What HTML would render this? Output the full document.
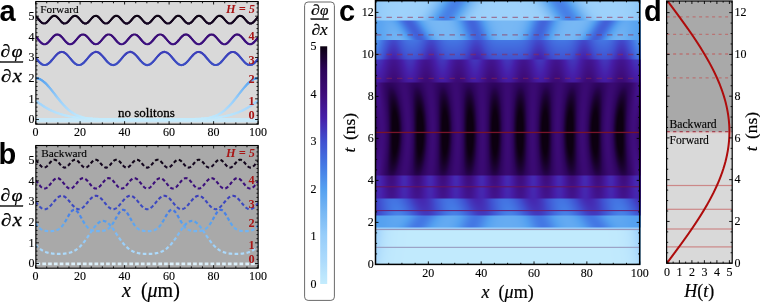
<!DOCTYPE html>
<html><head><meta charset="utf-8"><title>figure</title><style>
html,body{margin:0;padding:0;background:#fff;}
#root{position:relative;width:760px;height:302px;overflow:hidden;background:#fff;}
#root svg,#root canvas{position:absolute;left:0;top:0;}
#root svg{will-change:transform;}
#cv{left:375px !important;top:0px !important;width:266px;height:265px;}
</style></head><body><div id="root">
<svg id="base" width="760" height="302"><rect x="35.5" y="1" width="223" height="123.5" fill="#d9d9d9"/><rect x="35.5" y="145" width="223" height="123" fill="#a9a9a9"/><defs><clipPath id="clipA"><rect x="36" y="1.5" width="222" height="122.5"/></clipPath><clipPath id="clipB"><rect x="36" y="145.5" width="222" height="122"/></clipPath></defs><g clip-path="url(#clipA)"><path d="M35.6,120.2 L258.1,120.2" stroke="#c8e8f8" stroke-width="4.2" fill="none"/><g fill="none" stroke-width="2.2" stroke-linecap="round" stroke-linejoin="round"><path d="M35.60,100.91 L36.99,101.72" stroke="#9dd1fa"/><path d="M36.99,101.72 L38.32,102.62" stroke="#9ed2fb"/><path d="M38.32,102.62 L39.64,103.54" stroke="#a0d3fb"/><path d="M39.64,103.54 L40.97,104.46" stroke="#a2d4fb"/><path d="M40.97,104.46 L42.30,105.35" stroke="#a4d5fb"/><path d="M42.30,105.35 L43.65,106.23" stroke="#a5d6fb"/><path d="M43.65,106.23 L45.01,107.09" stroke="#a7d7fc"/><path d="M45.01,107.09 L46.39,107.92" stroke="#a9d8fc"/><path d="M46.39,107.92 L47.79,108.71" stroke="#aad9fc"/><path d="M47.79,108.71 L49.21,109.47" stroke="#acdafc"/><path d="M49.21,109.47 L50.65,110.20" stroke="#aedbfc"/><path d="M50.65,110.20 L52.10,110.90" stroke="#afdcfc"/><path d="M52.10,110.90 L53.57,111.55" stroke="#b1defc"/><path d="M53.57,111.55 L55.05,112.17" stroke="#b2dffc"/><path d="M55.05,112.17 L56.55,112.76" stroke="#b4e0fc"/><path d="M56.55,112.76 L58.07,113.31" stroke="#b5e1fc"/><path d="M58.07,113.31 L59.59,113.82" stroke="#b6e2fc"/><path d="M59.59,113.82 L61.13,114.30" stroke="#b7e3fc"/><path d="M61.13,114.30 L62.68,114.74" stroke="#b8e3fd"/><path d="M62.68,114.74 L64.23,115.15" stroke="#b9e4fd"/><path d="M64.23,115.15 L65.80,115.53" stroke="#bae5fd"/><path d="M65.80,115.53 L67.37,115.88" stroke="#bbe5fd"/><path d="M67.37,115.88 L68.95,116.21" stroke="#bce6fd"/><path d="M68.95,116.21 L70.53,116.50 L72.11,116.78" stroke="#bde7fd"/><path d="M72.11,116.78 L73.70,117.03" stroke="#bee7fd"/><path d="M73.70,117.03 L75.30,117.26 L76.89,117.47" stroke="#bfe8fd"/><path d="M76.89,117.47 L78.49,117.66" stroke="#bfe9fd"/><path d="M78.49,117.66 L80.09,117.83 L81.69,117.99" stroke="#c0e9fd"/><path d="M81.69,117.99 L83.30,118.14" stroke="#c1e9fd"/><path d="M83.30,118.14 L84.90,118.27 L86.51,118.39" stroke="#c1eafd"/><path d="M86.51,118.39 L88.11,118.50 L89.72,118.59 L91.33,118.68" stroke="#c2eafd"/><path d="M91.33,118.68 L92.93,118.76 L94.54,118.84" stroke="#c2ebfd"/><path d="M94.54,118.84 L96.15,118.90 L97.76,118.96 L99.37,119.02 L100.98,119.06 L102.59,119.11 L104.19,119.15 L105.80,119.18 L107.41,119.22" stroke="#c3ebfd"/><path d="M107.41,119.22 L109.02,119.25 L110.63,119.27 L112.24,119.30" stroke="#c3ecfd"/><path d="M112.24,119.30 L113.85,119.32 L115.46,119.34 L117.07,119.35 L118.68,119.37 L120.29,119.38 L121.90,119.39 L123.51,119.41 L125.12,119.42 L126.73,119.42 L128.34,119.43 L129.95,119.44 L131.56,119.45 L133.17,119.45 L134.78,119.46 L136.39,119.46 L138.00,119.47 L139.61,119.47 L141.22,119.47 L142.83,119.48 L144.44,119.48 L146.05,119.48 L147.65,119.48 L149.26,119.48 L150.87,119.48 L152.48,119.47 L154.09,119.47 L155.70,119.47 L157.31,119.46 L158.92,119.46 L160.53,119.45 L162.14,119.45 L163.75,119.44 L165.36,119.43 L166.97,119.42 L168.58,119.42 L170.19,119.41 L171.80,119.39 L173.41,119.38 L175.02,119.37 L176.63,119.35 L178.24,119.34 L179.85,119.32 L181.46,119.30" stroke="#c4ecfd"/><path d="M181.46,119.30 L183.07,119.27 L184.68,119.25 L186.29,119.22" stroke="#c3ecfd"/><path d="M186.29,119.22 L187.90,119.18 L189.51,119.15 L191.11,119.11 L192.72,119.06 L194.33,119.02 L195.94,118.96 L197.55,118.90 L199.16,118.84" stroke="#c3ebfd"/><path d="M199.16,118.84 L200.77,118.76 L202.37,118.68" stroke="#c2ebfd"/><path d="M202.37,118.68 L203.98,118.59 L205.59,118.50 L207.19,118.39" stroke="#c2eafd"/><path d="M207.19,118.39 L208.80,118.27 L210.40,118.14" stroke="#c1eafd"/><path d="M210.40,118.14 L212.01,117.99" stroke="#c1e9fd"/><path d="M212.01,117.99 L213.61,117.83 L215.21,117.66" stroke="#c0e9fd"/><path d="M215.21,117.66 L216.81,117.47" stroke="#bfe9fd"/><path d="M216.81,117.47 L218.40,117.26 L220.00,117.03" stroke="#bfe8fd"/><path d="M220.00,117.03 L221.59,116.78" stroke="#bee7fd"/><path d="M221.59,116.78 L223.17,116.50 L224.75,116.21" stroke="#bde7fd"/><path d="M224.75,116.21 L226.33,115.88" stroke="#bce6fd"/><path d="M226.33,115.88 L227.90,115.53" stroke="#bbe5fd"/><path d="M227.90,115.53 L229.47,115.15" stroke="#bae5fd"/><path d="M229.47,115.15 L231.02,114.74" stroke="#b9e4fd"/><path d="M231.02,114.74 L232.57,114.30" stroke="#b8e3fd"/><path d="M232.57,114.30 L234.11,113.82" stroke="#b7e3fc"/><path d="M234.11,113.82 L235.63,113.31" stroke="#b6e2fc"/><path d="M235.63,113.31 L237.15,112.76" stroke="#b5e1fc"/><path d="M237.15,112.76 L238.65,112.17" stroke="#b4e0fc"/><path d="M238.65,112.17 L240.13,111.55" stroke="#b2dffc"/><path d="M240.13,111.55 L241.60,110.90" stroke="#b1defc"/><path d="M241.60,110.90 L243.05,110.20" stroke="#afdcfc"/><path d="M243.05,110.20 L244.49,109.47" stroke="#aedbfc"/><path d="M244.49,109.47 L245.91,108.71" stroke="#acdafc"/><path d="M245.91,108.71 L247.31,107.92" stroke="#aad9fc"/><path d="M247.31,107.92 L248.69,107.09" stroke="#a9d8fc"/><path d="M248.69,107.09 L250.05,106.23" stroke="#a7d7fc"/><path d="M250.05,106.23 L251.40,105.35" stroke="#a5d6fb"/><path d="M251.40,105.35 L252.73,104.46" stroke="#a4d5fb"/><path d="M252.73,104.46 L254.06,103.54" stroke="#a2d4fb"/><path d="M254.06,103.54 L255.38,102.62" stroke="#a0d3fb"/><path d="M255.38,102.62 L256.71,101.72" stroke="#9ed2fb"/><path d="M256.71,101.72 L258.10,100.91" stroke="#9dd1fa"/></g><g fill="none" stroke-width="2.2" stroke-linecap="round" stroke-linejoin="round"><path d="M35.60,78.18 L37.20,78.32" stroke="#54a0f0"/><path d="M37.20,78.32 L38.76,78.73" stroke="#55a1f0"/><path d="M38.76,78.73 L40.24,79.35" stroke="#57a2f0"/><path d="M40.24,79.35 L41.64,80.14" stroke="#59a4f1"/><path d="M41.64,80.14 L42.96,81.06" stroke="#5ca6f1"/><path d="M42.96,81.06 L44.21,82.07" stroke="#60a8f1"/><path d="M44.21,82.07 L45.40,83.15" stroke="#63aaf2"/><path d="M45.40,83.15 L46.54,84.29" stroke="#67adf2"/><path d="M46.54,84.29 L47.65,85.46" stroke="#6bb0f3"/><path d="M47.65,85.46 L48.72,86.66" stroke="#6fb2f3"/><path d="M48.72,86.66 L49.76,87.88" stroke="#74b5f4"/><path d="M49.76,87.88 L50.78,89.13" stroke="#78b8f4"/><path d="M50.78,89.13 L51.79,90.38" stroke="#7cbbf5"/><path d="M51.79,90.38 L52.78,91.64" stroke="#80bdf5"/><path d="M52.78,91.64 L53.77,92.91" stroke="#84c0f6"/><path d="M53.77,92.91 L54.76,94.19" stroke="#88c3f7"/><path d="M54.76,94.19 L55.74,95.46" stroke="#8cc5f8"/><path d="M55.74,95.46 L56.73,96.73" stroke="#8fc8f8"/><path d="M56.73,96.73 L57.72,98.00" stroke="#93cbf9"/><path d="M57.72,98.00 L58.72,99.26" stroke="#97cefa"/><path d="M58.72,99.26 L59.73,100.51" stroke="#9acffa"/><path d="M59.73,100.51 L60.76,101.75" stroke="#9cd1fa"/><path d="M60.76,101.75 L61.80,102.97" stroke="#9fd2fb"/><path d="M61.80,102.97 L62.86,104.18" stroke="#a1d4fb"/><path d="M62.86,104.18 L63.95,105.37" stroke="#a3d5fb"/><path d="M63.95,105.37 L65.06,106.53" stroke="#a6d6fb"/><path d="M65.06,106.53 L66.20,107.66" stroke="#a8d8fc"/><path d="M66.20,107.66 L67.37,108.77" stroke="#aad9fc"/><path d="M67.37,108.77 L68.58,109.83" stroke="#acdafc"/><path d="M68.58,109.83 L69.82,110.85" stroke="#afdcfc"/><path d="M69.82,110.85 L71.11,111.82" stroke="#b1defc"/><path d="M71.11,111.82 L72.43,112.74" stroke="#b3dffc"/><path d="M72.43,112.74 L73.79,113.60" stroke="#b5e1fc"/><path d="M73.79,113.60 L75.18,114.40" stroke="#b7e2fc"/><path d="M75.18,114.40 L76.62,115.13" stroke="#b9e4fd"/><path d="M76.62,115.13 L78.09,115.79" stroke="#bbe5fd"/><path d="M78.09,115.79 L79.58,116.38" stroke="#bce6fd"/><path d="M79.58,116.38 L81.10,116.90" stroke="#bde7fd"/><path d="M81.10,116.90 L82.65,117.35" stroke="#bee8fd"/><path d="M82.65,117.35 L84.21,117.74" stroke="#bfe9fd"/><path d="M84.21,117.74 L85.78,118.07" stroke="#c0e9fd"/><path d="M85.78,118.07 L87.37,118.35" stroke="#c1eafd"/><path d="M87.37,118.35 L88.96,118.58" stroke="#c2eafd"/><path d="M88.96,118.58 L90.56,118.77 L92.16,118.92" stroke="#c2ebfd"/><path d="M92.16,118.92 L93.76,119.05 L95.37,119.15 L96.98,119.23" stroke="#c3ebfd"/><path d="M96.98,119.23 L98.58,119.29" stroke="#c3ecfd"/><path d="M98.58,119.29 L100.19,119.34 L101.80,119.38 L103.41,119.41 L105.02,119.43 L106.63,119.45 L108.24,119.46 L109.85,119.47 L111.45,119.48 L113.06,119.49 L114.67,119.49 L116.28,119.49 L117.89,119.50 L119.50,119.50 L121.11,119.50 L122.72,119.50 L124.33,119.50 L125.93,119.50 L127.54,119.50 L129.15,119.50 L130.76,119.50 L132.37,119.50 L133.98,119.50 L135.59,119.50 L137.20,119.50 L138.81,119.50 L140.41,119.50 L142.02,119.50 L143.63,119.50 L145.24,119.50 L146.85,119.50 L148.46,119.50 L150.07,119.50 L151.68,119.50 L153.29,119.50 L154.89,119.50 L156.50,119.50 L158.11,119.50 L159.72,119.50 L161.33,119.50 L162.94,119.50 L164.55,119.50 L166.16,119.50 L167.77,119.50 L169.37,119.50 L170.98,119.50 L172.59,119.50 L174.20,119.50 L175.81,119.50 L177.42,119.49 L179.03,119.49 L180.64,119.49 L182.25,119.48 L183.85,119.47 L185.46,119.46 L187.07,119.45 L188.68,119.43 L190.29,119.41 L191.90,119.38 L193.51,119.34 L195.12,119.29" stroke="#c4ecfd"/><path d="M195.12,119.29 L196.72,119.23" stroke="#c3ecfd"/><path d="M196.72,119.23 L198.33,119.15 L199.94,119.05 L201.54,118.92" stroke="#c3ebfd"/><path d="M201.54,118.92 L203.14,118.77 L204.74,118.58" stroke="#c2ebfd"/><path d="M204.74,118.58 L206.33,118.35" stroke="#c2eafd"/><path d="M206.33,118.35 L207.92,118.07" stroke="#c1eafd"/><path d="M207.92,118.07 L209.49,117.74" stroke="#c0e9fd"/><path d="M209.49,117.74 L211.05,117.35" stroke="#bfe9fd"/><path d="M211.05,117.35 L212.60,116.90" stroke="#bee8fd"/><path d="M212.60,116.90 L214.12,116.38" stroke="#bde7fd"/><path d="M214.12,116.38 L215.61,115.79" stroke="#bce6fd"/><path d="M215.61,115.79 L217.08,115.13" stroke="#bbe5fd"/><path d="M217.08,115.13 L218.52,114.40" stroke="#b9e4fd"/><path d="M218.52,114.40 L219.91,113.60" stroke="#b7e2fc"/><path d="M219.91,113.60 L221.27,112.74" stroke="#b5e1fc"/><path d="M221.27,112.74 L222.59,111.82" stroke="#b3dffc"/><path d="M222.59,111.82 L223.88,110.85" stroke="#b1defc"/><path d="M223.88,110.85 L225.12,109.83" stroke="#afdcfc"/><path d="M225.12,109.83 L226.33,108.77" stroke="#acdafc"/><path d="M226.33,108.77 L227.50,107.66" stroke="#aad9fc"/><path d="M227.50,107.66 L228.64,106.53" stroke="#a8d8fc"/><path d="M228.64,106.53 L229.75,105.37" stroke="#a6d6fb"/><path d="M229.75,105.37 L230.84,104.18" stroke="#a3d5fb"/><path d="M230.84,104.18 L231.90,102.97" stroke="#a1d4fb"/><path d="M231.90,102.97 L232.94,101.75" stroke="#9fd2fb"/><path d="M232.94,101.75 L233.97,100.51" stroke="#9cd1fa"/><path d="M233.97,100.51 L234.98,99.26" stroke="#9acffa"/><path d="M234.98,99.26 L235.98,98.00" stroke="#97cefa"/><path d="M235.98,98.00 L236.97,96.73" stroke="#93cbf9"/><path d="M236.97,96.73 L237.96,95.46" stroke="#8fc8f8"/><path d="M237.96,95.46 L238.94,94.19" stroke="#8cc5f8"/><path d="M238.94,94.19 L239.93,92.91" stroke="#88c3f7"/><path d="M239.93,92.91 L240.92,91.64" stroke="#84c0f6"/><path d="M240.92,91.64 L241.91,90.38" stroke="#80bdf5"/><path d="M241.91,90.38 L242.92,89.13" stroke="#7cbbf5"/><path d="M242.92,89.13 L243.94,87.88" stroke="#78b8f4"/><path d="M243.94,87.88 L244.98,86.66" stroke="#74b5f4"/><path d="M244.98,86.66 L246.05,85.46" stroke="#6fb2f3"/><path d="M246.05,85.46 L247.16,84.29" stroke="#6bb0f3"/><path d="M247.16,84.29 L248.30,83.15" stroke="#67adf2"/><path d="M248.30,83.15 L249.49,82.07" stroke="#63aaf2"/><path d="M249.49,82.07 L250.74,81.06" stroke="#60a8f1"/><path d="M250.74,81.06 L252.06,80.14" stroke="#5ca6f1"/><path d="M252.06,80.14 L253.46,79.35" stroke="#59a4f1"/><path d="M253.46,79.35 L254.94,78.73" stroke="#57a2f0"/><path d="M254.94,78.73 L256.50,78.32" stroke="#55a1f0"/><path d="M256.50,78.32 L258.10,78.18" stroke="#54a0f0"/></g><g fill="none" stroke-width="2.1" stroke-linecap="round" stroke-linejoin="round"><path d="M35.60,57.83 L36.62,59.07" stroke="#3c47bf"/><path d="M36.62,59.07 L37.65,60.29" stroke="#3c48c0"/><path d="M37.65,60.29 L38.71,61.49" stroke="#3c4ac1"/><path d="M38.71,61.49 L39.83,62.63" stroke="#3c4bc1"/><path d="M39.83,62.63 L41.05,63.67" stroke="#3c4cc2"/><path d="M41.05,63.67 L42.40,64.52" stroke="#3d4dc2"/><path d="M42.40,64.52 L43.91,65.03 L45.51,65.03 L47.02,64.51" stroke="#3d4ec3"/><path d="M47.02,64.51 L48.37,63.66" stroke="#3d4dc2"/><path d="M48.37,63.66 L49.58,62.62" stroke="#3c4cc2"/><path d="M49.58,62.62 L50.70,61.48" stroke="#3c4bc1"/><path d="M50.70,61.48 L51.76,60.28" stroke="#3c4ac0"/><path d="M51.76,60.28 L52.79,59.05" stroke="#3c48c0"/><path d="M52.79,59.05 L53.81,57.82" stroke="#3c47bf"/><path d="M53.81,57.82 L54.84,56.59" stroke="#3c45be"/><path d="M54.84,56.59 L55.91,55.40" stroke="#3c44bd"/><path d="M55.91,55.40 L57.04,54.27" stroke="#3c42bc"/><path d="M57.04,54.27 L58.27,53.24" stroke="#3c41bb"/><path d="M58.27,53.24 L59.64,52.42" stroke="#3d3fba"/><path d="M59.64,52.42 L61.16,51.95" stroke="#3d3fb9"/><path d="M61.16,51.95 L62.75,52.00" stroke="#3d3eb9"/><path d="M62.75,52.00 L64.25,52.56" stroke="#3d3fb9"/><path d="M64.25,52.56 L65.58,53.43" stroke="#3d40ba"/><path d="M65.58,53.43 L66.79,54.48" stroke="#3c41bb"/><path d="M66.79,54.48 L67.90,55.63" stroke="#3c43bc"/><path d="M67.90,55.63 L68.96,56.83" stroke="#3c44bd"/><path d="M68.96,56.83 L69.99,58.06" stroke="#3c46bf"/><path d="M69.99,58.06 L71.01,59.29" stroke="#3c47bf"/><path d="M71.01,59.29 L72.04,60.52" stroke="#3c48c0"/><path d="M72.04,60.52 L73.11,61.71" stroke="#3c4ac1"/><path d="M73.11,61.71 L74.25,62.83" stroke="#3c4bc1"/><path d="M74.25,62.83 L75.49,63.84" stroke="#3c4cc2"/><path d="M75.49,63.84 L76.87,64.65" stroke="#3d4dc2"/><path d="M76.87,64.65 L78.41,65.07 L79.99,64.97 L81.48,64.37" stroke="#3d4ec3"/><path d="M81.48,64.37 L82.80,63.48" stroke="#3c4dc2"/><path d="M82.80,63.48 L83.99,62.41" stroke="#3c4cc2"/><path d="M83.99,62.41 L85.10,61.26" stroke="#3c4bc1"/><path d="M85.10,61.26 L86.16,60.05" stroke="#3c49c0"/><path d="M86.16,60.05 L87.18,58.83" stroke="#3c48c0"/><path d="M87.18,58.83 L88.20,57.59" stroke="#3c47bf"/><path d="M88.20,57.59 L89.24,56.37" stroke="#3c45be"/><path d="M89.24,56.37 L90.31,55.19" stroke="#3c44bd"/><path d="M90.31,55.19 L91.46,54.07" stroke="#3c42bc"/><path d="M91.46,54.07 L92.71,53.07" stroke="#3c41bb"/><path d="M92.71,53.07 L94.11,52.30 L95.65,51.91" stroke="#3d3fb9"/><path d="M95.65,51.91 L97.24,52.07" stroke="#3d3eb9"/><path d="M97.24,52.07 L98.70,52.70" stroke="#3d3fb9"/><path d="M98.70,52.70 L100.01,53.62" stroke="#3d40ba"/><path d="M100.01,53.62 L101.20,54.69" stroke="#3c41bb"/><path d="M101.20,54.69 L102.30,55.85" stroke="#3c43bc"/><path d="M102.30,55.85 L103.35,57.06" stroke="#3c45be"/><path d="M103.35,57.06 L104.38,58.29" stroke="#3c46bf"/><path d="M104.38,58.29 L105.40,59.52" stroke="#3c47c0"/><path d="M105.40,59.52 L106.43,60.74" stroke="#3c49c0"/><path d="M106.43,60.74 L107.51,61.92" stroke="#3c4ac1"/><path d="M107.51,61.92 L108.67,63.03" stroke="#3c4bc2"/><path d="M108.67,63.03 L109.93,64.01" stroke="#3c4cc2"/><path d="M109.93,64.01 L111.34,64.76" stroke="#3d4dc2"/><path d="M111.34,64.76 L112.90,65.09 L114.48,64.89" stroke="#3d4ec3"/><path d="M114.48,64.89 L115.93,64.23" stroke="#3d4dc3"/><path d="M115.93,64.23 L117.23,63.29" stroke="#3c4dc2"/><path d="M117.23,63.29 L118.40,62.21" stroke="#3c4cc2"/><path d="M118.40,62.21 L119.50,61.04" stroke="#3c4ac1"/><path d="M119.50,61.04 L120.55,59.83" stroke="#3c49c0"/><path d="M120.55,59.83 L121.57,58.60" stroke="#3c48c0"/><path d="M121.57,58.60 L122.59,57.37" stroke="#3c46bf"/><path d="M122.59,57.37 L123.63,56.15" stroke="#3c45be"/><path d="M123.63,56.15 L124.72,54.98" stroke="#3c43bc"/><path d="M124.72,54.98 L125.88,53.87" stroke="#3c42bb"/><path d="M125.88,53.87 L127.15,52.91" stroke="#3c40ba"/><path d="M127.15,52.91 L128.58,52.19 L130.15,51.90" stroke="#3d3fb9"/><path d="M130.15,51.90 L131.72,52.16" stroke="#3d3eb9"/><path d="M131.72,52.16 L133.16,52.85" stroke="#3d3fb9"/><path d="M133.16,52.85 L134.44,53.80" stroke="#3c40ba"/><path d="M134.44,53.80 L135.61,54.90" stroke="#3c42bb"/><path d="M135.61,54.90 L136.70,56.07" stroke="#3c43bc"/><path d="M136.70,56.07 L137.74,57.28" stroke="#3c45be"/><path d="M137.74,57.28 L138.76,58.52" stroke="#3c46bf"/><path d="M138.76,58.52 L139.78,59.75" stroke="#3c48c0"/><path d="M139.78,59.75 L140.83,60.96" stroke="#3c49c0"/><path d="M140.83,60.96 L141.92,62.13" stroke="#3c4ac1"/><path d="M141.92,62.13 L143.09,63.22" stroke="#3c4cc2"/><path d="M143.09,63.22 L144.38,64.17" stroke="#3c4dc2"/><path d="M144.38,64.17 L145.82,64.86" stroke="#3d4dc3"/><path d="M145.82,64.86 L147.39,65.10 L148.96,64.79" stroke="#3d4ec3"/><path d="M148.96,64.79 L150.38,64.07" stroke="#3d4dc2"/><path d="M150.38,64.07 L151.65,63.10" stroke="#3c4cc2"/><path d="M151.65,63.10 L152.81,62.00" stroke="#3c4bc2"/><path d="M152.81,62.00 L153.89,60.82" stroke="#3c4ac1"/><path d="M153.89,60.82 L154.94,59.60" stroke="#3c49c0"/><path d="M154.94,59.60 L155.96,58.37" stroke="#3c48c0"/><path d="M155.96,58.37 L156.98,57.14" stroke="#3c46bf"/><path d="M156.98,57.14 L158.03,55.93" stroke="#3c45be"/><path d="M158.03,55.93 L159.12,54.77" stroke="#3c43bc"/><path d="M159.12,54.77 L160.30,53.68" stroke="#3c41bb"/><path d="M160.30,53.68 L161.60,52.75" stroke="#3c40ba"/><path d="M161.60,52.75 L163.06,52.10" stroke="#3d3fb9"/><path d="M163.06,52.10 L164.64,51.91" stroke="#3d3eb9"/><path d="M164.64,51.91 L166.20,52.26 L167.60,53.01" stroke="#3d3fb9"/><path d="M167.60,53.01 L168.86,54.00" stroke="#3c41ba"/><path d="M168.86,54.00 L170.01,55.11" stroke="#3c42bc"/><path d="M170.01,55.11 L171.09,56.29" stroke="#3c43bd"/><path d="M171.09,56.29 L172.13,57.51" stroke="#3c45be"/><path d="M172.13,57.51 L173.15,58.74" stroke="#3c46bf"/><path d="M173.15,58.74 L174.17,59.97" stroke="#3c48c0"/><path d="M174.17,59.97 L175.23,61.18" stroke="#3c49c0"/><path d="M175.23,61.18 L176.33,62.34" stroke="#3c4ac1"/><path d="M176.33,62.34 L177.52,63.41" stroke="#3c4cc2"/><path d="M177.52,63.41 L178.83,64.32" stroke="#3c4dc2"/><path d="M178.83,64.32 L180.30,64.94 L181.89,65.08 L183.43,64.69" stroke="#3d4ec3"/><path d="M183.43,64.69 L184.82,63.91" stroke="#3d4dc2"/><path d="M184.82,63.91 L186.07,62.90" stroke="#3c4cc2"/><path d="M186.07,62.90 L187.21,61.78" stroke="#3c4bc1"/><path d="M187.21,61.78 L188.29,60.60" stroke="#3c4ac1"/><path d="M188.29,60.60 L189.32,59.38" stroke="#3c49c0"/><path d="M189.32,59.38 L190.34,58.14" stroke="#3c47bf"/><path d="M190.34,58.14 L191.37,56.92" stroke="#3c46bf"/><path d="M191.37,56.92 L192.42,55.71" stroke="#3c44bd"/><path d="M192.42,55.71 L193.53,54.56" stroke="#3c43bc"/><path d="M193.53,54.56 L194.73,53.50" stroke="#3c41bb"/><path d="M194.73,53.50 L196.06,52.61" stroke="#3d40ba"/><path d="M196.06,52.61 L197.54,52.02" stroke="#3d3fb9"/><path d="M197.54,52.02 L199.13,51.93" stroke="#3d3eb9"/><path d="M199.13,51.93 L200.67,52.37" stroke="#3d3fb9"/><path d="M200.67,52.37 L202.04,53.18" stroke="#3d3fba"/><path d="M202.04,53.18 L203.28,54.19" stroke="#3c41bb"/><path d="M203.28,54.19 L204.42,55.32" stroke="#3c42bc"/><path d="M204.42,55.32 L205.49,56.51" stroke="#3c44bd"/><path d="M205.49,56.51 L206.52,57.74" stroke="#3c45be"/><path d="M206.52,57.74 L207.54,58.97" stroke="#3c47bf"/><path d="M207.54,58.97 L208.57,60.20" stroke="#3c48c0"/><path d="M208.57,60.20 L209.62,61.40" stroke="#3c4ac0"/><path d="M209.62,61.40 L210.74,62.54" stroke="#3c4bc1"/><path d="M210.74,62.54 L211.95,63.59" stroke="#3c4cc2"/><path d="M211.95,63.59 L213.29,64.46" stroke="#3d4dc2"/><path d="M213.29,64.46 L214.79,65.01 L216.38,65.05 L217.90,64.57" stroke="#3d4ec3"/><path d="M217.90,64.57 L219.26,63.73" stroke="#3d4dc2"/><path d="M219.26,63.73 L220.49,62.71" stroke="#3c4cc2"/><path d="M220.49,62.71 L221.62,61.57" stroke="#3c4bc1"/><path d="M221.62,61.57 L222.68,60.38" stroke="#3c4ac1"/><path d="M222.68,60.38 L223.71,59.15" stroke="#3c48c0"/><path d="M223.71,59.15 L224.73,57.92" stroke="#3c47bf"/><path d="M224.73,57.92 L225.76,56.69" stroke="#3c46be"/><path d="M225.76,56.69 L226.82,55.49" stroke="#3c44bd"/><path d="M226.82,55.49 L227.95,54.35" stroke="#3c42bc"/><path d="M227.95,54.35 L229.16,53.32" stroke="#3c41bb"/><path d="M229.16,53.32 L230.52,52.47" stroke="#3d40ba"/><path d="M230.52,52.47 L232.03,51.97" stroke="#3d3fb9"/><path d="M232.03,51.97 L233.63,51.98" stroke="#3d3eb9"/><path d="M233.63,51.98 L235.13,52.50" stroke="#3d3fb9"/><path d="M235.13,52.50 L236.48,53.35" stroke="#3d40ba"/><path d="M236.48,53.35 L237.70,54.40" stroke="#3c41bb"/><path d="M237.70,54.40 L238.82,55.54" stroke="#3c43bc"/><path d="M238.82,55.54 L239.88,56.74" stroke="#3c44bd"/><path d="M239.88,56.74 L240.91,57.96" stroke="#3c46be"/><path d="M240.91,57.96 L241.93,59.20" stroke="#3c47bf"/><path d="M241.93,59.20 L242.96,60.42" stroke="#3c48c0"/><path d="M242.96,60.42 L244.02,61.61" stroke="#3c4ac1"/><path d="M244.02,61.61 L245.15,62.75" stroke="#3c4bc1"/><path d="M245.15,62.75 L246.38,63.77" stroke="#3c4cc2"/><path d="M246.38,63.77 L247.75,64.59" stroke="#3d4dc2"/><path d="M247.75,64.59 L249.28,65.06 L250.87,64.99 L252.36,64.43" stroke="#3d4ec3"/><path d="M252.36,64.43 L253.70,63.56" stroke="#3d4dc2"/><path d="M253.70,63.56 L254.90,62.50" stroke="#3c4cc2"/><path d="M254.90,62.50 L256.02,61.35" stroke="#3c4bc1"/><path d="M256.02,61.35 L257.07,60.15" stroke="#3c4ac0"/><path d="M257.07,60.15 L258.10,58.92" stroke="#3c48c0"/></g><g fill="none" stroke-width="2.1" stroke-linecap="round" stroke-linejoin="round"><path d="M35.60,36.53 L36.69,37.71" stroke="#3b0d77"/><path d="M36.69,37.71 L37.73,38.93" stroke="#3b0e79"/><path d="M37.73,38.93 L38.75,40.17" stroke="#3c0f7a"/><path d="M38.75,40.17 L39.80,41.38" stroke="#3c0f7c"/><path d="M39.80,41.38 L40.92,42.53" stroke="#3c107e"/><path d="M40.92,42.53 L42.18,43.52" stroke="#3d117f"/><path d="M42.18,43.52 L43.63,44.19 L45.22,44.22 L46.69,43.61" stroke="#3d1180"/><path d="M46.69,43.61 L47.96,42.63" stroke="#3d117f"/><path d="M47.96,42.63 L49.09,41.49" stroke="#3c107e"/><path d="M49.09,41.49 L50.15,40.29" stroke="#3c0f7c"/><path d="M50.15,40.29 L51.17,39.05" stroke="#3c0f7b"/><path d="M51.17,39.05 L52.21,37.83" stroke="#3b0e79"/><path d="M52.21,37.83 L53.29,36.64" stroke="#3b0e78"/><path d="M53.29,36.64 L54.48,35.57" stroke="#3b0d77"/><path d="M54.48,35.57 L55.84,34.73" stroke="#3a0d76"/><path d="M55.84,34.73 L57.40,34.40 L58.95,34.78" stroke="#3a0d75"/><path d="M58.95,34.78 L60.30,35.63" stroke="#3a0d76"/><path d="M60.30,35.63 L61.48,36.72" stroke="#3b0d77"/><path d="M61.48,36.72 L62.56,37.90" stroke="#3b0e78"/><path d="M62.56,37.90 L63.59,39.13" stroke="#3b0e79"/><path d="M63.59,39.13 L64.62,40.36" stroke="#3c0f7b"/><path d="M64.62,40.36 L65.68,41.57" stroke="#3c0f7c"/><path d="M65.68,41.57 L66.81,42.70" stroke="#3c107e"/><path d="M66.81,42.70 L68.10,43.66" stroke="#3d117f"/><path d="M68.10,43.66 L69.58,44.24 L71.17,44.16 L72.61,43.47" stroke="#3d1180"/><path d="M72.61,43.47 L73.85,42.46" stroke="#3d117f"/><path d="M73.85,42.46 L74.96,41.30" stroke="#3c107d"/><path d="M74.96,41.30 L76.01,40.09" stroke="#3c0f7c"/><path d="M76.01,40.09 L77.04,38.85" stroke="#3c0f7a"/><path d="M77.04,38.85 L78.07,37.63" stroke="#3b0e79"/><path d="M78.07,37.63 L79.17,36.46" stroke="#3b0d77"/><path d="M79.17,36.46 L80.38,35.42" stroke="#3b0d76"/><path d="M80.38,35.42 L81.78,34.64 L83.36,34.42 L84.88,34.89" stroke="#3a0d75"/><path d="M84.88,34.89 L86.20,35.80" stroke="#3a0d76"/><path d="M86.20,35.80 L87.36,36.90" stroke="#3b0d77"/><path d="M87.36,36.90 L88.43,38.10" stroke="#3b0e78"/><path d="M88.43,38.10 L89.46,39.33" stroke="#3b0e79"/><path d="M89.46,39.33 L90.48,40.56" stroke="#3c0f7b"/><path d="M90.48,40.56 L91.55,41.76" stroke="#3c0f7c"/><path d="M91.55,41.76 L92.71,42.87" stroke="#3c107e"/><path d="M92.71,42.87 L94.02,43.78" stroke="#3d117f"/><path d="M94.02,43.78 L95.53,44.28 L97.11,44.08 L98.52,43.32" stroke="#3d1180"/><path d="M98.52,43.32 L99.73,42.28" stroke="#3d107e"/><path d="M99.73,42.28 L100.84,41.11" stroke="#3c107d"/><path d="M100.84,41.11 L101.88,39.89" stroke="#3c0f7c"/><path d="M101.88,39.89 L102.90,38.66" stroke="#3c0f7a"/><path d="M102.90,38.66 L103.95,37.44" stroke="#3b0e79"/><path d="M103.95,37.44 L105.06,36.28" stroke="#3b0d77"/><path d="M105.06,36.28 L106.29,35.27" stroke="#3b0d76"/><path d="M106.29,35.27 L107.72,34.56 L109.31,34.45 L110.80,35.01" stroke="#3a0d75"/><path d="M110.80,35.01 L112.09,35.96" stroke="#3b0d76"/><path d="M112.09,35.96 L113.23,37.09" stroke="#3b0d77"/><path d="M113.23,37.09 L114.29,38.29" stroke="#3b0e78"/><path d="M114.29,38.29 L115.32,39.52" stroke="#3c0f7a"/><path d="M115.32,39.52 L116.35,40.75" stroke="#3c0f7b"/><path d="M116.35,40.75 L117.43,41.94" stroke="#3c107d"/><path d="M117.43,41.94 L118.60,43.03" stroke="#3c107e"/><path d="M118.60,43.03 L119.95,43.90" stroke="#3d117f"/><path d="M119.95,43.90 L121.49,44.30 L123.05,43.99 L124.42,43.17" stroke="#3d1180"/><path d="M124.42,43.17 L125.62,42.10" stroke="#3c107e"/><path d="M125.62,42.10 L126.70,40.92" stroke="#3c107d"/><path d="M126.70,40.92 L127.74,39.70" stroke="#3c0f7b"/><path d="M127.74,39.70 L128.76,38.46" stroke="#3c0f7a"/><path d="M128.76,38.46 L129.82,37.25" stroke="#3b0e78"/><path d="M129.82,37.25 L130.94,36.11" stroke="#3b0d77"/><path d="M130.94,36.11 L132.21,35.13" stroke="#3b0d76"/><path d="M132.21,35.13 L133.67,34.49 L135.26,34.50 L136.72,35.14" stroke="#3a0d75"/><path d="M136.72,35.14 L137.98,36.13" stroke="#3b0d76"/><path d="M137.98,36.13 L139.11,37.28" stroke="#3b0d77"/><path d="M139.11,37.28 L140.16,38.49" stroke="#3b0e79"/><path d="M140.16,38.49 L141.18,39.72" stroke="#3c0f7a"/><path d="M141.18,39.72 L142.22,40.95" stroke="#3c0f7b"/><path d="M142.22,40.95 L143.31,42.12" stroke="#3c107d"/><path d="M143.31,42.12 L144.51,43.19" stroke="#3c107e"/><path d="M144.51,43.19 L145.88,44.00 L147.45,44.29 L148.98,43.88" stroke="#3d1180"/><path d="M148.98,43.88 L150.32,43.01" stroke="#3d117f"/><path d="M150.32,43.01 L151.50,41.92" stroke="#3c107e"/><path d="M151.50,41.92 L152.57,40.73" stroke="#3c107d"/><path d="M152.57,40.73 L153.60,39.50" stroke="#3c0f7b"/><path d="M153.60,39.50 L154.63,38.27" stroke="#3c0f7a"/><path d="M154.63,38.27 L155.69,37.06" stroke="#3b0e78"/><path d="M155.69,37.06 L156.84,35.94" stroke="#3b0d77"/><path d="M156.84,35.94 L158.13,34.99" stroke="#3b0d76"/><path d="M158.13,34.99 L159.62,34.44 L161.21,34.57 L162.63,35.29" stroke="#3a0d75"/><path d="M162.63,35.29 L163.87,36.31" stroke="#3b0d76"/><path d="M163.87,36.31 L164.98,37.47" stroke="#3b0d77"/><path d="M164.98,37.47 L166.02,38.68" stroke="#3b0e79"/><path d="M166.02,38.68 L167.05,39.92" stroke="#3c0f7a"/><path d="M167.05,39.92 L168.09,41.14" stroke="#3c0f7c"/><path d="M168.09,41.14 L169.19,42.30" stroke="#3c107d"/><path d="M169.19,42.30 L170.41,43.34" stroke="#3d107f"/><path d="M170.41,43.34 L171.82,44.10 L173.40,44.27 L174.91,43.77" stroke="#3d1180"/><path d="M174.91,43.77 L176.22,42.84" stroke="#3d117f"/><path d="M176.22,42.84 L177.37,41.73" stroke="#3c107e"/><path d="M177.37,41.73 L178.44,40.53" stroke="#3c0f7c"/><path d="M178.44,40.53 L179.47,39.30" stroke="#3c0f7b"/><path d="M179.47,39.30 L180.50,38.07" stroke="#3b0e79"/><path d="M180.50,38.07 L181.57,36.88" stroke="#3b0e78"/><path d="M181.57,36.88 L182.73,35.77" stroke="#3b0d77"/><path d="M182.73,35.77 L184.05,34.87" stroke="#3a0d76"/><path d="M184.05,34.87 L185.58,34.41 L187.15,34.65 L188.54,35.44" stroke="#3a0d75"/><path d="M188.54,35.44 L189.75,36.49" stroke="#3b0d76"/><path d="M189.75,36.49 L190.85,37.66" stroke="#3b0d77"/><path d="M190.85,37.66 L191.89,38.88" stroke="#3b0e79"/><path d="M191.89,38.88 L192.91,40.12" stroke="#3c0f7a"/><path d="M192.91,40.12 L193.96,41.33" stroke="#3c0f7c"/><path d="M193.96,41.33 L195.08,42.48" stroke="#3c107d"/><path d="M195.08,42.48 L196.32,43.49" stroke="#3d117f"/><path d="M196.32,43.49 L197.77,44.17 L199.35,44.23 L200.83,43.64" stroke="#3d1180"/><path d="M200.83,43.64 L202.11,42.67" stroke="#3d117f"/><path d="M202.11,42.67 L203.25,41.54" stroke="#3c107e"/><path d="M203.25,41.54 L204.30,40.34" stroke="#3c0f7c"/><path d="M204.30,40.34 L205.33,39.10" stroke="#3c0f7b"/><path d="M205.33,39.10 L206.36,37.88" stroke="#3b0e79"/><path d="M206.36,37.88 L207.44,36.69" stroke="#3b0e78"/><path d="M207.44,36.69 L208.63,35.61" stroke="#3b0d77"/><path d="M208.63,35.61 L209.98,34.76" stroke="#3a0d76"/><path d="M209.98,34.76 L211.53,34.40 L213.09,34.75" stroke="#3a0d75"/><path d="M213.09,34.75 L214.45,35.59" stroke="#3a0d76"/><path d="M214.45,35.59 L215.63,36.67" stroke="#3b0d77"/><path d="M215.63,36.67 L216.72,37.85" stroke="#3b0e78"/><path d="M216.72,37.85 L217.75,39.08" stroke="#3b0e79"/><path d="M217.75,39.08 L218.77,40.31" stroke="#3c0f7b"/><path d="M218.77,40.31 L219.83,41.52" stroke="#3c0f7c"/><path d="M219.83,41.52 L220.96,42.65" stroke="#3c107e"/><path d="M220.96,42.65 L222.24,43.62" stroke="#3d117f"/><path d="M222.24,43.62 L223.71,44.23 L225.30,44.18 L226.75,43.50" stroke="#3d1180"/><path d="M226.75,43.50 L228.00,42.50" stroke="#3d117f"/><path d="M228.00,42.50 L229.12,41.35" stroke="#3c107e"/><path d="M229.12,41.35 L230.17,40.14" stroke="#3c0f7c"/><path d="M230.17,40.14 L231.19,38.91" stroke="#3c0f7a"/><path d="M231.19,38.91 L232.23,37.68" stroke="#3b0e79"/><path d="M232.23,37.68 L233.32,36.51" stroke="#3b0d77"/><path d="M233.32,36.51 L234.53,35.46" stroke="#3b0d76"/><path d="M234.53,35.46 L235.92,34.66 L237.49,34.41 L239.02,34.86" stroke="#3a0d75"/><path d="M239.02,34.86 L240.35,35.75" stroke="#3a0d76"/><path d="M240.35,35.75 L241.51,36.85" stroke="#3b0d77"/><path d="M241.51,36.85 L242.58,38.05" stroke="#3b0e78"/><path d="M242.58,38.05 L243.61,39.28" stroke="#3b0e79"/><path d="M243.61,39.28 L244.64,40.51" stroke="#3c0f7b"/><path d="M244.64,40.51 L245.70,41.71" stroke="#3c0f7c"/><path d="M245.70,41.71 L246.86,42.82" stroke="#3c107e"/><path d="M246.86,42.82 L248.16,43.75" stroke="#3d117f"/><path d="M248.16,43.75 L249.67,44.27 L251.25,44.10 L252.66,43.36" stroke="#3d1180"/><path d="M252.66,43.36 L253.89,42.33" stroke="#3d107f"/><path d="M253.89,42.33 L254.99,41.16" stroke="#3c107d"/><path d="M254.99,41.16 L256.03,39.94" stroke="#3c0f7c"/><path d="M256.03,39.94 L257.06,38.71" stroke="#3c0f7a"/><path d="M257.06,38.71 L258.10,37.49" stroke="#3b0e79"/></g><g fill="none" stroke-width="2.1" stroke-linecap="round" stroke-linejoin="round"><path d="M35.60,16.33 L36.84,17.35" stroke="#110617"/><path d="M36.84,17.35 L37.94,18.52" stroke="#120619"/><path d="M37.94,18.52 L38.97,19.75" stroke="#13061c"/><path d="M38.97,19.75 L40.01,20.98" stroke="#14061e"/><path d="M40.01,20.98 L41.13,22.14" stroke="#150620"/><path d="M41.13,22.14 L42.40,23.11" stroke="#160623"/><path d="M42.40,23.11 L43.92,23.59 L45.47,23.24" stroke="#160724"/><path d="M45.47,23.24 L46.78,22.31" stroke="#160723"/><path d="M46.78,22.31 L47.91,21.17" stroke="#150621"/><path d="M47.91,21.17 L48.96,19.95" stroke="#14061e"/><path d="M48.96,19.95 L49.99,18.72" stroke="#13061c"/><path d="M49.99,18.72 L51.08,17.53" stroke="#12061a"/><path d="M51.08,17.53 L52.29,16.47" stroke="#110617"/><path d="M52.29,16.47 L53.72,15.78 L55.31,15.86 L56.70,16.65" stroke="#100616"/><path d="M56.70,16.65 L57.88,17.74" stroke="#110618"/><path d="M57.88,17.74 L58.95,18.94" stroke="#12061a"/><path d="M58.95,18.94 L59.98,20.18" stroke="#13061c"/><path d="M59.98,20.18 L61.04,21.39" stroke="#14061f"/><path d="M61.04,21.39 L62.19,22.50" stroke="#150621"/><path d="M62.19,22.50 L63.55,23.36" stroke="#160723"/><path d="M63.55,23.36 L65.12,23.56 L66.60,22.96" stroke="#160724"/><path d="M66.60,22.96 L67.84,21.93" stroke="#160622"/><path d="M67.84,21.93 L68.93,20.76" stroke="#150620"/><path d="M68.93,20.76 L69.97,19.53" stroke="#14061e"/><path d="M69.97,19.53 L71.01,18.30" stroke="#13061b"/><path d="M71.01,18.30 L72.12,17.14" stroke="#120619"/><path d="M72.12,17.14 L73.40,16.17" stroke="#110617"/><path d="M73.40,16.17 L74.92,15.70 L76.47,16.08" stroke="#100616"/><path d="M76.47,16.08 L77.78,17.01" stroke="#110616"/><path d="M77.78,17.01 L78.91,18.15" stroke="#110619"/><path d="M78.91,18.15 L79.95,19.37" stroke="#13061b"/><path d="M79.95,19.37 L80.99,20.60" stroke="#14061d"/><path d="M80.99,20.60 L82.07,21.79" stroke="#150620"/><path d="M82.07,21.79 L83.28,22.84" stroke="#160622"/><path d="M83.28,22.84 L84.73,23.53" stroke="#160724"/><path d="M84.73,23.53 L86.31,23.43" stroke="#170724"/><path d="M86.31,23.43 L87.70,22.63" stroke="#160723"/><path d="M87.70,22.63 L88.87,21.54" stroke="#150622"/><path d="M88.87,21.54 L89.94,20.33" stroke="#15061f"/><path d="M89.94,20.33 L90.97,19.10" stroke="#13061d"/><path d="M90.97,19.10 L92.03,17.89" stroke="#12061a"/><path d="M92.03,17.89 L93.19,16.78" stroke="#110618"/><path d="M93.19,16.78 L94.55,15.93 L96.13,15.74 L97.60,16.36" stroke="#100616"/><path d="M97.60,16.36 L98.83,17.39" stroke="#110617"/><path d="M98.83,17.39 L99.92,18.57" stroke="#120619"/><path d="M99.92,18.57 L100.96,19.80" stroke="#13061c"/><path d="M100.96,19.80 L102.00,21.02" stroke="#14061e"/><path d="M102.00,21.02 L103.12,22.18" stroke="#150621"/><path d="M103.12,22.18 L104.40,23.14" stroke="#160723"/><path d="M104.40,23.14 L105.93,23.60 L107.47,23.21" stroke="#160724"/><path d="M107.47,23.21 L108.77,22.28" stroke="#160723"/><path d="M108.77,22.28 L109.90,21.13" stroke="#150621"/><path d="M109.90,21.13 L110.95,19.91" stroke="#14061e"/><path d="M110.95,19.91 L111.98,18.68" stroke="#13061c"/><path d="M111.98,18.68 L113.07,17.49" stroke="#120619"/><path d="M113.07,17.49 L114.28,16.44" stroke="#110617"/><path d="M114.28,16.44 L115.73,15.77 L117.31,15.88 L118.70,16.68" stroke="#100616"/><path d="M118.70,16.68 L119.87,17.78" stroke="#110618"/><path d="M119.87,17.78 L120.93,18.99" stroke="#12061a"/><path d="M120.93,18.99 L121.97,20.22" stroke="#13061c"/><path d="M121.97,20.22 L123.03,21.43" stroke="#14061f"/><path d="M123.03,21.43 L124.19,22.54" stroke="#150621"/><path d="M124.19,22.54 L125.55,23.38" stroke="#160723"/><path d="M125.55,23.38 L127.13,23.56" stroke="#170724"/><path d="M127.13,23.56 L128.60,22.93" stroke="#160724"/><path d="M128.60,22.93 L129.83,21.89" stroke="#160622"/><path d="M129.83,21.89 L130.92,20.71" stroke="#150620"/><path d="M130.92,20.71 L131.95,19.48" stroke="#14061e"/><path d="M131.95,19.48 L133.00,18.26" stroke="#13061b"/><path d="M133.00,18.26 L134.12,17.10" stroke="#120619"/><path d="M134.12,17.10 L135.40,16.15" stroke="#110617"/><path d="M135.40,16.15 L136.93,15.70 L138.47,16.10" stroke="#100616"/><path d="M138.47,16.10 L139.77,17.04" stroke="#110617"/><path d="M139.77,17.04 L140.89,18.19" stroke="#110619"/><path d="M140.89,18.19 L141.94,19.41" stroke="#13061b"/><path d="M141.94,19.41 L142.98,20.65" stroke="#14061d"/><path d="M142.98,20.65 L144.06,21.83" stroke="#150620"/><path d="M144.06,21.83 L145.28,22.88" stroke="#160622"/><path d="M145.28,22.88 L146.73,23.54" stroke="#160724"/><path d="M146.73,23.54 L148.32,23.41" stroke="#170724"/><path d="M148.32,23.41 L149.69,22.60" stroke="#160723"/><path d="M149.69,22.60 L150.86,21.50" stroke="#150622"/><path d="M150.86,21.50 L151.93,20.29" stroke="#15061f"/><path d="M151.93,20.29 L152.96,19.06" stroke="#13061d"/><path d="M152.96,19.06 L154.02,17.85" stroke="#12061a"/><path d="M154.02,17.85 L155.19,16.74" stroke="#110618"/><path d="M155.19,16.74 L156.55,15.91 L158.13,15.75 L159.59,16.39" stroke="#100616"/><path d="M159.59,16.39 L160.82,17.43" stroke="#110617"/><path d="M160.82,17.43 L161.91,18.61" stroke="#120619"/><path d="M161.91,18.61 L162.95,19.84" stroke="#13061c"/><path d="M162.95,19.84 L163.99,21.06" stroke="#14061e"/><path d="M163.99,21.06 L165.11,22.22" stroke="#150621"/><path d="M165.11,22.22 L166.40,23.17" stroke="#160723"/><path d="M166.40,23.17 L167.93,23.60 L169.47,23.18" stroke="#160724"/><path d="M169.47,23.18 L170.77,22.24" stroke="#160723"/><path d="M170.77,22.24 L171.89,21.09" stroke="#150621"/><path d="M171.89,21.09 L172.93,19.86" stroke="#14061e"/><path d="M172.93,19.86 L173.97,18.63" stroke="#13061c"/><path d="M173.97,18.63 L175.06,17.45" stroke="#120619"/><path d="M175.06,17.45 L176.28,16.41" stroke="#110617"/><path d="M176.28,16.41 L177.74,15.75 L179.32,15.90 L180.69,16.72" stroke="#100616"/><path d="M180.69,16.72 L181.86,17.83" stroke="#110618"/><path d="M181.86,17.83 L182.92,19.03" stroke="#12061a"/><path d="M182.92,19.03 L183.95,20.27" stroke="#13061d"/><path d="M183.95,20.27 L185.02,21.47" stroke="#14061f"/><path d="M185.02,21.47 L186.18,22.58" stroke="#150622"/><path d="M186.18,22.58 L187.56,23.40" stroke="#160723"/><path d="M187.56,23.40 L189.14,23.55" stroke="#170724"/><path d="M189.14,23.55 L190.59,22.89" stroke="#160724"/><path d="M190.59,22.89 L191.82,21.85" stroke="#160622"/><path d="M191.82,21.85 L192.90,20.67" stroke="#150620"/><path d="M192.90,20.67 L193.94,19.44" stroke="#14061e"/><path d="M193.94,19.44 L194.98,18.22" stroke="#13061b"/><path d="M194.98,18.22 L196.11,17.07" stroke="#110619"/><path d="M196.11,17.07 L197.40,16.12" stroke="#110617"/><path d="M197.40,16.12 L198.94,15.70 L200.47,16.13" stroke="#100616"/><path d="M200.47,16.13 L201.76,17.08" stroke="#110617"/><path d="M201.76,17.08 L202.88,18.24" stroke="#120619"/><path d="M202.88,18.24 L203.93,19.46" stroke="#13061b"/><path d="M203.93,19.46 L204.96,20.69" stroke="#14061e"/><path d="M204.96,20.69 L206.05,21.87" stroke="#150620"/><path d="M206.05,21.87 L207.28,22.91" stroke="#160622"/><path d="M207.28,22.91 L208.74,23.55" stroke="#160724"/><path d="M208.74,23.55 L210.32,23.39" stroke="#170724"/><path d="M210.32,23.39 L211.69,22.56" stroke="#160723"/><path d="M211.69,22.56 L212.85,21.45" stroke="#150622"/><path d="M212.85,21.45 L213.91,20.25" stroke="#14061f"/><path d="M213.91,20.25 L214.95,19.01" stroke="#13061d"/><path d="M214.95,19.01 L216.01,17.81" stroke="#12061a"/><path d="M216.01,17.81 L217.18,16.71" stroke="#110618"/><path d="M217.18,16.71 L218.56,15.89 L220.14,15.76 L221.59,16.42" stroke="#100616"/><path d="M221.59,16.42 L222.81,17.47" stroke="#110617"/><path d="M222.81,17.47 L223.90,18.65" stroke="#120619"/><path d="M223.90,18.65 L224.93,19.88" stroke="#13061c"/><path d="M224.93,19.88 L225.98,21.11" stroke="#14061e"/><path d="M225.98,21.11 L227.10,22.25" stroke="#150621"/><path d="M227.10,22.25 L228.40,23.20" stroke="#160723"/><path d="M228.40,23.20 L229.94,23.60 L231.47,23.16" stroke="#160724"/><path d="M231.47,23.16 L232.76,22.20" stroke="#160723"/><path d="M232.76,22.20 L233.88,21.04" stroke="#150621"/><path d="M233.88,21.04 L234.92,19.82" stroke="#14061e"/><path d="M234.92,19.82 L235.96,18.59" stroke="#13061c"/><path d="M235.96,18.59 L237.05,17.41" stroke="#120619"/><path d="M237.05,17.41 L238.28,16.38" stroke="#110617"/><path d="M238.28,16.38 L239.74,15.74 L241.32,15.92 L242.68,16.76" stroke="#100616"/><path d="M242.68,16.76 L243.85,17.87" stroke="#110618"/><path d="M243.85,17.87 L244.91,19.08" stroke="#12061a"/><path d="M244.91,19.08 L245.94,20.31" stroke="#13061d"/><path d="M245.94,20.31 L247.00,21.52" stroke="#15061f"/><path d="M247.00,21.52 L248.18,22.61" stroke="#150622"/><path d="M248.18,22.61 L249.56,23.42" stroke="#160723"/><path d="M249.56,23.42 L251.14,23.53" stroke="#170724"/><path d="M251.14,23.53 L252.59,22.86" stroke="#160724"/><path d="M252.59,22.86 L253.81,21.81" stroke="#160622"/><path d="M253.81,21.81 L254.89,20.63" stroke="#150620"/><path d="M254.89,20.63 L255.93,19.39" stroke="#14061d"/><path d="M255.93,19.39 L256.97,18.17" stroke="#13061b"/><path d="M256.97,18.17 L258.10,17.03" stroke="#110619"/></g></g><g clip-path="url(#clipB)"><path d="M35.6,263.9 L258.1,263.9" stroke="#dcf0fa" stroke-width="2.6" stroke-dasharray="3.7 2.1" stroke-dashoffset="4.9" fill="none"/><g fill="none" stroke-width="2.2" stroke-linecap="butt"><path d="M35.60,244.74 L35.95,245.12 L36.30,245.49 L36.65,245.87 L37.01,246.23 L37.38,246.59 L37.75,246.95 L38.13,247.30" stroke="#9ed2fb"/><path d="M39.97,248.84 L40.38,249.15 L40.80,249.45 L41.22,249.74 L41.65,250.02 L42.09,250.29 L42.53,250.55 L42.98,250.80" stroke="#a6d6fb"/><path d="M45.15,251.82 L45.63,252.01 L46.12,252.18 L46.60,252.35 L47.09,252.51 L47.59,252.65 L48.08,252.79 L48.58,252.91" stroke="#abd9fc"/><path d="M50.93,253.38 L51.44,253.45 L51.95,253.52 L52.46,253.59 L52.97,253.64 L53.49,253.69 L54.00,253.74 L54.51,253.78" stroke="#addbfc"/><path d="M56.91,253.90 L57.42,253.91 L57.94,253.92 L58.45,253.92 L58.96,253.92 L59.48,253.92 L59.99,253.91 L60.51,253.89" stroke="#aedbfc"/><path d="M62.90,253.78 L63.42,253.74 L63.93,253.69 L64.44,253.64 L64.95,253.59 L65.46,253.52 L65.97,253.45 L66.48,253.37" stroke="#addbfc"/><path d="M68.83,252.91 L69.33,252.78 L69.83,252.65 L70.32,252.50 L70.81,252.35 L71.30,252.18 L71.78,252.00 L72.26,251.81" stroke="#abd9fc"/><path d="M74.43,250.79 L74.88,250.54 L75.32,250.28 L75.76,250.01 L76.19,249.73 L76.61,249.44 L77.03,249.14 L77.44,248.83" stroke="#a6d6fb"/><path d="M79.28,247.29 L79.66,246.94 L80.03,246.58 L80.40,246.22 L80.76,245.86 L81.11,245.48 L81.46,245.11 L81.81,244.73" stroke="#9ed2fb"/><path d="M83.36,242.90 L83.68,242.50 L84.00,242.09 L84.32,241.68 L84.63,241.28 L84.94,240.86 L85.24,240.45 L85.55,240.04" stroke="#94cbf9"/><path d="M86.93,238.08 L87.23,237.65 L87.52,237.23 L87.81,236.80 L88.09,236.38 L88.38,235.95 L88.67,235.52 L88.95,235.10" stroke="#85c1f6"/><path d="M90.28,233.10 L90.57,232.67 L90.86,232.24 L91.14,231.82 L91.43,231.39 L91.72,230.97 L92.01,230.54 L92.30,230.12" stroke="#75b6f4"/><path d="M93.70,228.17 L94.00,227.75 L94.32,227.34 L94.63,226.94 L94.95,226.53 L95.27,226.13 L95.60,225.74 L95.94,225.35" stroke="#64abf2"/><path d="M97.60,223.62 L97.98,223.27 L98.37,222.94 L98.78,222.62 L99.19,222.32 L99.62,222.04 L100.07,221.78 L100.52,221.55" stroke="#55a1f0"/><path d="M102.83,220.95 L103.35,220.95 L103.86,220.99 L104.36,221.09 L104.86,221.23 L105.34,221.40 L105.81,221.61 L106.27,221.85" stroke="#539cef"/><path d="M108.21,223.26 L108.59,223.60 L108.96,223.96 L109.32,224.32 L109.68,224.70 L110.02,225.08 L110.36,225.46 L110.70,225.85" stroke="#5ca5f1"/><path d="M112.18,227.74 L112.49,228.15 L112.79,228.56 L113.09,228.98 L113.39,229.40 L113.69,229.82 L113.98,230.24 L114.27,230.67" stroke="#6cb0f3"/><path d="M115.62,232.66 L115.90,233.08 L116.19,233.51 L116.48,233.94 L116.76,234.37 L117.05,234.79 L117.33,235.22 L117.62,235.65" stroke="#7dbbf5"/><path d="M118.96,237.64 L119.26,238.06 L119.55,238.48 L119.84,238.90 L120.14,239.32 L120.44,239.74 L120.74,240.16 L121.05,240.57" stroke="#8cc6f8"/><path d="M122.50,242.48 L122.82,242.88 L123.15,243.28 L123.48,243.67 L123.81,244.07 L124.15,244.45 L124.49,244.84 L124.84,245.22" stroke="#9acffa"/><path d="M126.52,246.93 L126.90,247.28 L127.28,247.62 L127.67,247.96 L128.07,248.29 L128.47,248.61 L128.88,248.92 L129.29,249.23" stroke="#a2d4fb"/><path d="M131.30,250.53 L131.75,250.78 L132.21,251.02 L132.67,251.25 L133.13,251.47 L133.61,251.67 L134.08,251.87 L134.56,252.05" stroke="#a8d8fc"/><path d="M136.85,252.78 L137.35,252.90 L137.85,253.02 L138.35,253.13 L138.86,253.23 L139.36,253.32 L139.87,253.40 L140.38,253.47" stroke="#acdafc"/><path d="M142.76,253.74 L143.28,253.77 L143.79,253.81 L144.30,253.84 L144.82,253.86 L145.33,253.88 L145.84,253.90 L146.36,253.91" stroke="#aedbfc"/><path d="M148.76,253.91 L149.27,253.90 L149.79,253.88 L150.30,253.86 L150.81,253.83 L151.33,253.80 L151.84,253.77 L152.35,253.73" stroke="#aedbfc"/><path d="M154.74,253.46 L155.25,253.38 L155.75,253.30 L156.26,253.20 L156.76,253.10 L157.27,252.99 L157.77,252.88 L158.26,252.75" stroke="#acdafc"/><path d="M160.55,252.01 L161.03,251.83 L161.50,251.63 L161.97,251.42 L162.44,251.20 L162.90,250.97 L163.35,250.72 L163.80,250.47" stroke="#a8d8fc"/><path d="M165.80,249.16 L166.22,248.85 L166.62,248.54 L167.02,248.21 L167.42,247.88 L167.80,247.54 L168.19,247.20 L168.56,246.85" stroke="#a2d4fb"/><path d="M170.24,245.13 L170.59,244.75 L170.93,244.37 L171.26,243.98 L171.60,243.59 L171.92,243.19 L172.25,242.79 L172.57,242.39" stroke="#9acffa"/><path d="M174.02,240.48 L174.33,240.06 L174.63,239.65 L174.93,239.23 L175.22,238.81 L175.52,238.39 L175.81,237.96 L176.10,237.54" stroke="#8cc6f8"/><path d="M177.45,235.55 L177.73,235.13 L178.02,234.70 L178.30,234.27 L178.59,233.84 L178.87,233.41 L179.16,232.99 L179.45,232.56" stroke="#7dbbf5"/><path d="M180.79,230.57 L181.08,230.15 L181.38,229.73 L181.67,229.31 L181.97,228.89 L182.27,228.47 L182.58,228.06 L182.89,227.64" stroke="#6cb0f3"/><path d="M184.38,225.76 L184.71,225.37 L185.06,224.99 L185.40,224.61 L185.76,224.24 L186.12,223.88 L186.50,223.52 L186.88,223.18" stroke="#5ca5f1"/><path d="M188.84,221.80 L189.29,221.56 L189.77,221.36 L190.25,221.19 L190.75,221.06 L191.26,220.98 L191.77,220.94 L192.28,220.95" stroke="#539cef"/><path d="M194.58,221.60 L195.04,221.83 L195.48,222.10 L195.90,222.39 L196.32,222.69 L196.72,223.01 L197.11,223.35 L197.49,223.70" stroke="#55a1f0"/><path d="M199.14,225.44 L199.47,225.83 L199.80,226.22 L200.12,226.62 L200.44,227.03 L200.76,227.44 L201.07,227.85 L201.37,228.26" stroke="#64abf2"/><path d="M202.76,230.22 L203.05,230.64 L203.35,231.06 L203.63,231.49 L203.92,231.91 L204.21,232.34 L204.50,232.77 L204.78,233.20" stroke="#75b6f4"/><path d="M206.11,235.19 L206.40,235.62 L206.68,236.05 L206.97,236.47 L207.26,236.90 L207.55,237.33 L207.84,237.75 L208.13,238.17" stroke="#85c1f6"/><path d="M209.52,240.13 L209.83,240.54 L210.13,240.96 L210.44,241.37 L210.75,241.78 L211.07,242.18 L211.39,242.59 L211.71,242.99" stroke="#94cbf9"/><path d="M213.27,244.81 L213.61,245.19 L213.97,245.57 L214.32,245.94 L214.68,246.31 L215.05,246.67 L215.42,247.02 L215.80,247.37" stroke="#9ed2fb"/><path d="M217.65,248.90 L218.06,249.21 L218.48,249.50 L218.91,249.79 L219.34,250.07 L219.78,250.34 L220.22,250.60 L220.67,250.84" stroke="#a6d6fb"/><path d="M222.85,251.86 L223.33,252.04 L223.81,252.22 L224.30,252.38 L224.79,252.54 L225.28,252.68 L225.78,252.81 L226.28,252.93" stroke="#abd9fc"/><path d="M228.63,253.39 L229.14,253.47 L229.65,253.54 L230.16,253.60 L230.67,253.65 L231.19,253.70 L231.70,253.75 L232.21,253.78" stroke="#addbfc"/><path d="M234.61,253.90 L235.12,253.91 L235.64,253.92 L236.15,253.92 L236.67,253.92 L237.18,253.91 L237.69,253.90 L238.21,253.89" stroke="#aedbfc"/><path d="M240.61,253.77 L241.12,253.73 L241.63,253.68 L242.14,253.63 L242.65,253.57 L243.16,253.51 L243.67,253.44 L244.18,253.36" stroke="#addbfc"/><path d="M246.53,252.88 L247.03,252.76 L247.53,252.62 L248.02,252.47 L248.51,252.31 L248.99,252.14 L249.48,251.97 L249.95,251.77" stroke="#aad9fc"/><path d="M252.12,250.74 L252.57,250.49 L253.01,250.23 L253.44,249.95 L253.87,249.67 L254.30,249.38 L254.71,249.08 L255.13,248.77" stroke="#a5d6fb"/><path d="M256.96,247.22 L257.35,246.86 L257.73,246.49 L258.10,246.12" stroke="#9fd2fb"/></g><g fill="none" stroke-width="2.2" stroke-linecap="butt"><path d="M35.60,223.21 L35.88,223.64 L36.17,224.07 L36.46,224.49 L36.76,224.91 L37.06,225.32 L37.38,225.73 L37.70,226.13" stroke="#5da6f1"/><path d="M39.35,227.87 L39.74,228.21 L40.14,228.53 L40.55,228.84 L40.98,229.12 L41.42,229.39 L41.87,229.63 L42.33,229.86" stroke="#6cb0f3"/><path d="M44.61,230.62 L45.11,230.73 L45.61,230.82 L46.12,230.90 L46.63,230.96 L47.14,231.01 L47.66,231.06 L48.17,231.09" stroke="#72b4f3"/><path d="M50.57,231.12 L51.08,231.11 L51.60,231.09 L52.11,231.06 L52.62,231.02 L53.14,230.97 L53.65,230.90 L54.15,230.83" stroke="#73b5f3"/><path d="M56.48,230.25 L56.96,230.07 L57.44,229.87 L57.90,229.65 L58.35,229.40 L58.79,229.14 L59.22,228.85 L59.64,228.55" stroke="#6db1f3"/><path d="M61.40,226.93 L61.75,226.55 L62.08,226.16 L62.40,225.76 L62.72,225.35 L63.03,224.94 L63.33,224.52 L63.62,224.10" stroke="#60a8f1"/><path d="M64.91,222.07 L65.17,221.63 L65.43,221.19 L65.69,220.74 L65.94,220.29 L66.19,219.85 L66.44,219.40 L66.69,218.95" stroke="#519aee"/><path d="M67.86,216.85 L68.11,216.40 L68.37,215.95 L68.62,215.51 L68.88,215.06 L69.15,214.62 L69.42,214.19 L69.69,213.75" stroke="#4985e8"/><path d="M71.10,211.81 L71.43,211.42 L71.79,211.05 L72.17,210.70 L72.58,210.39 L73.02,210.12 L73.49,209.92 L73.99,209.81" stroke="#4473e2"/><path d="M76.21,210.53 L76.61,210.86 L76.98,211.22 L77.32,211.59 L77.65,211.99 L77.97,212.39 L78.27,212.81 L78.57,213.23" stroke="#4478e4"/><path d="M79.84,215.27 L80.10,215.71 L80.35,216.16 L80.60,216.61 L80.86,217.05 L81.11,217.50 L81.36,217.95 L81.60,218.40" stroke="#4c8bea"/><path d="M82.78,220.50 L83.03,220.94 L83.29,221.39 L83.55,221.83 L83.82,222.27 L84.09,222.71 L84.36,223.15 L84.64,223.58" stroke="#549ff0"/><path d="M86.02,225.54 L86.34,225.94 L86.67,226.34 L87.01,226.72 L87.36,227.10 L87.72,227.47 L88.10,227.82 L88.48,228.16" stroke="#64abf2"/><path d="M90.45,229.52 L90.91,229.75 L91.38,229.97 L91.86,230.16 L92.34,230.33 L92.83,230.48 L93.33,230.60 L93.83,230.72" stroke="#70b3f3"/><path d="M96.21,231.04 L96.72,231.07 L97.24,231.10 L97.75,231.12 L98.27,231.13 L98.78,231.13 L99.29,231.12 L99.81,231.11" stroke="#73b5f3"/><path d="M102.20,230.94 L102.71,230.87 L103.22,230.78 L103.72,230.68 L104.22,230.57 L104.72,230.43 L105.21,230.28 L105.69,230.10" stroke="#71b4f3"/><path d="M107.82,228.99 L108.24,228.70 L108.65,228.38 L109.04,228.06 L109.42,227.71 L109.79,227.35 L110.15,226.98 L110.50,226.60" stroke="#68adf2"/><path d="M111.98,224.72 L112.28,224.30 L112.57,223.87 L112.85,223.44 L113.13,223.01 L113.40,222.57 L113.67,222.14 L113.93,221.69" stroke="#58a2f0"/><path d="M115.12,219.61 L115.37,219.16 L115.62,218.71 L115.87,218.26 L116.12,217.81 L116.37,217.36 L116.62,216.91 L116.87,216.47" stroke="#4e90eb"/><path d="M118.09,214.40 L118.36,213.96 L118.64,213.53 L118.92,213.10 L119.22,212.68 L119.53,212.27 L119.85,211.86 L120.18,211.47" stroke="#467ce5"/><path d="M122.06,210.01 L122.55,209.85 L123.06,209.79 L123.57,209.83 L124.06,209.98 L124.52,210.20 L124.95,210.48 L125.35,210.81" stroke="#4371e1"/><path d="M126.93,212.61 L127.23,213.03 L127.51,213.45 L127.79,213.89 L128.07,214.32 L128.34,214.76 L128.60,215.20 L128.86,215.65" stroke="#4881e7"/><path d="M130.04,217.74 L130.28,218.19 L130.53,218.64 L130.78,219.09 L131.03,219.54 L131.29,219.99 L131.54,220.43 L131.79,220.88" stroke="#5095ed"/><path d="M133.03,222.94 L133.30,223.37 L133.59,223.80 L133.87,224.23 L134.17,224.65 L134.47,225.07 L134.78,225.48 L135.10,225.88" stroke="#5ca5f1"/><path d="M136.71,227.65 L137.09,228.00 L137.49,228.33 L137.89,228.65 L138.31,228.94 L138.74,229.22 L139.19,229.48 L139.64,229.72" stroke="#6baff3"/><path d="M141.89,230.55 L142.39,230.66 L142.90,230.77 L143.40,230.85 L143.91,230.92 L144.42,230.98 L144.94,231.03 L145.45,231.07" stroke="#72b4f3"/><path d="M147.85,231.13 L148.36,231.12 L148.88,231.10 L149.39,231.08 L149.90,231.04 L150.42,231.00 L150.93,230.94 L151.44,230.88" stroke="#73b5f3"/><path d="M153.78,230.35 L154.26,230.19 L154.74,230.00 L155.21,229.79 L155.67,229.56 L156.12,229.31 L156.55,229.03 L156.98,228.74" stroke="#6eb1f3"/><path d="M158.78,227.16 L159.13,226.79 L159.47,226.40 L159.80,226.01 L160.12,225.60 L160.43,225.20 L160.74,224.78 L161.03,224.36" stroke="#61a8f1"/><path d="M162.34,222.35 L162.60,221.91 L162.87,221.46 L163.13,221.02 L163.38,220.57 L163.64,220.13 L163.89,219.68 L164.14,219.23" stroke="#529bee"/><path d="M165.30,217.13 L165.55,216.68 L165.81,216.23 L166.06,215.79 L166.32,215.34 L166.58,214.90 L166.85,214.46 L167.12,214.02" stroke="#4a86e8"/><path d="M168.49,212.06 L168.82,211.66 L169.16,211.28 L169.53,210.92 L169.92,210.58 L170.34,210.28 L170.79,210.04 L171.27,209.87" stroke="#4474e2"/><path d="M173.55,210.34 L173.96,210.65 L174.35,210.99 L174.71,211.35 L175.05,211.74 L175.37,212.14 L175.68,212.55 L175.98,212.97" stroke="#4477e3"/><path d="M177.27,214.99 L177.53,215.43 L177.79,215.88 L178.05,216.33 L178.30,216.77 L178.55,217.22 L178.80,217.67 L179.05,218.12" stroke="#4b8ae9"/><path d="M180.22,220.22 L180.47,220.67 L180.73,221.11 L180.99,221.55 L181.25,222.00 L181.52,222.44 L181.79,222.87 L182.06,223.31" stroke="#539ef0"/><path d="M183.43,225.28 L183.74,225.69 L184.07,226.09 L184.40,226.48 L184.74,226.86 L185.09,227.24 L185.46,227.60 L185.84,227.95" stroke="#64aaf2"/><path d="M187.77,229.36 L188.22,229.61 L188.68,229.84 L189.16,230.04 L189.64,230.22 L190.13,230.39 L190.62,230.53 L191.12,230.65" stroke="#70b2f3"/><path d="M193.49,231.01 L194.00,231.05 L194.52,231.08 L195.03,231.11 L195.54,231.12 L196.06,231.13 L196.57,231.13 L197.09,231.12" stroke="#73b5f3"/><path d="M199.48,230.97 L199.99,230.91 L200.50,230.84 L201.01,230.75 L201.51,230.64 L202.01,230.52 L202.50,230.38 L202.99,230.21" stroke="#72b4f3"/><path d="M205.15,229.17 L205.58,228.88 L205.99,228.58 L206.40,228.26 L206.78,227.93 L207.16,227.58 L207.53,227.22 L207.88,226.84" stroke="#68aef2"/><path d="M209.39,224.98 L209.69,224.56 L209.99,224.14 L210.27,223.71 L210.55,223.28 L210.83,222.85 L211.10,222.41 L211.37,221.97" stroke="#59a3f1"/><path d="M212.57,219.89 L212.82,219.44 L213.07,219.00 L213.32,218.55 L213.57,218.10 L213.82,217.65 L214.07,217.20 L214.32,216.75" stroke="#4e91ec"/><path d="M215.52,214.67 L215.79,214.23 L216.06,213.80 L216.34,213.37 L216.63,212.94 L216.93,212.52 L217.25,212.11 L217.57,211.72" stroke="#467de6"/><path d="M219.37,210.15 L219.84,209.94 L220.34,209.81 L220.85,209.79 L221.35,209.88 L221.84,210.05 L222.29,210.30 L222.70,210.60" stroke="#4371e1"/><path d="M224.34,212.35 L224.64,212.77 L224.93,213.19 L225.22,213.61 L225.50,214.05 L225.77,214.49 L226.03,214.93 L226.30,215.37" stroke="#4780e6"/><path d="M227.48,217.46 L227.73,217.91 L227.98,218.36 L228.23,218.81 L228.48,219.26 L228.73,219.70 L228.98,220.15 L229.23,220.60" stroke="#4f94ec"/><path d="M230.46,222.66 L230.73,223.10 L231.01,223.53 L231.29,223.96 L231.58,224.39 L231.88,224.81 L232.18,225.22 L232.50,225.63" stroke="#5ba5f1"/><path d="M234.08,227.43 L234.45,227.78 L234.84,228.12 L235.24,228.45 L235.65,228.76 L236.07,229.05 L236.51,229.32 L236.96,229.57" stroke="#6aaff2"/><path d="M239.18,230.46 L239.68,230.59 L240.18,230.70 L240.69,230.80 L241.19,230.88 L241.70,230.95 L242.21,231.00 L242.73,231.05" stroke="#72b4f3"/><path d="M245.13,231.13 L245.64,231.13 L246.15,231.11 L246.67,231.09 L247.18,231.07 L247.69,231.03 L248.21,230.98 L248.72,230.92" stroke="#73b5f3"/><path d="M251.07,230.45 L251.56,230.29 L252.04,230.12 L252.52,229.92 L252.98,229.71 L253.44,229.47 L253.88,229.21 L254.31,228.93" stroke="#6eb2f3"/><path d="M256.15,227.39 L256.50,227.03 L256.84,226.66 L257.17,226.29 L257.49,225.90 L257.80,225.51 L258.10,225.11" stroke="#62aaf2"/></g><g fill="none" stroke-width="2.1" stroke-linecap="butt"><path d="M35.60,201.82 L35.92,202.22 L36.25,202.62 L36.57,203.02 L36.90,203.42 L37.23,203.82 L37.56,204.21 L37.89,204.60" stroke="#3c48c0"/><path d="M39.51,206.37 L39.87,206.73 L40.25,207.08 L40.64,207.42 L41.04,207.74 L41.46,208.04 L41.89,208.32 L42.34,208.58" stroke="#3c4cc2"/><path d="M44.63,209.20 L45.15,209.18 L45.65,209.10 L46.15,208.96 L46.63,208.78 L47.09,208.56 L47.54,208.31 L47.97,208.03" stroke="#3d4ec3"/><path d="M49.80,206.47 L50.16,206.10 L50.51,205.73 L50.86,205.35 L51.20,204.97 L51.53,204.58 L51.87,204.18 L52.20,203.79" stroke="#3c4ac1"/><path d="M53.71,201.93 L54.04,201.53 L54.37,201.14 L54.70,200.74 L55.03,200.35 L55.37,199.96 L55.71,199.58 L56.06,199.20" stroke="#3c45be"/><path d="M57.79,197.54 L58.19,197.22 L58.61,196.92 L59.04,196.64 L59.49,196.39 L59.96,196.18 L60.44,196.01 L60.94,195.88" stroke="#3d3fb9"/><path d="M63.31,196.06 L63.79,196.24 L64.25,196.47 L64.70,196.73 L65.12,197.01 L65.54,197.32 L65.94,197.64 L66.32,197.98" stroke="#3d40ba"/><path d="M68.00,199.70 L68.34,200.08 L68.68,200.47 L69.01,200.86 L69.34,201.26 L69.66,201.66 L69.99,202.06 L70.31,202.45" stroke="#3c45be"/><path d="M71.84,204.31 L72.17,204.70 L72.51,205.09 L72.85,205.47 L73.20,205.85 L73.56,206.22 L73.92,206.58 L74.29,206.94" stroke="#3c4ac1"/><path d="M76.20,208.39 L76.65,208.64 L77.12,208.84 L77.61,209.01 L78.11,209.13 L78.62,209.19 L79.13,209.19 L79.64,209.14" stroke="#3d4ec3"/><path d="M81.85,208.24 L82.28,207.95 L82.69,207.64 L83.08,207.32 L83.47,206.97 L83.84,206.62 L84.21,206.26 L84.56,205.89" stroke="#3c4cc2"/><path d="M86.15,204.09 L86.48,203.69 L86.80,203.29 L87.13,202.90 L87.45,202.50 L87.78,202.10 L88.10,201.70 L88.43,201.30" stroke="#3c47bf"/><path d="M89.99,199.48 L90.34,199.10 L90.70,198.73 L91.06,198.37 L91.44,198.02 L91.82,197.68 L92.22,197.35 L92.63,197.04" stroke="#3c41bb"/><path d="M94.77,195.97 L95.27,195.86 L95.78,195.81 L96.29,195.81 L96.80,195.87 L97.30,195.99 L97.79,196.16 L98.26,196.37" stroke="#3d3eb9"/><path d="M100.23,197.73 L100.62,198.07 L100.99,198.42 L101.35,198.79 L101.71,199.16 L102.06,199.54 L102.40,199.92 L102.74,200.31" stroke="#3c43bc"/><path d="M104.27,202.15 L104.59,202.55 L104.92,202.95 L105.24,203.35 L105.57,203.75 L105.90,204.14 L106.23,204.54 L106.57,204.93" stroke="#3c48c0"/><path d="M108.21,206.67 L108.59,207.02 L108.97,207.36 L109.37,207.69 L109.78,207.99 L110.21,208.28 L110.66,208.54 L111.12,208.76" stroke="#3c4dc2"/><path d="M113.46,209.19 L113.97,209.12 L114.47,208.99 L114.95,208.82 L115.42,208.60 L115.87,208.35 L116.30,208.07 L116.72,207.77" stroke="#3d4dc3"/><path d="M118.50,206.17 L118.85,205.80 L119.20,205.42 L119.54,205.03 L119.88,204.64 L120.21,204.25 L120.54,203.86 L120.87,203.46" stroke="#3c4ac0"/><path d="M122.38,201.60 L122.71,201.20 L123.04,200.81 L123.37,200.42 L123.71,200.03 L124.05,199.64 L124.40,199.26 L124.75,198.89" stroke="#3c44bd"/><path d="M126.52,197.27 L126.94,196.97 L127.37,196.69 L127.81,196.43 L128.28,196.21 L128.76,196.03 L129.26,195.90 L129.76,195.82" stroke="#3d3fb9"/><path d="M132.11,196.21 L132.57,196.43 L133.02,196.68 L133.45,196.96 L133.87,197.26 L134.27,197.59 L134.66,197.92 L135.03,198.27" stroke="#3d40ba"/><path d="M136.68,200.02 L137.02,200.40 L137.35,200.80 L137.68,201.19 L138.01,201.59 L138.33,201.99 L138.66,202.39 L138.98,202.78" stroke="#3c46bf"/><path d="M140.51,204.63 L140.85,205.02 L141.19,205.41 L141.54,205.78 L141.89,206.16 L142.26,206.52 L142.63,206.88 L143.01,207.22" stroke="#3c4bc1"/><path d="M144.97,208.59 L145.44,208.81 L145.92,208.98 L146.42,209.11 L146.93,209.18 L147.44,209.20 L147.95,209.15 L148.46,209.05" stroke="#3d4ec3"/><path d="M150.60,208.00 L151.02,207.70 L151.42,207.37 L151.80,207.03 L152.18,206.68 L152.55,206.32 L152.90,205.95 L153.25,205.58" stroke="#3c4cc2"/><path d="M154.82,203.76 L155.15,203.36 L155.47,202.96 L155.80,202.56 L156.12,202.17 L156.45,201.77 L156.77,201.37 L157.10,200.97" stroke="#3c47bf"/><path d="M158.68,199.17 L159.04,198.80 L159.40,198.43 L159.77,198.08 L160.16,197.74 L160.55,197.41 L160.96,197.09 L161.38,196.80" stroke="#3c41bb"/><path d="M163.58,195.88 L164.09,195.81 L164.61,195.81 L165.12,195.86 L165.62,195.97 L166.11,196.13 L166.58,196.33 L167.03,196.57" stroke="#3d3eb9"/><path d="M168.95,198.01 L169.32,198.36 L169.69,198.72 L170.05,199.09 L170.40,199.47 L170.74,199.85 L171.08,200.24 L171.41,200.63" stroke="#3c43bc"/><path d="M172.94,202.48 L173.26,202.88 L173.59,203.28 L173.91,203.68 L174.24,204.08 L174.57,204.47 L174.91,204.86 L175.25,205.24" stroke="#3c48c0"/><path d="M176.92,206.96 L177.31,207.31 L177.70,207.63 L178.11,207.94 L178.54,208.23 L178.98,208.49 L179.44,208.72 L179.92,208.92" stroke="#3d4dc2"/><path d="M182.28,209.13 L182.78,209.01 L183.27,208.85 L183.74,208.64 L184.19,208.40 L184.63,208.12 L185.04,207.83 L185.45,207.51" stroke="#3d4dc2"/><path d="M187.19,205.86 L187.54,205.48 L187.88,205.10 L188.22,204.71 L188.55,204.32 L188.88,203.93 L189.21,203.53 L189.54,203.13" stroke="#3c49c0"/><path d="M191.05,201.27 L191.38,200.88 L191.71,200.48 L192.05,200.09 L192.39,199.71 L192.74,199.33 L193.09,198.95 L193.45,198.58" stroke="#3c44bd"/><path d="M195.26,197.02 L195.69,196.74 L196.14,196.48 L196.60,196.25 L197.08,196.06 L197.57,195.92 L198.08,195.83 L198.59,195.80" stroke="#3d3fb9"/><path d="M200.89,196.39 L201.34,196.64 L201.78,196.91 L202.20,197.21 L202.60,197.53 L202.99,197.86 L203.37,198.21 L203.74,198.57" stroke="#3c40ba"/><path d="M205.36,200.34 L205.69,200.73 L206.02,201.12 L206.35,201.52 L206.68,201.92 L207.00,202.32 L207.33,202.72 L207.65,203.12" stroke="#3c46bf"/><path d="M209.19,204.95 L209.53,205.34 L209.88,205.72 L210.23,206.09 L210.59,206.46 L210.96,206.82 L211.34,207.16 L211.73,207.50" stroke="#3c4bc1"/><path d="M213.76,208.78 L214.24,208.96 L214.73,209.09 L215.24,209.17 L215.75,209.20 L216.27,209.16 L216.77,209.07 L217.26,208.92" stroke="#3d4ec3"/><path d="M219.35,207.75 L219.75,207.43 L220.14,207.09 L220.52,206.74 L220.88,206.38 L221.24,206.02 L221.59,205.64 L221.94,205.26" stroke="#3c4bc2"/><path d="M223.49,203.43 L223.82,203.03 L224.14,202.63 L224.47,202.23 L224.79,201.84 L225.12,201.44 L225.44,201.04 L225.77,200.65" stroke="#3c46bf"/><path d="M227.38,198.86 L227.74,198.50 L228.11,198.14 L228.49,197.79 L228.88,197.46 L229.29,197.15 L229.71,196.85 L230.15,196.58" stroke="#3c41bb"/><path d="M232.40,195.82 L232.92,195.80 L233.43,195.85 L233.93,195.95 L234.42,196.10 L234.90,196.29 L235.36,196.53 L235.80,196.79" stroke="#3d3fb9"/><path d="M237.66,198.30 L238.03,198.66 L238.39,199.03 L238.74,199.41 L239.08,199.79 L239.42,200.17 L239.75,200.56 L240.09,200.96" stroke="#3c43bd"/><path d="M241.61,202.81 L241.93,203.21 L242.26,203.61 L242.59,204.01 L242.92,204.40 L243.25,204.79 L243.59,205.18 L243.93,205.56" stroke="#3c49c0"/><path d="M245.64,207.25 L246.03,207.58 L246.44,207.89 L246.86,208.18 L247.30,208.45 L247.76,208.69 L248.23,208.89 L248.72,209.04" stroke="#3d4dc2"/><path d="M251.09,209.04 L251.58,208.88 L252.06,208.68 L252.51,208.44 L252.95,208.17 L253.37,207.88 L253.78,207.57 L254.18,207.24" stroke="#3d4dc2"/><path d="M255.88,205.55 L256.26,205.12 L256.64,204.69 L257.01,204.25 L257.37,203.82 L257.74,203.37 L258.10,202.93" stroke="#3c49c0"/></g><g fill="none" stroke-width="2.1" stroke-linecap="butt"><path d="M35.60,180.39 L35.95,180.77 L36.29,181.15 L36.62,181.55 L36.95,181.94 L37.28,182.34 L37.60,182.74 L37.92,183.15" stroke="#3b0e78"/><path d="M39.41,185.02 L39.75,185.41 L40.08,185.80 L40.43,186.18 L40.79,186.55 L41.16,186.91 L41.54,187.25 L41.95,187.57" stroke="#3c107e"/><path d="M44.12,188.52 L44.63,188.54 L45.14,188.48 L45.64,188.35 L46.11,188.15 L46.56,187.90 L46.99,187.62 L47.39,187.30" stroke="#3d1180"/><path d="M49.09,185.61 L49.42,185.22 L49.75,184.82 L50.08,184.42 L50.40,184.02 L50.72,183.62 L51.03,183.21 L51.35,182.81" stroke="#3c0f7b"/><path d="M52.88,180.96 L53.23,180.58 L53.58,180.21 L53.95,179.85 L54.33,179.50 L54.73,179.18 L55.15,178.88 L55.60,178.62" stroke="#3b0d76"/><path d="M57.91,178.20 L58.41,178.33 L58.89,178.51 L59.34,178.76 L59.77,179.04 L60.18,179.35 L60.57,179.68 L60.95,180.04" stroke="#3a0d75"/><path d="M62.55,181.82 L62.88,182.22 L63.20,182.62 L63.52,183.02 L63.83,183.43 L64.15,183.83 L64.47,184.23 L64.80,184.63" stroke="#3c0f7a"/><path d="M66.38,186.44 L66.74,186.80 L67.12,187.15 L67.52,187.47 L67.94,187.77 L68.38,188.04 L68.84,188.26 L69.33,188.43" stroke="#3d1180"/><path d="M71.67,188.22 L72.12,187.98 L72.56,187.71 L72.97,187.40 L73.36,187.07 L73.74,186.72 L74.10,186.36 L74.45,185.98" stroke="#3d117f"/><path d="M76.00,184.14 L76.32,183.74 L76.64,183.34 L76.95,182.93 L77.27,182.53 L77.60,182.13 L77.92,181.73 L78.25,181.34" stroke="#3b0e79"/><path d="M79.91,179.61 L80.31,179.28 L80.72,178.97 L81.16,178.70 L81.62,178.47 L82.10,178.29 L82.60,178.18 L83.11,178.15" stroke="#3a0d75"/><path d="M85.34,178.95 L85.76,179.25 L86.15,179.58 L86.53,179.92 L86.90,180.29 L87.25,180.66 L87.59,181.04 L87.93,181.43" stroke="#3b0d77"/><path d="M89.44,183.30 L89.75,183.71 L90.07,184.11 L90.40,184.51 L90.72,184.91 L91.05,185.30 L91.39,185.69 L91.73,186.07" stroke="#3c0f7c"/><path d="M93.51,187.68 L93.94,187.96 L94.39,188.20 L94.87,188.39 L95.37,188.51 L95.88,188.55 L96.40,188.51 L96.90,188.40" stroke="#3d1180"/><path d="M98.94,187.17 L99.32,186.83 L99.69,186.47 L100.05,186.10 L100.39,185.72 L100.73,185.33 L101.06,184.93 L101.38,184.54" stroke="#3c107d"/><path d="M102.87,182.65 L103.20,182.25 L103.52,181.85 L103.85,181.46 L104.18,181.07 L104.53,180.68 L104.88,180.31 L105.24,179.95" stroke="#3b0e78"/><path d="M107.17,178.53 L107.65,178.34 L108.14,178.21 L108.65,178.15 L109.17,178.18 L109.67,178.28 L110.15,178.46 L110.61,178.68" stroke="#3a0d75"/><path d="M112.49,180.17 L112.84,180.54 L113.19,180.92 L113.53,181.31 L113.86,181.71 L114.18,182.10 L114.51,182.50 L114.83,182.91" stroke="#3b0e78"/><path d="M116.32,184.79 L116.65,185.18 L116.98,185.57 L117.32,185.96 L117.67,186.33 L118.04,186.70 L118.41,187.05 L118.80,187.38" stroke="#3c107e"/><path d="M120.92,188.48 L121.42,188.54 L121.94,188.53 L122.44,188.44 L122.93,188.28 L123.40,188.06 L123.84,187.79 L124.25,187.49" stroke="#3d1180"/><path d="M125.99,185.84 L126.33,185.45 L126.66,185.06 L126.98,184.66 L127.31,184.26 L127.63,183.86 L127.94,183.45 L128.26,183.05" stroke="#3c0f7c"/><path d="M129.78,181.19 L130.12,180.80 L130.47,180.43 L130.83,180.06 L131.20,179.71 L131.59,179.37 L132.00,179.06 L132.43,178.77" stroke="#3b0d76"/><path d="M134.71,178.16 L135.22,178.24 L135.71,178.39 L136.18,178.61 L136.62,178.87 L137.04,179.16 L137.44,179.48 L137.83,179.82" stroke="#3a0d75"/><path d="M139.46,181.58 L139.78,181.98 L140.11,182.38 L140.43,182.78 L140.75,183.19 L141.06,183.59 L141.38,183.99 L141.70,184.40" stroke="#3c0f7a"/><path d="M143.26,186.22 L143.62,186.59 L143.99,186.94 L144.38,187.28 L144.79,187.60 L145.21,187.89 L145.66,188.14 L146.13,188.34" stroke="#3d117f"/><path d="M148.48,188.33 L148.95,188.13 L149.40,187.88 L149.83,187.59 L150.23,187.27 L150.62,186.93 L150.99,186.57 L151.35,186.21" stroke="#3d117f"/><path d="M152.91,184.38 L153.23,183.98 L153.55,183.58 L153.86,183.17 L154.18,182.77 L154.50,182.37 L154.83,181.97 L155.15,181.57" stroke="#3c0f7a"/><path d="M156.79,179.81 L157.17,179.47 L157.57,179.15 L157.99,178.86 L158.44,178.60 L158.91,178.39 L159.40,178.24 L159.91,178.16" stroke="#3a0d75"/><path d="M162.18,178.78 L162.61,179.07 L163.02,179.38 L163.41,179.72 L163.78,180.07 L164.14,180.44 L164.49,180.81 L164.83,181.20" stroke="#3b0d76"/><path d="M166.35,183.06 L166.67,183.46 L166.98,183.87 L167.30,184.27 L167.63,184.67 L167.95,185.07 L168.29,185.46 L168.62,185.85" stroke="#3c0f7c"/><path d="M170.36,187.50 L170.78,187.80 L171.22,188.06 L171.68,188.28 L172.17,188.44 L172.68,188.53 L173.19,188.54 L173.70,188.47" stroke="#3d1180"/><path d="M175.81,187.37 L176.20,187.04 L176.58,186.69 L176.94,186.32 L177.29,185.94 L177.63,185.56 L177.96,185.17 L178.29,184.77" stroke="#3c107e"/><path d="M179.78,182.89 L180.10,182.49 L180.43,182.09 L180.75,181.69 L181.08,181.30 L181.42,180.91 L181.77,180.53 L182.13,180.16" stroke="#3b0e78"/><path d="M184.00,178.67 L184.46,178.45 L184.95,178.28 L185.45,178.18 L185.96,178.15 L186.47,178.21 L186.97,178.35 L187.44,178.54" stroke="#3a0d75"/><path d="M189.37,179.96 L189.73,180.32 L190.08,180.70 L190.43,181.08 L190.76,181.47 L191.09,181.87 L191.42,182.27 L191.74,182.67" stroke="#3b0e78"/><path d="M193.23,184.55 L193.55,184.95 L193.88,185.34 L194.22,185.73 L194.56,186.11 L194.92,186.48 L195.29,186.84 L195.67,187.19" stroke="#3c107d"/><path d="M197.72,188.40 L198.22,188.51 L198.73,188.55 L199.24,188.50 L199.74,188.38 L200.22,188.19 L200.68,187.95 L201.11,187.67" stroke="#3d1180"/><path d="M202.88,186.06 L203.22,185.68 L203.56,185.29 L203.89,184.90 L204.22,184.50 L204.54,184.10 L204.86,183.69 L205.17,183.29" stroke="#3c0f7c"/><path d="M206.68,181.42 L207.02,181.03 L207.36,180.65 L207.71,180.27 L208.08,179.91 L208.46,179.57 L208.86,179.24 L209.27,178.94" stroke="#3b0d77"/><path d="M211.50,178.15 L212.02,178.19 L212.52,178.30 L213.00,178.48 L213.46,178.71 L213.89,178.98 L214.31,179.29 L214.70,179.62" stroke="#3a0d75"/><path d="M216.36,181.35 L216.69,181.74 L217.02,182.14 L217.34,182.54 L217.66,182.95 L217.97,183.35 L218.29,183.75 L218.61,184.16" stroke="#3b0e79"/><path d="M220.16,185.99 L220.51,186.37 L220.87,186.73 L221.25,187.08 L221.64,187.41 L222.06,187.72 L222.49,187.99 L222.95,188.23" stroke="#3d117f"/><path d="M225.29,188.43 L225.78,188.26 L226.24,188.03 L226.68,187.76 L227.09,187.46 L227.49,187.13 L227.87,186.79 L228.24,186.43" stroke="#3d1180"/><path d="M229.81,184.62 L230.14,184.22 L230.46,183.82 L230.78,183.41 L231.09,183.01 L231.41,182.61 L231.73,182.20 L232.06,181.81" stroke="#3c0f7a"/><path d="M233.66,180.02 L234.04,179.67 L234.43,179.34 L234.84,179.03 L235.27,178.75 L235.73,178.51 L236.21,178.32 L236.70,178.20" stroke="#3a0d75"/><path d="M239.02,178.63 L239.46,178.89 L239.88,179.19 L240.28,179.51 L240.66,179.86 L241.03,180.22 L241.38,180.59 L241.73,180.97" stroke="#3b0d76"/><path d="M243.26,182.82 L243.58,183.22 L243.89,183.63 L244.21,184.03 L244.53,184.43 L244.86,184.83 L245.19,185.23 L245.52,185.62" stroke="#3c0f7b"/><path d="M247.22,187.31 L247.63,187.63 L248.05,187.91 L248.50,188.16 L248.98,188.36 L249.48,188.49 L249.99,188.55 L250.50,188.52" stroke="#3d1180"/><path d="M252.67,187.56 L253.07,187.24 L253.45,186.90 L253.82,186.54 L254.18,186.17 L254.53,185.79 L254.87,185.40 L255.20,185.01" stroke="#3c107e"/><path d="M256.70,183.13 L257.04,182.70 L257.39,182.26 L257.74,181.83 L258.10,181.40" stroke="#3b0e79"/></g><g fill="none" stroke-width="2.1" stroke-linecap="butt"><path d="M35.60,160.33 L36.02,160.62 L36.41,160.95 L36.79,161.30 L37.16,161.66 L37.51,162.04 L37.85,162.42 L38.19,162.81" stroke="#110618"/><path d="M39.73,164.65 L40.07,165.04 L40.41,165.42 L40.77,165.79 L41.14,166.15 L41.52,166.49 L41.93,166.80 L42.36,167.09" stroke="#150621"/><path d="M44.66,167.53 L45.15,167.38 L45.61,167.16 L46.05,166.89 L46.46,166.58 L46.85,166.25 L47.23,165.90 L47.58,165.53" stroke="#160623"/><path d="M49.16,163.72 L49.49,163.32 L49.82,162.93 L50.15,162.54 L50.49,162.15 L50.84,161.77 L51.20,161.40 L51.57,161.05" stroke="#12061a"/><path d="M53.60,159.81 L54.11,159.71 L54.62,159.71 L55.13,159.80 L55.61,159.98 L56.07,160.21 L56.50,160.50 L56.90,160.81" stroke="#100616"/><path d="M58.58,162.52 L58.92,162.91 L59.25,163.30 L59.58,163.70 L59.91,164.09 L60.24,164.49 L60.58,164.88 L60.92,165.26" stroke="#13061d"/><path d="M62.68,166.88 L63.12,167.15 L63.58,167.37 L64.07,167.53 L64.58,167.60 L65.09,167.57 L65.59,167.45 L66.07,167.26" stroke="#160724"/><path d="M67.97,165.80 L68.32,165.43 L68.67,165.05 L69.01,164.67 L69.34,164.27 L69.67,163.88 L70.00,163.49 L70.33,163.09" stroke="#14061e"/><path d="M71.94,161.31 L72.32,160.97 L72.72,160.64 L73.13,160.34 L73.58,160.08 L74.05,159.88 L74.55,159.74 L75.06,159.70" stroke="#100616"/><path d="M77.25,160.57 L77.65,160.89 L78.03,161.24 L78.40,161.60 L78.75,161.98 L79.09,162.36 L79.43,162.75 L79.76,163.14" stroke="#120619"/><path d="M81.31,164.97 L81.66,165.35 L82.01,165.73 L82.38,166.09 L82.76,166.43 L83.16,166.75 L83.58,167.04 L84.04,167.29" stroke="#160622"/><path d="M86.37,167.41 L86.84,167.20 L87.28,166.94 L87.69,166.64 L88.09,166.31 L88.46,165.96 L88.82,165.59 L89.17,165.21" stroke="#160622"/><path d="M90.73,163.39 L91.06,162.99 L91.40,162.60 L91.73,162.21 L92.08,161.84 L92.44,161.47 L92.81,161.11 L93.20,160.77" stroke="#120619"/><path d="M95.32,159.73 L95.83,159.71 L96.34,159.78 L96.83,159.94 L97.29,160.17 L97.73,160.45 L98.14,160.76 L98.52,161.09" stroke="#100616"/><path d="M100.16,162.84 L100.49,163.24 L100.82,163.63 L101.15,164.03 L101.48,164.42 L101.82,164.81 L102.16,165.20 L102.51,165.57" stroke="#14061e"/><path d="M104.34,167.11 L104.80,167.34 L105.29,167.51 L105.80,167.59 L106.31,167.58 L106.81,167.48 L107.29,167.30 L107.75,167.05" stroke="#160724"/><path d="M109.56,165.50 L109.91,165.12 L110.25,164.73 L110.58,164.34 L110.91,163.95 L111.24,163.55 L111.57,163.16 L111.91,162.76" stroke="#14061e"/><path d="M113.56,161.02 L113.95,160.69 L114.36,160.39 L114.80,160.12 L115.27,159.90 L115.76,159.76 L116.27,159.70 L116.78,159.74" stroke="#100616"/><path d="M118.88,160.84 L119.27,161.18 L119.64,161.54 L119.99,161.91 L120.33,162.29 L120.67,162.68 L121.01,163.07 L121.34,163.47" stroke="#12061a"/><path d="M122.90,165.29 L123.25,165.67 L123.61,166.03 L123.99,166.38 L124.39,166.70 L124.81,167.00 L125.26,167.25 L125.73,167.44" stroke="#160622"/><path d="M128.06,167.24 L128.50,166.99 L128.92,166.69 L129.32,166.36 L129.70,166.02 L130.06,165.65 L130.42,165.28 L130.76,164.89" stroke="#150622"/><path d="M132.31,163.06 L132.64,162.67 L132.98,162.28 L133.32,161.90 L133.68,161.53 L134.05,161.17 L134.43,160.83 L134.84,160.51" stroke="#120619"/><path d="M137.05,159.70 L137.56,159.76 L138.05,159.91 L138.52,160.13 L138.95,160.40 L139.37,160.70 L139.76,161.04 L140.13,161.39" stroke="#110616"/><path d="M141.74,163.17 L142.07,163.57 L142.40,163.96 L142.73,164.36 L143.06,164.75 L143.40,165.13 L143.75,165.51 L144.11,165.88" stroke="#14061e"/><path d="M146.02,167.30 L146.51,167.48 L147.01,167.58 L147.52,167.59 L148.03,167.50 L148.51,167.33 L148.97,167.10 L149.40,166.82" stroke="#160724"/><path d="M151.15,165.18 L151.49,164.80 L151.83,164.41 L152.16,164.01 L152.49,163.62 L152.82,163.22 L153.15,162.83 L153.49,162.44" stroke="#13061d"/><path d="M155.18,160.75 L155.59,160.44 L156.02,160.16 L156.49,159.94 L156.98,159.78 L157.48,159.70 L158.00,159.73 L158.50,159.84" stroke="#100616"/><path d="M160.50,161.12 L160.87,161.48 L161.23,161.85 L161.58,162.23 L161.92,162.62 L162.25,163.01 L162.58,163.40 L162.91,163.80" stroke="#12061a"/><path d="M164.49,165.60 L164.85,165.97 L165.23,166.32 L165.62,166.65 L166.04,166.95 L166.48,167.21 L166.95,167.42 L167.45,167.55" stroke="#160723"/><path d="M169.73,167.03 L170.16,166.74 L170.56,166.42 L170.94,166.08 L171.30,165.71 L171.66,165.34 L172.00,164.96 L172.34,164.57" stroke="#150621"/><path d="M173.88,162.73 L174.22,162.34 L174.56,161.96 L174.92,161.59 L175.28,161.23 L175.67,160.88 L176.07,160.56 L176.49,160.27" stroke="#110618"/><path d="M178.77,159.75 L179.27,159.88 L179.74,160.09 L180.18,160.35 L180.60,160.65 L180.99,160.98 L181.37,161.33 L181.73,161.69" stroke="#110617"/><path d="M183.31,163.50 L183.64,163.89 L183.97,164.29 L184.31,164.68 L184.64,165.07 L184.99,165.45 L185.35,165.82 L185.72,166.17" stroke="#14061f"/><path d="M187.72,167.46 L188.22,167.57 L188.74,167.59 L189.24,167.52 L189.73,167.36 L190.20,167.14 L190.63,166.87 L191.04,166.56" stroke="#160724"/><path d="M192.74,164.86 L193.07,164.47 L193.40,164.08 L193.73,163.69 L194.06,163.29 L194.39,162.90 L194.73,162.51 L195.07,162.12" stroke="#13061c"/><path d="M196.82,160.48 L197.25,160.20 L197.71,159.97 L198.19,159.80 L198.70,159.71 L199.21,159.72 L199.71,159.81 L200.20,159.99" stroke="#100616"/><path d="M202.11,161.42 L202.47,161.79 L202.82,162.16 L203.16,162.55 L203.49,162.94 L203.82,163.33 L204.15,163.73 L204.48,164.12" stroke="#13061b"/><path d="M206.09,165.91 L206.46,166.26 L206.85,166.59 L207.27,166.90 L207.70,167.17 L208.17,167.39 L208.66,167.54 L209.17,167.60" stroke="#160723"/><path d="M211.39,166.79 L211.79,166.48 L212.17,166.14 L212.54,165.78 L212.90,165.40 L213.24,165.02 L213.58,164.64 L213.92,164.24" stroke="#150620"/><path d="M215.46,162.41 L215.81,162.03 L216.16,161.65 L216.52,161.29 L216.90,160.94 L217.30,160.61 L217.72,160.32 L218.16,160.06" stroke="#110618"/><path d="M220.49,159.85 L220.96,160.05 L221.41,160.30 L221.83,160.60 L222.23,160.92 L222.61,161.27 L222.97,161.63 L223.33,162.01" stroke="#110617"/><path d="M224.89,163.83 L225.22,164.22 L225.55,164.61 L225.89,165.00 L226.23,165.38 L226.59,165.76 L226.95,166.12 L227.34,166.46" stroke="#150620"/><path d="M229.44,167.56 L229.95,167.60 L230.46,167.54 L230.95,167.40 L231.42,167.18 L231.86,166.92 L232.27,166.61 L232.67,166.28" stroke="#160724"/><path d="M234.32,164.54 L234.65,164.15 L234.98,163.75 L235.31,163.36 L235.64,162.96 L235.97,162.57 L236.31,162.19 L236.66,161.81" stroke="#13061c"/><path d="M238.48,160.25 L238.93,160.01 L239.41,159.82 L239.91,159.72 L240.42,159.71 L240.93,159.79 L241.42,159.96 L241.88,160.19" stroke="#100616"/><path d="M243.71,161.72 L244.06,162.10 L244.40,162.48 L244.74,162.87 L245.07,163.27 L245.40,163.66 L245.73,164.06 L246.06,164.45" stroke="#13061c"/><path d="M247.70,166.20 L248.09,166.54 L248.50,166.85 L248.93,167.13 L249.39,167.35 L249.88,167.52 L250.39,167.59 L250.90,167.58" stroke="#160723"/><path d="M253.02,166.53 L253.41,166.19 L253.78,165.84 L254.14,165.47 L254.49,165.09 L254.83,164.70 L255.16,164.31 L255.49,163.92" stroke="#150620"/><path d="M257.05,162.09 L257.56,161.55 L258.10,161.03" stroke="#110619"/></g></g><rect x="35.9" y="1.50" width="222.2" height="122.70" fill="none" stroke="#000" stroke-width="1.1"/><path d="M35.60,124.20v-3M35.60,1.50v3M46.73,124.20v-1.8M46.73,1.50v1.8M57.85,124.20v-1.8M57.85,1.50v1.8M68.98,124.20v-1.8M68.98,1.50v1.8M80.10,124.20v-3M80.10,1.50v3M91.23,124.20v-1.8M91.23,1.50v1.8M102.35,124.20v-1.8M102.35,1.50v1.8M113.48,124.20v-1.8M113.48,1.50v1.8M124.60,124.20v-3M124.60,1.50v3M135.73,124.20v-1.8M135.73,1.50v1.8M146.85,124.20v-1.8M146.85,1.50v1.8M157.98,124.20v-1.8M157.98,1.50v1.8M169.10,124.20v-3M169.10,1.50v3M180.23,124.20v-1.8M180.23,1.50v1.8M191.35,124.20v-1.8M191.35,1.50v1.8M202.48,124.20v-1.8M202.48,1.50v1.8M213.60,124.20v-3M213.60,1.50v3M224.73,124.20v-1.8M224.73,1.50v1.8M235.85,124.20v-1.8M235.85,1.50v1.8M246.98,124.20v-1.8M246.98,1.50v1.8M258.10,124.20v-3M258.10,1.50v3M35.9,123.63h1.6M258.1,123.63h-1.6M35.9,119.50h3M258.1,119.50h-3M35.9,115.37h1.6M258.1,115.37h-1.6M35.9,111.24h1.6M258.1,111.24h-1.6M35.9,107.10h1.6M258.1,107.10h-1.6M35.9,102.97h1.6M258.1,102.97h-1.6M35.9,98.84h3M258.1,98.84h-3M35.9,94.71h1.6M258.1,94.71h-1.6M35.9,90.58h1.6M258.1,90.58h-1.6M35.9,86.44h1.6M258.1,86.44h-1.6M35.9,82.31h1.6M258.1,82.31h-1.6M35.9,78.18h3M258.1,78.18h-3M35.9,74.05h1.6M258.1,74.05h-1.6M35.9,69.92h1.6M258.1,69.92h-1.6M35.9,65.78h1.6M258.1,65.78h-1.6M35.9,61.65h1.6M258.1,61.65h-1.6M35.9,57.52h3M258.1,57.52h-3M35.9,53.39h1.6M258.1,53.39h-1.6M35.9,49.26h1.6M258.1,49.26h-1.6M35.9,45.12h1.6M258.1,45.12h-1.6M35.9,40.99h1.6M258.1,40.99h-1.6M35.9,36.86h3M258.1,36.86h-3M35.9,32.73h1.6M258.1,32.73h-1.6M35.9,28.60h1.6M258.1,28.60h-1.6M35.9,24.46h1.6M258.1,24.46h-1.6M35.9,20.33h1.6M258.1,20.33h-1.6M35.9,16.20h3M258.1,16.20h-3M35.9,12.07h1.6M258.1,12.07h-1.6M35.9,7.94h1.6M258.1,7.94h-1.6M35.9,3.80h1.6M258.1,3.80h-1.6" stroke="#000" stroke-width="0.9" fill="none"/><rect x="35.9" y="145.50" width="222.2" height="122.70" fill="none" stroke="#000" stroke-width="1.1"/><path d="M35.60,268.20v-3M35.60,145.50v3M46.73,268.20v-1.8M46.73,145.50v1.8M57.85,268.20v-1.8M57.85,145.50v1.8M68.98,268.20v-1.8M68.98,145.50v1.8M80.10,268.20v-3M80.10,145.50v3M91.23,268.20v-1.8M91.23,145.50v1.8M102.35,268.20v-1.8M102.35,145.50v1.8M113.48,268.20v-1.8M113.48,145.50v1.8M124.60,268.20v-3M124.60,145.50v3M135.73,268.20v-1.8M135.73,145.50v1.8M146.85,268.20v-1.8M146.85,145.50v1.8M157.98,268.20v-1.8M157.98,145.50v1.8M169.10,268.20v-3M169.10,145.50v3M180.23,268.20v-1.8M180.23,145.50v1.8M191.35,268.20v-1.8M191.35,145.50v1.8M202.48,268.20v-1.8M202.48,145.50v1.8M213.60,268.20v-3M213.60,145.50v3M224.73,268.20v-1.8M224.73,145.50v1.8M235.85,268.20v-1.8M235.85,145.50v1.8M246.98,268.20v-1.8M246.98,145.50v1.8M258.10,268.20v-3M258.10,145.50v3M35.9,267.63h1.6M258.1,267.63h-1.6M35.9,263.50h3M258.1,263.50h-3M35.9,259.37h1.6M258.1,259.37h-1.6M35.9,255.24h1.6M258.1,255.24h-1.6M35.9,251.10h1.6M258.1,251.10h-1.6M35.9,246.97h1.6M258.1,246.97h-1.6M35.9,242.84h3M258.1,242.84h-3M35.9,238.71h1.6M258.1,238.71h-1.6M35.9,234.58h1.6M258.1,234.58h-1.6M35.9,230.44h1.6M258.1,230.44h-1.6M35.9,226.31h1.6M258.1,226.31h-1.6M35.9,222.18h3M258.1,222.18h-3M35.9,218.05h1.6M258.1,218.05h-1.6M35.9,213.92h1.6M258.1,213.92h-1.6M35.9,209.78h1.6M258.1,209.78h-1.6M35.9,205.65h1.6M258.1,205.65h-1.6M35.9,201.52h3M258.1,201.52h-3M35.9,197.39h1.6M258.1,197.39h-1.6M35.9,193.26h1.6M258.1,193.26h-1.6M35.9,189.12h1.6M258.1,189.12h-1.6M35.9,184.99h1.6M258.1,184.99h-1.6M35.9,180.86h3M258.1,180.86h-3M35.9,176.73h1.6M258.1,176.73h-1.6M35.9,172.60h1.6M258.1,172.60h-1.6M35.9,168.46h1.6M258.1,168.46h-1.6M35.9,164.33h1.6M258.1,164.33h-1.6M35.9,160.20h3M258.1,160.20h-3M35.9,156.07h1.6M258.1,156.07h-1.6M35.9,151.94h1.6M258.1,151.94h-1.6M35.9,147.80h1.6M258.1,147.80h-1.6" stroke="#000" stroke-width="0.9" fill="none"/><g font-family="Liberation Serif" font-size="12" fill="#000" stroke="#000" stroke-width="0.12"><text x="34.4" y="123.20" text-anchor="end">0</text><text x="34.4" y="102.54" text-anchor="end">1</text><text x="34.4" y="81.88" text-anchor="end">2</text><text x="34.4" y="61.22" text-anchor="end">3</text><text x="34.4" y="40.56" text-anchor="end">4</text><text x="34.4" y="19.90" text-anchor="end">5</text><text x="35.60" y="135.7" text-anchor="middle">0</text><text x="80.10" y="135.7" text-anchor="middle">20</text><text x="124.60" y="135.7" text-anchor="middle">40</text><text x="169.10" y="135.7" text-anchor="middle">60</text><text x="213.60" y="135.7" text-anchor="middle">80</text><text x="258.10" y="135.7" text-anchor="middle">100</text><text x="34.4" y="267.20" text-anchor="end">0</text><text x="34.4" y="246.54" text-anchor="end">1</text><text x="34.4" y="225.88" text-anchor="end">2</text><text x="34.4" y="205.22" text-anchor="end">3</text><text x="34.4" y="184.56" text-anchor="end">4</text><text x="34.4" y="163.90" text-anchor="end">5</text><text x="35.60" y="279.7" text-anchor="middle">0</text><text x="80.10" y="279.7" text-anchor="middle">20</text><text x="124.60" y="279.7" text-anchor="middle">40</text><text x="169.10" y="279.7" text-anchor="middle">60</text><text x="213.60" y="279.7" text-anchor="middle">80</text><text x="258.10" y="279.7" text-anchor="middle">100</text></g><text x="40.3" y="12.6" font-family="Liberation Serif" font-size="11.3" fill="#000" stroke="#000" stroke-width="0.12">Forward</text><text x="41.2" y="156.5" font-family="Liberation Serif" font-size="11.3" fill="#000" stroke="#000" stroke-width="0.12">Backward</text><text x="118" y="117.3" font-family="Liberation Serif" font-size="13" fill="#000" stroke="#000" stroke-width="0.3">no solitons</text><g font-family="Liberation Serif" font-weight="bold" font-size="12.3" fill="#a81616"><text x="254.9" y="13.1" text-anchor="end" font-style="italic">H = 5</text><text x="254.6" y="39.80" text-anchor="end">4</text><text x="254.6" y="63.60" text-anchor="end">3</text><text x="254.6" y="82.50" text-anchor="end">2</text><text x="254.6" y="105.00" text-anchor="end">1</text><text x="254.6" y="119.20" text-anchor="end">0</text></g><g font-family="Liberation Serif" font-weight="bold" font-size="12.3" fill="#a81616"><text x="254.9" y="157.1" text-anchor="end" font-style="italic">H = 5</text><text x="254.6" y="183.80" text-anchor="end">4</text><text x="254.6" y="207.60" text-anchor="end">3</text><text x="254.6" y="226.50" text-anchor="end">2</text><text x="254.6" y="249.00" text-anchor="end">1</text><text x="254.6" y="263.20" text-anchor="end">0</text></g><g fill="#000" stroke="#000" stroke-width="0.25"><text transform="translate(0.45,56.70) scale(1.1,1)" font-family="Liberation Serif" font-style="italic" font-size="18">∂</text><text transform="translate(11.40,56.50) scale(1.14,1)" font-family="Liberation Serif" font-style="italic" font-size="17.5">φ</text><rect x="0" y="61.40" width="23" height="1.2" fill="#111"/><text transform="translate(1.00,82.00) scale(1.18,1)" font-family="Liberation Serif" font-style="italic" font-size="18">∂</text><text transform="translate(12.55,82.20) scale(1.14,1)" font-family="Liberation Serif" font-style="italic" font-size="18.7">x</text><text transform="translate(0.45,200.70) scale(1.1,1)" font-family="Liberation Serif" font-style="italic" font-size="18">∂</text><text transform="translate(11.40,200.50) scale(1.14,1)" font-family="Liberation Serif" font-style="italic" font-size="17.5">φ</text><rect x="0" y="205.40" width="23" height="1.2" fill="#111"/><text transform="translate(1.00,226.00) scale(1.18,1)" font-family="Liberation Serif" font-style="italic" font-size="18">∂</text><text transform="translate(12.55,226.20) scale(1.14,1)" font-family="Liberation Serif" font-style="italic" font-size="18.7">x</text></g><text y="296.6" font-family="Liberation Serif" font-size="20" fill="#000" stroke="#000" stroke-width="0.2"><tspan x="121.9" font-style="italic">x</tspan><tspan x="140.9">(</tspan><tspan font-style="italic">μ</tspan><tspan>m)</tspan></text><g font-family="Liberation Sans" font-weight="bold" font-size="29" fill="#000"><text x="-0.5" y="20.5">a</text><text x="-1.5" y="164.3">b</text><text x="339" y="20.5">c</text><text x="644" y="21">d</text></g><defs><linearGradient id="cbg" x1="0" y1="0" x2="0" y2="1"><stop offset="0.000" stop-color="#0c0010"/><stop offset="0.020" stop-color="#12011f"/><stop offset="0.040" stop-color="#19022e"/><stop offset="0.060" stop-color="#1f023c"/><stop offset="0.080" stop-color="#26034b"/><stop offset="0.100" stop-color="#2c045a"/><stop offset="0.120" stop-color="#300660"/><stop offset="0.140" stop-color="#330767"/><stop offset="0.160" stop-color="#37096d"/><stop offset="0.180" stop-color="#3a0a74"/><stop offset="0.200" stop-color="#3e0c7a"/><stop offset="0.220" stop-color="#401083"/><stop offset="0.240" stop-color="#41138c"/><stop offset="0.260" stop-color="#431796"/><stop offset="0.280" stop-color="#441a9f"/><stop offset="0.300" stop-color="#461ea8"/><stop offset="0.320" stop-color="#4528b0"/><stop offset="0.340" stop-color="#4432b8"/><stop offset="0.360" stop-color="#423cc0"/><stop offset="0.380" stop-color="#4146c8"/><stop offset="0.400" stop-color="#4050d0"/><stop offset="0.420" stop-color="#4158d4"/><stop offset="0.440" stop-color="#4260d8"/><stop offset="0.460" stop-color="#4268dc"/><stop offset="0.480" stop-color="#4370e0"/><stop offset="0.500" stop-color="#4478e4"/><stop offset="0.520" stop-color="#4780e6"/><stop offset="0.540" stop-color="#4a88e9"/><stop offset="0.560" stop-color="#4e90eb"/><stop offset="0.580" stop-color="#5198ee"/><stop offset="0.600" stop-color="#54a0f0"/><stop offset="0.620" stop-color="#5ba5f1"/><stop offset="0.640" stop-color="#62aaf2"/><stop offset="0.660" stop-color="#6aaef2"/><stop offset="0.680" stop-color="#71b3f3"/><stop offset="0.700" stop-color="#78b8f4"/><stop offset="0.720" stop-color="#7ebcf5"/><stop offset="0.740" stop-color="#85c1f6"/><stop offset="0.760" stop-color="#8bc5f8"/><stop offset="0.780" stop-color="#92caf9"/><stop offset="0.800" stop-color="#98cefa"/><stop offset="0.820" stop-color="#9cd0fa"/><stop offset="0.840" stop-color="#a0d3fb"/><stop offset="0.860" stop-color="#a4d5fb"/><stop offset="0.880" stop-color="#a8d8fc"/><stop offset="0.900" stop-color="#acdafc"/><stop offset="0.920" stop-color="#b1defc"/><stop offset="0.940" stop-color="#b6e1fc"/><stop offset="0.960" stop-color="#bae5fd"/><stop offset="0.980" stop-color="#bfe8fd"/><stop offset="1.000" stop-color="#c4ecfd"/></linearGradient></defs><rect x="320.2" y="46.3" width="7.0" height="237.7" fill="url(#cbg)"/><rect x="304.6" y="2" width="29.8" height="298.4" rx="3.5" fill="none" stroke="#6a6a6a" stroke-width="1"/><g font-family="Liberation Serif" font-size="12" fill="#000" stroke="#000" stroke-width="0.12"><text x="316.6" y="287.70" text-anchor="end">0</text><text x="316.6" y="240.16" text-anchor="end">1</text><text x="316.6" y="192.62" text-anchor="end">2</text><text x="316.6" y="145.08" text-anchor="end">3</text><text x="316.6" y="97.54" text-anchor="end">4</text><text x="316.6" y="50.00" text-anchor="end">5</text></g><g fill="#000" stroke="#000" stroke-width="0.2"><text transform="translate(311.00,15.30) scale(1.2,1)" font-family="Liberation Serif" font-style="italic" font-size="15">∂</text><text transform="translate(320.00,15.30) scale(1.05,1)" font-family="Liberation Serif" font-style="italic" font-size="14.5">φ</text><rect x="310.9" y="18.4" width="17.8" height="1.3" fill="#111"/><text transform="translate(311.50,34.60) scale(1.15,1)" font-family="Liberation Serif" font-style="italic" font-size="15.8">∂</text><text transform="translate(320.10,34.60) scale(1.08,1)" font-family="Liberation Serif" font-style="italic" font-size="15.9">x</text></g><defs><linearGradient id="fb0" gradientUnits="userSpaceOnUse" x1="375.5" y1="0" x2="507.6" y2="0" spreadMethod="reflect"><stop offset="0.000" stop-color="#92caf9"/><stop offset="0.030" stop-color="#94cbf9"/><stop offset="0.061" stop-color="#98cefa"/><stop offset="0.091" stop-color="#9bd0fa"/><stop offset="0.121" stop-color="#9dd1fa"/><stop offset="0.151" stop-color="#9ed1fb"/><stop offset="0.182" stop-color="#9ed2fb"/><stop offset="0.212" stop-color="#9ed2fb"/><stop offset="0.242" stop-color="#9ed2fb"/><stop offset="0.273" stop-color="#9ed2fb"/><stop offset="0.303" stop-color="#9ed1fb"/><stop offset="0.333" stop-color="#9dd1fa"/><stop offset="0.363" stop-color="#9bd0fa"/><stop offset="0.394" stop-color="#97cefa"/><stop offset="0.424" stop-color="#8fc8f8"/><stop offset="0.454" stop-color="#82bff6"/><stop offset="0.484" stop-color="#71b3f3"/><stop offset="0.515" stop-color="#5ca5f1"/><stop offset="0.545" stop-color="#4f94ec"/><stop offset="0.575" stop-color="#4984e8"/><stop offset="0.606" stop-color="#4780e7"/><stop offset="0.636" stop-color="#4b88e9"/><stop offset="0.666" stop-color="#529aee"/><stop offset="0.696" stop-color="#63aaf2"/><stop offset="0.727" stop-color="#77b8f4"/><stop offset="0.757" stop-color="#87c2f7"/><stop offset="0.787" stop-color="#92caf9"/><stop offset="0.818" stop-color="#99cffa"/><stop offset="0.848" stop-color="#9cd0fa"/><stop offset="0.878" stop-color="#9dd1fa"/><stop offset="0.908" stop-color="#9ed1fb"/><stop offset="0.939" stop-color="#9ed2fb"/><stop offset="0.969" stop-color="#9ed2fb"/><stop offset="0.999" stop-color="#9ed2fb"/><stop offset="0.999" stop-color="#9ed2fb"/></linearGradient><linearGradient id="fb1" gradientUnits="userSpaceOnUse" x1="375.5" y1="0" x2="507.6" y2="0" spreadMethod="reflect"><stop offset="0.000" stop-color="#92caf9"/><stop offset="0.030" stop-color="#94cbf9"/><stop offset="0.061" stop-color="#98cefa"/><stop offset="0.091" stop-color="#9bd0fa"/><stop offset="0.121" stop-color="#9dd1fa"/><stop offset="0.151" stop-color="#9ed1fb"/><stop offset="0.182" stop-color="#9ed2fb"/><stop offset="0.212" stop-color="#9ed2fb"/><stop offset="0.242" stop-color="#9ed1fb"/><stop offset="0.273" stop-color="#9dd1fb"/><stop offset="0.303" stop-color="#9dd1fa"/><stop offset="0.333" stop-color="#9bd0fa"/><stop offset="0.363" stop-color="#97cdfa"/><stop offset="0.394" stop-color="#8fc8f8"/><stop offset="0.424" stop-color="#82bff6"/><stop offset="0.454" stop-color="#70b3f3"/><stop offset="0.484" stop-color="#5ba5f1"/><stop offset="0.515" stop-color="#4f93ec"/><stop offset="0.545" stop-color="#4984e8"/><stop offset="0.575" stop-color="#4781e7"/><stop offset="0.606" stop-color="#4b89e9"/><stop offset="0.636" stop-color="#539aee"/><stop offset="0.666" stop-color="#64abf2"/><stop offset="0.696" stop-color="#78b8f4"/><stop offset="0.727" stop-color="#88c3f7"/><stop offset="0.757" stop-color="#93caf9"/><stop offset="0.787" stop-color="#99cffa"/><stop offset="0.818" stop-color="#9cd0fa"/><stop offset="0.848" stop-color="#9dd1fb"/><stop offset="0.878" stop-color="#9ed1fb"/><stop offset="0.908" stop-color="#9ed2fb"/><stop offset="0.939" stop-color="#9ed2fb"/><stop offset="0.969" stop-color="#9ed2fb"/><stop offset="0.999" stop-color="#9ed2fb"/><stop offset="0.999" stop-color="#9ed2fb"/></linearGradient><linearGradient id="fb2" gradientUnits="userSpaceOnUse" x1="375.5" y1="0" x2="507.6" y2="0" spreadMethod="reflect"><stop offset="0.000" stop-color="#8ec7f8"/><stop offset="0.030" stop-color="#90c8f8"/><stop offset="0.061" stop-color="#94cbf9"/><stop offset="0.091" stop-color="#97cdf9"/><stop offset="0.121" stop-color="#99cef9"/><stop offset="0.151" stop-color="#99cdfa"/><stop offset="0.182" stop-color="#98ccfa"/><stop offset="0.212" stop-color="#97caf9"/><stop offset="0.242" stop-color="#97c9f8"/><stop offset="0.273" stop-color="#96c9f8"/><stop offset="0.303" stop-color="#95caf9"/><stop offset="0.333" stop-color="#92c9f9"/><stop offset="0.363" stop-color="#8bc5f8"/><stop offset="0.394" stop-color="#7fbdf6"/><stop offset="0.424" stop-color="#6fb2f3"/><stop offset="0.454" stop-color="#5ca5f1"/><stop offset="0.484" stop-color="#5194ec"/><stop offset="0.515" stop-color="#4c87e8"/><stop offset="0.545" stop-color="#4b85e8"/><stop offset="0.575" stop-color="#4e8dea"/><stop offset="0.606" stop-color="#559def"/><stop offset="0.636" stop-color="#64abf2"/><stop offset="0.666" stop-color="#76b5f3"/><stop offset="0.696" stop-color="#84bdf5"/><stop offset="0.727" stop-color="#8ec3f7"/><stop offset="0.757" stop-color="#93c8f8"/><stop offset="0.787" stop-color="#96cbf9"/><stop offset="0.818" stop-color="#98cdfa"/><stop offset="0.848" stop-color="#9acefa"/><stop offset="0.878" stop-color="#9bd0fa"/><stop offset="0.908" stop-color="#9bd0fa"/><stop offset="0.939" stop-color="#9bd0fa"/><stop offset="0.969" stop-color="#9bd0fa"/><stop offset="0.999" stop-color="#9bd0fa"/><stop offset="0.999" stop-color="#9bd0fa"/></linearGradient><linearGradient id="fb3" gradientUnits="userSpaceOnUse" x1="375.5" y1="0" x2="507.6" y2="0" spreadMethod="reflect"><stop offset="0.000" stop-color="#58a2f0"/><stop offset="0.030" stop-color="#5aa4f1"/><stop offset="0.061" stop-color="#5fa7f1"/><stop offset="0.091" stop-color="#64aaf2"/><stop offset="0.121" stop-color="#64abf2"/><stop offset="0.151" stop-color="#5da6f1"/><stop offset="0.182" stop-color="#5096ed"/><stop offset="0.212" stop-color="#467be4"/><stop offset="0.242" stop-color="#4266db"/><stop offset="0.273" stop-color="#4262d9"/><stop offset="0.303" stop-color="#4371e0"/><stop offset="0.333" stop-color="#4c8cea"/><stop offset="0.363" stop-color="#5aa4f0"/><stop offset="0.394" stop-color="#6aaff2"/><stop offset="0.424" stop-color="#73b4f3"/><stop offset="0.454" stop-color="#76b7f4"/><stop offset="0.484" stop-color="#78b8f4"/><stop offset="0.515" stop-color="#77b8f4"/><stop offset="0.545" stop-color="#76b6f4"/><stop offset="0.575" stop-color="#71b4f3"/><stop offset="0.606" stop-color="#68adf2"/><stop offset="0.636" stop-color="#57a2f0"/><stop offset="0.666" stop-color="#4c8aea"/><stop offset="0.696" stop-color="#4472e1"/><stop offset="0.727" stop-color="#4265da"/><stop offset="0.757" stop-color="#4269dc"/><stop offset="0.787" stop-color="#467ce5"/><stop offset="0.818" stop-color="#5096ed"/><stop offset="0.848" stop-color="#5fa8f1"/><stop offset="0.878" stop-color="#6cb0f3"/><stop offset="0.908" stop-color="#74b5f4"/><stop offset="0.939" stop-color="#77b7f4"/><stop offset="0.969" stop-color="#78b8f4"/><stop offset="0.999" stop-color="#78b8f4"/><stop offset="0.999" stop-color="#78b8f4"/></linearGradient><linearGradient id="fb4" gradientUnits="userSpaceOnUse" x1="375.5" y1="0" x2="507.6" y2="0" spreadMethod="reflect"><stop offset="0.000" stop-color="#58a2f0"/><stop offset="0.030" stop-color="#5aa4f1"/><stop offset="0.061" stop-color="#60a8f1"/><stop offset="0.091" stop-color="#66acf2"/><stop offset="0.121" stop-color="#6baff3"/><stop offset="0.151" stop-color="#69aef2"/><stop offset="0.182" stop-color="#60a8f1"/><stop offset="0.212" stop-color="#5197ed"/><stop offset="0.242" stop-color="#467ce5"/><stop offset="0.273" stop-color="#4267db"/><stop offset="0.303" stop-color="#4262d9"/><stop offset="0.333" stop-color="#4471e0"/><stop offset="0.363" stop-color="#4c8bea"/><stop offset="0.394" stop-color="#5aa3f0"/><stop offset="0.424" stop-color="#6aaef2"/><stop offset="0.454" stop-color="#73b4f3"/><stop offset="0.484" stop-color="#76b7f4"/><stop offset="0.515" stop-color="#77b8f4"/><stop offset="0.545" stop-color="#77b7f4"/><stop offset="0.575" stop-color="#74b6f4"/><stop offset="0.606" stop-color="#6eb1f3"/><stop offset="0.636" stop-color="#62a9f2"/><stop offset="0.666" stop-color="#5199ee"/><stop offset="0.696" stop-color="#477fe6"/><stop offset="0.727" stop-color="#436bde"/><stop offset="0.757" stop-color="#4265da"/><stop offset="0.787" stop-color="#4370e0"/><stop offset="0.818" stop-color="#4a87e9"/><stop offset="0.848" stop-color="#559ff0"/><stop offset="0.878" stop-color="#66acf2"/><stop offset="0.908" stop-color="#70b3f3"/><stop offset="0.939" stop-color="#75b6f4"/><stop offset="0.969" stop-color="#77b7f4"/><stop offset="0.999" stop-color="#78b8f4"/><stop offset="0.999" stop-color="#78b8f4"/></linearGradient><linearGradient id="fb5" gradientUnits="userSpaceOnUse" x1="375.5" y1="0" x2="507.6" y2="0" spreadMethod="reflect"><stop offset="0.000" stop-color="#58a2f0"/><stop offset="0.030" stop-color="#5aa4f1"/><stop offset="0.061" stop-color="#60a8f1"/><stop offset="0.091" stop-color="#67adf2"/><stop offset="0.121" stop-color="#6db1f3"/><stop offset="0.151" stop-color="#70b2f3"/><stop offset="0.182" stop-color="#6db0f3"/><stop offset="0.212" stop-color="#62a9f2"/><stop offset="0.242" stop-color="#5298ee"/><stop offset="0.273" stop-color="#467de5"/><stop offset="0.303" stop-color="#4267db"/><stop offset="0.333" stop-color="#4261d9"/><stop offset="0.363" stop-color="#4370e0"/><stop offset="0.394" stop-color="#4c8aea"/><stop offset="0.424" stop-color="#59a3f0"/><stop offset="0.454" stop-color="#6aaef2"/><stop offset="0.484" stop-color="#72b4f3"/><stop offset="0.515" stop-color="#76b7f4"/><stop offset="0.545" stop-color="#77b7f4"/><stop offset="0.575" stop-color="#76b7f4"/><stop offset="0.606" stop-color="#72b4f3"/><stop offset="0.636" stop-color="#6aaef2"/><stop offset="0.666" stop-color="#5aa4f1"/><stop offset="0.696" stop-color="#4d8eeb"/><stop offset="0.727" stop-color="#4475e2"/><stop offset="0.757" stop-color="#4266db"/><stop offset="0.787" stop-color="#4268dc"/><stop offset="0.818" stop-color="#4579e4"/><stop offset="0.848" stop-color="#4e92ec"/><stop offset="0.878" stop-color="#5da6f1"/><stop offset="0.908" stop-color="#6baff3"/><stop offset="0.939" stop-color="#73b5f3"/><stop offset="0.969" stop-color="#76b7f4"/><stop offset="0.999" stop-color="#78b8f4"/><stop offset="0.999" stop-color="#78b8f4"/></linearGradient><linearGradient id="fb6" gradientUnits="userSpaceOnUse" x1="375.5" y1="0" x2="507.6" y2="0" spreadMethod="reflect"><stop offset="0.000" stop-color="#4c8dea"/><stop offset="0.030" stop-color="#4880e6"/><stop offset="0.061" stop-color="#426add"/><stop offset="0.091" stop-color="#4056d2"/><stop offset="0.121" stop-color="#4146c8"/><stop offset="0.151" stop-color="#4146c8"/><stop offset="0.182" stop-color="#4054d2"/><stop offset="0.212" stop-color="#4263da"/><stop offset="0.242" stop-color="#436dde"/><stop offset="0.273" stop-color="#4370e0"/><stop offset="0.303" stop-color="#436dde"/><stop offset="0.333" stop-color="#4265da"/><stop offset="0.363" stop-color="#4158d4"/><stop offset="0.394" stop-color="#414acb"/><stop offset="0.424" stop-color="#4244c6"/><stop offset="0.454" stop-color="#404ece"/><stop offset="0.484" stop-color="#415cd6"/><stop offset="0.515" stop-color="#4268dc"/><stop offset="0.545" stop-color="#436fe0"/><stop offset="0.575" stop-color="#4371e0"/><stop offset="0.606" stop-color="#4371e0"/><stop offset="0.636" stop-color="#436edf"/><stop offset="0.666" stop-color="#4267dc"/><stop offset="0.696" stop-color="#415bd6"/><stop offset="0.727" stop-color="#404ece"/><stop offset="0.757" stop-color="#4244c7"/><stop offset="0.787" stop-color="#4148ca"/><stop offset="0.818" stop-color="#4055d2"/><stop offset="0.848" stop-color="#4262d9"/><stop offset="0.878" stop-color="#436bde"/><stop offset="0.908" stop-color="#4370e0"/><stop offset="0.939" stop-color="#4372e1"/><stop offset="0.969" stop-color="#4472e1"/><stop offset="0.999" stop-color="#4472e2"/><stop offset="0.999" stop-color="#4472e2"/></linearGradient><linearGradient id="fb7" gradientUnits="userSpaceOnUse" x1="375.5" y1="0" x2="507.6" y2="0" spreadMethod="reflect"><stop offset="0.000" stop-color="#4881e7"/><stop offset="0.030" stop-color="#4474e2"/><stop offset="0.061" stop-color="#415ed7"/><stop offset="0.091" stop-color="#4148c9"/><stop offset="0.121" stop-color="#4337bc"/><stop offset="0.151" stop-color="#4337bc"/><stop offset="0.182" stop-color="#4147c8"/><stop offset="0.212" stop-color="#4157d4"/><stop offset="0.242" stop-color="#4261d8"/><stop offset="0.273" stop-color="#4264da"/><stop offset="0.303" stop-color="#4261d9"/><stop offset="0.333" stop-color="#4159d5"/><stop offset="0.363" stop-color="#414bcc"/><stop offset="0.394" stop-color="#433bbf"/><stop offset="0.424" stop-color="#4335bb"/><stop offset="0.454" stop-color="#423ec2"/><stop offset="0.484" stop-color="#404fcf"/><stop offset="0.515" stop-color="#415cd6"/><stop offset="0.545" stop-color="#4263d9"/><stop offset="0.575" stop-color="#4265db"/><stop offset="0.606" stop-color="#4265da"/><stop offset="0.636" stop-color="#4262d9"/><stop offset="0.666" stop-color="#415bd5"/><stop offset="0.696" stop-color="#404fce"/><stop offset="0.727" stop-color="#423fc2"/><stop offset="0.757" stop-color="#4335bb"/><stop offset="0.787" stop-color="#4339be"/><stop offset="0.818" stop-color="#4147c9"/><stop offset="0.848" stop-color="#4156d3"/><stop offset="0.878" stop-color="#425fd8"/><stop offset="0.908" stop-color="#4264da"/><stop offset="0.939" stop-color="#4266db"/><stop offset="0.969" stop-color="#4266db"/><stop offset="0.999" stop-color="#4266db"/><stop offset="0.999" stop-color="#4266db"/></linearGradient><linearGradient id="fb8" gradientUnits="userSpaceOnUse" x1="375.5" y1="0" x2="507.6" y2="0" spreadMethod="reflect"><stop offset="0.000" stop-color="#4475e2"/><stop offset="0.030" stop-color="#4268dc"/><stop offset="0.061" stop-color="#4052d0"/><stop offset="0.091" stop-color="#4338bd"/><stop offset="0.121" stop-color="#4528b0"/><stop offset="0.151" stop-color="#4528b0"/><stop offset="0.182" stop-color="#4338bc"/><stop offset="0.212" stop-color="#414acb"/><stop offset="0.242" stop-color="#4054d2"/><stop offset="0.273" stop-color="#4158d4"/><stop offset="0.303" stop-color="#4055d2"/><stop offset="0.333" stop-color="#404ccd"/><stop offset="0.363" stop-color="#423cc0"/><stop offset="0.394" stop-color="#442cb3"/><stop offset="0.424" stop-color="#4526ae"/><stop offset="0.454" stop-color="#442fb6"/><stop offset="0.484" stop-color="#4240c4"/><stop offset="0.515" stop-color="#4050cf"/><stop offset="0.545" stop-color="#4157d4"/><stop offset="0.575" stop-color="#4159d4"/><stop offset="0.606" stop-color="#4159d4"/><stop offset="0.636" stop-color="#4056d3"/><stop offset="0.666" stop-color="#404ece"/><stop offset="0.696" stop-color="#4240c3"/><stop offset="0.727" stop-color="#4430b6"/><stop offset="0.757" stop-color="#4526af"/><stop offset="0.787" stop-color="#442ab2"/><stop offset="0.818" stop-color="#4338bd"/><stop offset="0.848" stop-color="#4148ca"/><stop offset="0.878" stop-color="#4053d1"/><stop offset="0.908" stop-color="#4158d4"/><stop offset="0.939" stop-color="#415ad5"/><stop offset="0.969" stop-color="#415ad5"/><stop offset="0.999" stop-color="#415ad5"/><stop offset="0.999" stop-color="#415ad5"/></linearGradient><linearGradient id="fb9" gradientUnits="userSpaceOnUse" x1="375.5" y1="0" x2="507.6" y2="0" spreadMethod="reflect"><stop offset="0.000" stop-color="#4433b8"/><stop offset="0.030" stop-color="#4433b8"/><stop offset="0.061" stop-color="#4525ae"/><stop offset="0.091" stop-color="#441a9d"/><stop offset="0.121" stop-color="#421590"/><stop offset="0.151" stop-color="#42148f"/><stop offset="0.182" stop-color="#43199a"/><stop offset="0.212" stop-color="#4522ab"/><stop offset="0.242" stop-color="#4430b6"/><stop offset="0.273" stop-color="#4432b8"/><stop offset="0.303" stop-color="#4527b0"/><stop offset="0.333" stop-color="#441ca0"/><stop offset="0.363" stop-color="#421692"/><stop offset="0.394" stop-color="#42148e"/><stop offset="0.424" stop-color="#431897"/><stop offset="0.454" stop-color="#461fa8"/><stop offset="0.484" stop-color="#442eb4"/><stop offset="0.515" stop-color="#4432b8"/><stop offset="0.545" stop-color="#4529b1"/><stop offset="0.575" stop-color="#441ea2"/><stop offset="0.606" stop-color="#421994"/><stop offset="0.636" stop-color="#411790"/><stop offset="0.666" stop-color="#421998"/><stop offset="0.696" stop-color="#451fa6"/><stop offset="0.727" stop-color="#442bb2"/><stop offset="0.757" stop-color="#4430b6"/><stop offset="0.787" stop-color="#4528b0"/><stop offset="0.818" stop-color="#451da3"/><stop offset="0.848" stop-color="#421895"/><stop offset="0.878" stop-color="#411690"/><stop offset="0.908" stop-color="#421a97"/><stop offset="0.939" stop-color="#451fa6"/><stop offset="0.969" stop-color="#442cb3"/><stop offset="0.999" stop-color="#4433b9"/><stop offset="0.999" stop-color="#4433b9"/></linearGradient><linearGradient id="fb10" gradientUnits="userSpaceOnUse" x1="375.5" y1="0" x2="507.6" y2="0" spreadMethod="reflect"><stop offset="0.000" stop-color="#4524ad"/><stop offset="0.030" stop-color="#4524ad"/><stop offset="0.061" stop-color="#451ca2"/><stop offset="0.091" stop-color="#421590"/><stop offset="0.121" stop-color="#401083"/><stop offset="0.151" stop-color="#400f82"/><stop offset="0.182" stop-color="#41148d"/><stop offset="0.212" stop-color="#441a9e"/><stop offset="0.242" stop-color="#4623ac"/><stop offset="0.273" stop-color="#4524ad"/><stop offset="0.303" stop-color="#451ca4"/><stop offset="0.333" stop-color="#421692"/><stop offset="0.363" stop-color="#401084"/><stop offset="0.394" stop-color="#3f0f82"/><stop offset="0.424" stop-color="#41138b"/><stop offset="0.454" stop-color="#441a9c"/><stop offset="0.484" stop-color="#4621aa"/><stop offset="0.515" stop-color="#4525ae"/><stop offset="0.545" stop-color="#461da5"/><stop offset="0.575" stop-color="#421694"/><stop offset="0.606" stop-color="#401086"/><stop offset="0.636" stop-color="#3f0f81"/><stop offset="0.666" stop-color="#41128a"/><stop offset="0.696" stop-color="#44199a"/><stop offset="0.727" stop-color="#4620a9"/><stop offset="0.757" stop-color="#4526ae"/><stop offset="0.787" stop-color="#461ea7"/><stop offset="0.818" stop-color="#431797"/><stop offset="0.848" stop-color="#401187"/><stop offset="0.878" stop-color="#3f0f81"/><stop offset="0.908" stop-color="#401288"/><stop offset="0.939" stop-color="#431898"/><stop offset="0.969" stop-color="#461fa8"/><stop offset="0.999" stop-color="#4526ae"/><stop offset="0.999" stop-color="#4526ae"/></linearGradient><linearGradient id="fb11" gradientUnits="userSpaceOnUse" x1="375.5" y1="0" x2="507.6" y2="0" spreadMethod="reflect"><stop offset="0.000" stop-color="#451ba1"/><stop offset="0.030" stop-color="#451ba0"/><stop offset="0.061" stop-color="#421694"/><stop offset="0.091" stop-color="#3f1083"/><stop offset="0.121" stop-color="#3c0c78"/><stop offset="0.151" stop-color="#3c0b77"/><stop offset="0.182" stop-color="#3f0f81"/><stop offset="0.212" stop-color="#421592"/><stop offset="0.242" stop-color="#441a9e"/><stop offset="0.273" stop-color="#441b9f"/><stop offset="0.303" stop-color="#421795"/><stop offset="0.333" stop-color="#3f1185"/><stop offset="0.363" stop-color="#3d0c79"/><stop offset="0.394" stop-color="#3c0b77"/><stop offset="0.424" stop-color="#3f0e80"/><stop offset="0.454" stop-color="#41148f"/><stop offset="0.484" stop-color="#431a9c"/><stop offset="0.515" stop-color="#441ba0"/><stop offset="0.545" stop-color="#421897"/><stop offset="0.575" stop-color="#401288"/><stop offset="0.606" stop-color="#3e0c7a"/><stop offset="0.636" stop-color="#3c0b77"/><stop offset="0.666" stop-color="#3e0d7d"/><stop offset="0.696" stop-color="#41148c"/><stop offset="0.727" stop-color="#43199b"/><stop offset="0.757" stop-color="#441ba0"/><stop offset="0.787" stop-color="#43189a"/><stop offset="0.818" stop-color="#41128a"/><stop offset="0.848" stop-color="#3e0d7b"/><stop offset="0.878" stop-color="#3c0b76"/><stop offset="0.908" stop-color="#3e0d7c"/><stop offset="0.939" stop-color="#40138b"/><stop offset="0.969" stop-color="#43199a"/><stop offset="0.999" stop-color="#451ca1"/><stop offset="0.999" stop-color="#451ca1"/></linearGradient><linearGradient id="fb12" gradientUnits="userSpaceOnUse" x1="375.5" y1="0" x2="507.6" y2="0" spreadMethod="reflect"><stop offset="0.000" stop-color="#41138b"/><stop offset="0.030" stop-color="#3f0f82"/><stop offset="0.061" stop-color="#36096c"/><stop offset="0.091" stop-color="#2e055d"/><stop offset="0.121" stop-color="#290453"/><stop offset="0.151" stop-color="#2e055e"/><stop offset="0.182" stop-color="#35086b"/><stop offset="0.212" stop-color="#3a0a72"/><stop offset="0.242" stop-color="#37096e"/><stop offset="0.273" stop-color="#300662"/><stop offset="0.303" stop-color="#2a0455"/><stop offset="0.333" stop-color="#2b0457"/><stop offset="0.363" stop-color="#320765"/><stop offset="0.394" stop-color="#380a70"/><stop offset="0.424" stop-color="#390a71"/><stop offset="0.454" stop-color="#340768"/><stop offset="0.484" stop-color="#2d055b"/><stop offset="0.515" stop-color="#290453"/><stop offset="0.545" stop-color="#2f055f"/><stop offset="0.575" stop-color="#36086c"/><stop offset="0.606" stop-color="#3a0a72"/><stop offset="0.636" stop-color="#37096d"/><stop offset="0.666" stop-color="#300661"/><stop offset="0.696" stop-color="#2a0454"/><stop offset="0.727" stop-color="#2c0458"/><stop offset="0.757" stop-color="#330766"/><stop offset="0.787" stop-color="#390a70"/><stop offset="0.818" stop-color="#390a71"/><stop offset="0.848" stop-color="#330767"/><stop offset="0.878" stop-color="#2c045a"/><stop offset="0.908" stop-color="#290453"/><stop offset="0.939" stop-color="#2f0560"/><stop offset="0.969" stop-color="#36096c"/><stop offset="0.999" stop-color="#3a0a72"/><stop offset="0.999" stop-color="#3a0a72"/></linearGradient><linearGradient id="fb13" gradientUnits="userSpaceOnUse" x1="375.5" y1="0" x2="507.6" y2="0" spreadMethod="reflect"><stop offset="0.000" stop-color="#3f0f82"/><stop offset="0.030" stop-color="#401084"/><stop offset="0.061" stop-color="#38096f"/><stop offset="0.091" stop-color="#2b0457"/><stop offset="0.121" stop-color="#1d0237"/><stop offset="0.151" stop-color="#210341"/><stop offset="0.182" stop-color="#300661"/><stop offset="0.212" stop-color="#390a71"/><stop offset="0.242" stop-color="#390a70"/><stop offset="0.273" stop-color="#2f0660"/><stop offset="0.303" stop-color="#21033f"/><stop offset="0.333" stop-color="#1d0238"/><stop offset="0.363" stop-color="#2b0457"/><stop offset="0.394" stop-color="#36096c"/><stop offset="0.424" stop-color="#3a0a73"/><stop offset="0.454" stop-color="#340768"/><stop offset="0.484" stop-color="#26034d"/><stop offset="0.515" stop-color="#1c0235"/><stop offset="0.545" stop-color="#240348"/><stop offset="0.575" stop-color="#320765"/><stop offset="0.606" stop-color="#3a0a73"/><stop offset="0.636" stop-color="#37096e"/><stop offset="0.666" stop-color="#2d045b"/><stop offset="0.696" stop-color="#1e023a"/><stop offset="0.727" stop-color="#1f023c"/><stop offset="0.757" stop-color="#2e055e"/><stop offset="0.787" stop-color="#38096f"/><stop offset="0.818" stop-color="#390a72"/><stop offset="0.848" stop-color="#310663"/><stop offset="0.878" stop-color="#230344"/><stop offset="0.908" stop-color="#1c0236"/><stop offset="0.939" stop-color="#280451"/><stop offset="0.969" stop-color="#35086a"/><stop offset="0.999" stop-color="#3a0a73"/><stop offset="0.999" stop-color="#3a0a73"/></linearGradient><linearGradient id="fb14" gradientUnits="userSpaceOnUse" x1="375.5" y1="0" x2="507.6" y2="0" spreadMethod="reflect"><stop offset="0.000" stop-color="#3b0b75"/><stop offset="0.030" stop-color="#3f0f82"/><stop offset="0.061" stop-color="#3a0a74"/><stop offset="0.091" stop-color="#2c045a"/><stop offset="0.121" stop-color="#160127"/><stop offset="0.151" stop-color="#130121"/><stop offset="0.182" stop-color="#27034e"/><stop offset="0.212" stop-color="#37096d"/><stop offset="0.242" stop-color="#3a0a73"/><stop offset="0.273" stop-color="#300662"/><stop offset="0.303" stop-color="#1b0234"/><stop offset="0.333" stop-color="#12011d"/><stop offset="0.363" stop-color="#1f023c"/><stop offset="0.394" stop-color="#330766"/><stop offset="0.424" stop-color="#3b0a74"/><stop offset="0.454" stop-color="#35086a"/><stop offset="0.484" stop-color="#230344"/><stop offset="0.515" stop-color="#12011e"/><stop offset="0.545" stop-color="#19022d"/><stop offset="0.575" stop-color="#2f055e"/><stop offset="0.606" stop-color="#3a0a72"/><stop offset="0.636" stop-color="#38096f"/><stop offset="0.666" stop-color="#2b0457"/><stop offset="0.696" stop-color="#150125"/><stop offset="0.727" stop-color="#140122"/><stop offset="0.757" stop-color="#280451"/><stop offset="0.787" stop-color="#37096e"/><stop offset="0.818" stop-color="#3a0a73"/><stop offset="0.848" stop-color="#300661"/><stop offset="0.878" stop-color="#1a0232"/><stop offset="0.908" stop-color="#12011d"/><stop offset="0.939" stop-color="#20023f"/><stop offset="0.969" stop-color="#340767"/><stop offset="0.999" stop-color="#3b0a74"/><stop offset="0.999" stop-color="#3b0a74"/></linearGradient><linearGradient id="fb15" gradientUnits="userSpaceOnUse" x1="375.5" y1="0" x2="507.6" y2="0" spreadMethod="reflect"><stop offset="0.000" stop-color="#35086a"/><stop offset="0.030" stop-color="#3e0d7d"/><stop offset="0.061" stop-color="#3c0b77"/><stop offset="0.091" stop-color="#2e055e"/><stop offset="0.121" stop-color="#130121"/><stop offset="0.151" stop-color="#0c0010"/><stop offset="0.182" stop-color="#1d0237"/><stop offset="0.212" stop-color="#340768"/><stop offset="0.242" stop-color="#3b0b74"/><stop offset="0.273" stop-color="#320765"/><stop offset="0.303" stop-color="#1a0230"/><stop offset="0.333" stop-color="#0c0010"/><stop offset="0.363" stop-color="#160127"/><stop offset="0.394" stop-color="#300661"/><stop offset="0.424" stop-color="#3a0a74"/><stop offset="0.454" stop-color="#36086c"/><stop offset="0.484" stop-color="#220342"/><stop offset="0.515" stop-color="#0c0011"/><stop offset="0.545" stop-color="#100019"/><stop offset="0.575" stop-color="#2a0456"/><stop offset="0.606" stop-color="#390a71"/><stop offset="0.636" stop-color="#390a71"/><stop offset="0.666" stop-color="#2a0455"/><stop offset="0.696" stop-color="#0f0018"/><stop offset="0.727" stop-color="#0d0012"/><stop offset="0.757" stop-color="#220344"/><stop offset="0.787" stop-color="#36096c"/><stop offset="0.818" stop-color="#3a0a74"/><stop offset="0.848" stop-color="#2f0560"/><stop offset="0.878" stop-color="#150125"/><stop offset="0.908" stop-color="#0c0010"/><stop offset="0.939" stop-color="#1b0232"/><stop offset="0.969" stop-color="#330766"/><stop offset="0.999" stop-color="#3b0b74"/><stop offset="0.999" stop-color="#3b0b74"/></linearGradient><linearGradient id="fb16" gradientUnits="userSpaceOnUse" x1="375.5" y1="0" x2="507.6" y2="0" spreadMethod="reflect"><stop offset="0.000" stop-color="#310664"/><stop offset="0.030" stop-color="#3d0c79"/><stop offset="0.061" stop-color="#3d0b78"/><stop offset="0.091" stop-color="#300660"/><stop offset="0.121" stop-color="#130120"/><stop offset="0.151" stop-color="#0c0010"/><stop offset="0.182" stop-color="#170129"/><stop offset="0.212" stop-color="#320764"/><stop offset="0.242" stop-color="#3b0b75"/><stop offset="0.273" stop-color="#330767"/><stop offset="0.303" stop-color="#1a0230"/><stop offset="0.333" stop-color="#0c0010"/><stop offset="0.363" stop-color="#10011a"/><stop offset="0.394" stop-color="#2e055d"/><stop offset="0.424" stop-color="#3a0a73"/><stop offset="0.454" stop-color="#37096d"/><stop offset="0.484" stop-color="#210342"/><stop offset="0.515" stop-color="#0c0010"/><stop offset="0.545" stop-color="#0c0011"/><stop offset="0.575" stop-color="#27034e"/><stop offset="0.606" stop-color="#380a70"/><stop offset="0.636" stop-color="#390a71"/><stop offset="0.666" stop-color="#290454"/><stop offset="0.696" stop-color="#0d0012"/><stop offset="0.727" stop-color="#0c0010"/><stop offset="0.757" stop-color="#1f023c"/><stop offset="0.787" stop-color="#36086b"/><stop offset="0.818" stop-color="#3b0a74"/><stop offset="0.848" stop-color="#2f055f"/><stop offset="0.878" stop-color="#12011e"/><stop offset="0.908" stop-color="#0c0010"/><stop offset="0.939" stop-color="#18012b"/><stop offset="0.969" stop-color="#320765"/><stop offset="0.999" stop-color="#3b0b75"/><stop offset="0.999" stop-color="#3b0b75"/></linearGradient><linearGradient id="fb17" gradientUnits="userSpaceOnUse" x1="375.5" y1="0" x2="507.6" y2="0" spreadMethod="reflect"><stop offset="0.000" stop-color="#300662"/><stop offset="0.030" stop-color="#3d0b78"/><stop offset="0.061" stop-color="#3d0c78"/><stop offset="0.091" stop-color="#300661"/><stop offset="0.121" stop-color="#130120"/><stop offset="0.151" stop-color="#0c0010"/><stop offset="0.182" stop-color="#150125"/><stop offset="0.212" stop-color="#310663"/><stop offset="0.242" stop-color="#3b0b75"/><stop offset="0.273" stop-color="#340768"/><stop offset="0.303" stop-color="#1a0230"/><stop offset="0.333" stop-color="#0c0010"/><stop offset="0.363" stop-color="#0f0016"/><stop offset="0.394" stop-color="#2d045b"/><stop offset="0.424" stop-color="#3a0a73"/><stop offset="0.454" stop-color="#37096d"/><stop offset="0.484" stop-color="#220342"/><stop offset="0.515" stop-color="#0c0010"/><stop offset="0.545" stop-color="#0c0010"/><stop offset="0.575" stop-color="#26034c"/><stop offset="0.606" stop-color="#380970"/><stop offset="0.636" stop-color="#390a72"/><stop offset="0.666" stop-color="#290454"/><stop offset="0.696" stop-color="#0d0011"/><stop offset="0.727" stop-color="#0c0010"/><stop offset="0.757" stop-color="#1e023a"/><stop offset="0.787" stop-color="#35086b"/><stop offset="0.818" stop-color="#3b0b74"/><stop offset="0.848" stop-color="#2f055f"/><stop offset="0.878" stop-color="#11011c"/><stop offset="0.908" stop-color="#0c0010"/><stop offset="0.939" stop-color="#170129"/><stop offset="0.969" stop-color="#320765"/><stop offset="0.999" stop-color="#3b0b75"/><stop offset="0.999" stop-color="#3b0b75"/></linearGradient><linearGradient id="fb18" gradientUnits="userSpaceOnUse" x1="375.5" y1="0" x2="507.6" y2="0" spreadMethod="reflect"><stop offset="0.000" stop-color="#320765"/><stop offset="0.030" stop-color="#3e0c7a"/><stop offset="0.061" stop-color="#3d0b78"/><stop offset="0.091" stop-color="#2f0660"/><stop offset="0.121" stop-color="#130120"/><stop offset="0.151" stop-color="#0c0010"/><stop offset="0.182" stop-color="#18022c"/><stop offset="0.212" stop-color="#320765"/><stop offset="0.242" stop-color="#3b0b75"/><stop offset="0.273" stop-color="#330767"/><stop offset="0.303" stop-color="#1a0230"/><stop offset="0.333" stop-color="#0c0010"/><stop offset="0.363" stop-color="#12011d"/><stop offset="0.394" stop-color="#2e055e"/><stop offset="0.424" stop-color="#3a0a73"/><stop offset="0.454" stop-color="#36096d"/><stop offset="0.484" stop-color="#210342"/><stop offset="0.515" stop-color="#0c0010"/><stop offset="0.545" stop-color="#0d0012"/><stop offset="0.575" stop-color="#280350"/><stop offset="0.606" stop-color="#380a70"/><stop offset="0.636" stop-color="#390a71"/><stop offset="0.666" stop-color="#290454"/><stop offset="0.696" stop-color="#0d0013"/><stop offset="0.727" stop-color="#0c0010"/><stop offset="0.757" stop-color="#20023e"/><stop offset="0.787" stop-color="#36086b"/><stop offset="0.818" stop-color="#3b0a74"/><stop offset="0.848" stop-color="#2f055f"/><stop offset="0.878" stop-color="#130120"/><stop offset="0.908" stop-color="#0c0010"/><stop offset="0.939" stop-color="#18022c"/><stop offset="0.969" stop-color="#320765"/><stop offset="0.999" stop-color="#3b0b75"/><stop offset="0.999" stop-color="#3b0b75"/></linearGradient><linearGradient id="fb19" gradientUnits="userSpaceOnUse" x1="375.5" y1="0" x2="507.6" y2="0" spreadMethod="reflect"><stop offset="0.000" stop-color="#37096d"/><stop offset="0.030" stop-color="#3f0e7f"/><stop offset="0.061" stop-color="#3c0b76"/><stop offset="0.091" stop-color="#2e055d"/><stop offset="0.121" stop-color="#140122"/><stop offset="0.151" stop-color="#0d0013"/><stop offset="0.182" stop-color="#20023e"/><stop offset="0.212" stop-color="#350869"/><stop offset="0.242" stop-color="#3b0b74"/><stop offset="0.273" stop-color="#320764"/><stop offset="0.303" stop-color="#1a0231"/><stop offset="0.333" stop-color="#0d0012"/><stop offset="0.363" stop-color="#18022d"/><stop offset="0.394" stop-color="#310662"/><stop offset="0.424" stop-color="#3b0a74"/><stop offset="0.454" stop-color="#36086b"/><stop offset="0.484" stop-color="#220342"/><stop offset="0.515" stop-color="#0d0013"/><stop offset="0.545" stop-color="#12011f"/><stop offset="0.575" stop-color="#2c0459"/><stop offset="0.606" stop-color="#390a71"/><stop offset="0.636" stop-color="#380a70"/><stop offset="0.666" stop-color="#2a0455"/><stop offset="0.696" stop-color="#11011b"/><stop offset="0.727" stop-color="#0e0015"/><stop offset="0.757" stop-color="#240348"/><stop offset="0.787" stop-color="#36096d"/><stop offset="0.818" stop-color="#3a0a73"/><stop offset="0.848" stop-color="#2f0660"/><stop offset="0.878" stop-color="#160128"/><stop offset="0.908" stop-color="#0d0012"/><stop offset="0.939" stop-color="#1c0236"/><stop offset="0.969" stop-color="#330766"/><stop offset="0.999" stop-color="#3b0b74"/><stop offset="0.999" stop-color="#3b0b74"/></linearGradient><linearGradient id="fb20" gradientUnits="userSpaceOnUse" x1="375.5" y1="0" x2="507.6" y2="0" spreadMethod="reflect"><stop offset="0.000" stop-color="#3d0b78"/><stop offset="0.030" stop-color="#401083"/><stop offset="0.061" stop-color="#3a0a73"/><stop offset="0.091" stop-color="#2b0458"/><stop offset="0.121" stop-color="#17012a"/><stop offset="0.151" stop-color="#170128"/><stop offset="0.182" stop-color="#2a0455"/><stop offset="0.212" stop-color="#37096e"/><stop offset="0.242" stop-color="#3a0a72"/><stop offset="0.273" stop-color="#300661"/><stop offset="0.303" stop-color="#1c0236"/><stop offset="0.333" stop-color="#140123"/><stop offset="0.363" stop-color="#220343"/><stop offset="0.394" stop-color="#340768"/><stop offset="0.424" stop-color="#3a0a74"/><stop offset="0.454" stop-color="#340869"/><stop offset="0.484" stop-color="#230346"/><stop offset="0.515" stop-color="#140123"/><stop offset="0.545" stop-color="#1b0234"/><stop offset="0.575" stop-color="#300660"/><stop offset="0.606" stop-color="#3a0a72"/><stop offset="0.636" stop-color="#38096f"/><stop offset="0.666" stop-color="#2b0458"/><stop offset="0.696" stop-color="#17012a"/><stop offset="0.727" stop-color="#160128"/><stop offset="0.757" stop-color="#2a0455"/><stop offset="0.787" stop-color="#37096e"/><stop offset="0.818" stop-color="#3a0a73"/><stop offset="0.848" stop-color="#300661"/><stop offset="0.878" stop-color="#1c0236"/><stop offset="0.908" stop-color="#140123"/><stop offset="0.939" stop-color="#220343"/><stop offset="0.969" stop-color="#340768"/><stop offset="0.999" stop-color="#3a0a74"/><stop offset="0.999" stop-color="#3a0a74"/></linearGradient><linearGradient id="fb21" gradientUnits="userSpaceOnUse" x1="375.5" y1="0" x2="507.6" y2="0" spreadMethod="reflect"><stop offset="0.000" stop-color="#401187"/><stop offset="0.030" stop-color="#401187"/><stop offset="0.061" stop-color="#380a71"/><stop offset="0.091" stop-color="#2c055a"/><stop offset="0.121" stop-color="#210340"/><stop offset="0.151" stop-color="#26044c"/><stop offset="0.182" stop-color="#320867"/><stop offset="0.212" stop-color="#3a0c75"/><stop offset="0.242" stop-color="#390b73"/><stop offset="0.273" stop-color="#300663"/><stop offset="0.303" stop-color="#240347"/><stop offset="0.333" stop-color="#220343"/><stop offset="0.363" stop-color="#2e065e"/><stop offset="0.394" stop-color="#380a70"/><stop offset="0.424" stop-color="#3a0c76"/><stop offset="0.454" stop-color="#34086a"/><stop offset="0.484" stop-color="#290453"/><stop offset="0.515" stop-color="#210340"/><stop offset="0.545" stop-color="#290452"/><stop offset="0.575" stop-color="#34086a"/><stop offset="0.606" stop-color="#3a0c76"/><stop offset="0.636" stop-color="#380a70"/><stop offset="0.666" stop-color="#2e055f"/><stop offset="0.696" stop-color="#220343"/><stop offset="0.727" stop-color="#240346"/><stop offset="0.757" stop-color="#300662"/><stop offset="0.787" stop-color="#390a73"/><stop offset="0.818" stop-color="#3a0c75"/><stop offset="0.848" stop-color="#320767"/><stop offset="0.878" stop-color="#26044d"/><stop offset="0.908" stop-color="#210340"/><stop offset="0.939" stop-color="#2b0558"/><stop offset="0.969" stop-color="#36096d"/><stop offset="0.999" stop-color="#3a0c76"/><stop offset="0.999" stop-color="#3a0c76"/></linearGradient><linearGradient id="fb22" gradientUnits="userSpaceOnUse" x1="375.5" y1="0" x2="507.6" y2="0" spreadMethod="reflect"><stop offset="0.000" stop-color="#4523ac"/><stop offset="0.030" stop-color="#4529b0"/><stop offset="0.061" stop-color="#451ca2"/><stop offset="0.091" stop-color="#41128a"/><stop offset="0.121" stop-color="#3f0e7f"/><stop offset="0.151" stop-color="#41128b"/><stop offset="0.182" stop-color="#451ca2"/><stop offset="0.212" stop-color="#4529b1"/><stop offset="0.242" stop-color="#4621ab"/><stop offset="0.273" stop-color="#431694"/><stop offset="0.303" stop-color="#3f0f81"/><stop offset="0.333" stop-color="#400f83"/><stop offset="0.363" stop-color="#431797"/><stop offset="0.394" stop-color="#4524ac"/><stop offset="0.424" stop-color="#4528b0"/><stop offset="0.454" stop-color="#451ba0"/><stop offset="0.484" stop-color="#401288"/><stop offset="0.515" stop-color="#3f0e7f"/><stop offset="0.545" stop-color="#41138d"/><stop offset="0.575" stop-color="#451da5"/><stop offset="0.606" stop-color="#4529b1"/><stop offset="0.636" stop-color="#4620a9"/><stop offset="0.666" stop-color="#421592"/><stop offset="0.696" stop-color="#3f0f80"/><stop offset="0.727" stop-color="#401084"/><stop offset="0.757" stop-color="#44189a"/><stop offset="0.787" stop-color="#4525ae"/><stop offset="0.818" stop-color="#4527af"/><stop offset="0.848" stop-color="#441a9d"/><stop offset="0.878" stop-color="#401186"/><stop offset="0.908" stop-color="#3f0e7f"/><stop offset="0.939" stop-color="#42148f"/><stop offset="0.969" stop-color="#461da7"/><stop offset="0.999" stop-color="#4529b1"/><stop offset="0.999" stop-color="#4529b1"/></linearGradient><linearGradient id="fb23" gradientUnits="userSpaceOnUse" x1="375.5" y1="0" x2="507.6" y2="0" spreadMethod="reflect"><stop offset="0.000" stop-color="#4522ab"/><stop offset="0.030" stop-color="#4527b0"/><stop offset="0.061" stop-color="#451ca3"/><stop offset="0.091" stop-color="#42148e"/><stop offset="0.121" stop-color="#401085"/><stop offset="0.151" stop-color="#42148f"/><stop offset="0.182" stop-color="#451ca4"/><stop offset="0.212" stop-color="#4528b0"/><stop offset="0.242" stop-color="#4621ab"/><stop offset="0.273" stop-color="#431897"/><stop offset="0.303" stop-color="#401187"/><stop offset="0.333" stop-color="#401288"/><stop offset="0.363" stop-color="#44189a"/><stop offset="0.394" stop-color="#4523ac"/><stop offset="0.424" stop-color="#4527af"/><stop offset="0.454" stop-color="#451ba1"/><stop offset="0.484" stop-color="#41148d"/><stop offset="0.515" stop-color="#401085"/><stop offset="0.545" stop-color="#421591"/><stop offset="0.575" stop-color="#461da5"/><stop offset="0.606" stop-color="#4528b0"/><stop offset="0.636" stop-color="#4620a9"/><stop offset="0.666" stop-color="#431796"/><stop offset="0.696" stop-color="#401186"/><stop offset="0.727" stop-color="#411289"/><stop offset="0.757" stop-color="#44199c"/><stop offset="0.787" stop-color="#4524ad"/><stop offset="0.818" stop-color="#4526ae"/><stop offset="0.848" stop-color="#441a9f"/><stop offset="0.878" stop-color="#41138b"/><stop offset="0.908" stop-color="#401085"/><stop offset="0.939" stop-color="#421692"/><stop offset="0.969" stop-color="#461ea7"/><stop offset="0.999" stop-color="#4528b0"/><stop offset="0.999" stop-color="#4528b0"/></linearGradient><linearGradient id="fb24" gradientUnits="userSpaceOnUse" x1="375.5" y1="0" x2="507.6" y2="0" spreadMethod="reflect"><stop offset="0.000" stop-color="#4622ab"/><stop offset="0.030" stop-color="#4526ae"/><stop offset="0.061" stop-color="#451ca4"/><stop offset="0.091" stop-color="#421693"/><stop offset="0.121" stop-color="#41138b"/><stop offset="0.151" stop-color="#421693"/><stop offset="0.182" stop-color="#451da5"/><stop offset="0.212" stop-color="#4526af"/><stop offset="0.242" stop-color="#4621aa"/><stop offset="0.273" stop-color="#44199a"/><stop offset="0.303" stop-color="#41138d"/><stop offset="0.333" stop-color="#41148e"/><stop offset="0.363" stop-color="#441a9d"/><stop offset="0.394" stop-color="#4523ac"/><stop offset="0.424" stop-color="#4526ae"/><stop offset="0.454" stop-color="#451ca2"/><stop offset="0.484" stop-color="#421592"/><stop offset="0.515" stop-color="#41138b"/><stop offset="0.545" stop-color="#431695"/><stop offset="0.575" stop-color="#461da6"/><stop offset="0.606" stop-color="#4527af"/><stop offset="0.636" stop-color="#4620a9"/><stop offset="0.666" stop-color="#431899"/><stop offset="0.696" stop-color="#41138c"/><stop offset="0.727" stop-color="#42148f"/><stop offset="0.757" stop-color="#441a9e"/><stop offset="0.787" stop-color="#4524ac"/><stop offset="0.818" stop-color="#4525ae"/><stop offset="0.848" stop-color="#451ba1"/><stop offset="0.878" stop-color="#421590"/><stop offset="0.908" stop-color="#41138b"/><stop offset="0.939" stop-color="#431796"/><stop offset="0.969" stop-color="#461ea7"/><stop offset="0.999" stop-color="#4527af"/><stop offset="0.999" stop-color="#4527af"/></linearGradient><linearGradient id="fb25" gradientUnits="userSpaceOnUse" x1="375.5" y1="0" x2="507.6" y2="0" spreadMethod="reflect"><stop offset="0.000" stop-color="#423cbf"/><stop offset="0.030" stop-color="#404ccc"/><stop offset="0.061" stop-color="#4159d3"/><stop offset="0.091" stop-color="#4364d7"/><stop offset="0.121" stop-color="#436ada"/><stop offset="0.151" stop-color="#446cdc"/><stop offset="0.182" stop-color="#4368da"/><stop offset="0.212" stop-color="#425ed6"/><stop offset="0.242" stop-color="#4151cf"/><stop offset="0.273" stop-color="#4241c3"/><stop offset="0.303" stop-color="#4332b7"/><stop offset="0.333" stop-color="#442ab0"/><stop offset="0.363" stop-color="#4528b0"/><stop offset="0.394" stop-color="#442fb6"/><stop offset="0.424" stop-color="#423cc0"/><stop offset="0.454" stop-color="#404ccc"/><stop offset="0.484" stop-color="#4259d2"/><stop offset="0.515" stop-color="#4364d7"/><stop offset="0.545" stop-color="#436bdb"/><stop offset="0.575" stop-color="#446cdd"/><stop offset="0.606" stop-color="#4368db"/><stop offset="0.636" stop-color="#425ed6"/><stop offset="0.666" stop-color="#4150ce"/><stop offset="0.696" stop-color="#423fc1"/><stop offset="0.727" stop-color="#4332b6"/><stop offset="0.757" stop-color="#442ab1"/><stop offset="0.787" stop-color="#4529b1"/><stop offset="0.818" stop-color="#4430b6"/><stop offset="0.848" stop-color="#423cc0"/><stop offset="0.878" stop-color="#404ccc"/><stop offset="0.908" stop-color="#425ad2"/><stop offset="0.939" stop-color="#4365d8"/><stop offset="0.969" stop-color="#446cdd"/><stop offset="0.999" stop-color="#446dde"/><stop offset="0.999" stop-color="#446dde"/></linearGradient><linearGradient id="fb26" gradientUnits="userSpaceOnUse" x1="375.5" y1="0" x2="507.6" y2="0" spreadMethod="reflect"><stop offset="0.000" stop-color="#423ec1"/><stop offset="0.030" stop-color="#404ece"/><stop offset="0.061" stop-color="#415dd6"/><stop offset="0.091" stop-color="#436bdd"/><stop offset="0.121" stop-color="#4475e2"/><stop offset="0.151" stop-color="#447ae4"/><stop offset="0.182" stop-color="#4477e4"/><stop offset="0.212" stop-color="#436fe0"/><stop offset="0.242" stop-color="#4262d8"/><stop offset="0.273" stop-color="#4053d1"/><stop offset="0.303" stop-color="#4242c5"/><stop offset="0.333" stop-color="#4335bb"/><stop offset="0.363" stop-color="#4430b6"/><stop offset="0.394" stop-color="#4333b9"/><stop offset="0.424" stop-color="#423ec2"/><stop offset="0.454" stop-color="#404fcf"/><stop offset="0.484" stop-color="#415ed7"/><stop offset="0.515" stop-color="#436cde"/><stop offset="0.545" stop-color="#4476e3"/><stop offset="0.575" stop-color="#447ae4"/><stop offset="0.606" stop-color="#4477e3"/><stop offset="0.636" stop-color="#436edf"/><stop offset="0.666" stop-color="#4261d8"/><stop offset="0.696" stop-color="#4052d0"/><stop offset="0.727" stop-color="#4241c4"/><stop offset="0.757" stop-color="#4335ba"/><stop offset="0.787" stop-color="#4430b6"/><stop offset="0.818" stop-color="#4334ba"/><stop offset="0.848" stop-color="#423fc2"/><stop offset="0.878" stop-color="#4050d0"/><stop offset="0.908" stop-color="#415fd7"/><stop offset="0.939" stop-color="#436cde"/><stop offset="0.969" stop-color="#4476e3"/><stop offset="0.999" stop-color="#457ae4"/><stop offset="0.999" stop-color="#457ae4"/></linearGradient><linearGradient id="fb27" gradientUnits="userSpaceOnUse" x1="375.5" y1="0" x2="507.6" y2="0" spreadMethod="reflect"><stop offset="0.000" stop-color="#423fc2"/><stop offset="0.030" stop-color="#404dcd"/><stop offset="0.061" stop-color="#415cd6"/><stop offset="0.091" stop-color="#436add"/><stop offset="0.121" stop-color="#4477e3"/><stop offset="0.151" stop-color="#467ee6"/><stop offset="0.182" stop-color="#467ee6"/><stop offset="0.212" stop-color="#4478e4"/><stop offset="0.242" stop-color="#436dde"/><stop offset="0.273" stop-color="#415ed7"/><stop offset="0.303" stop-color="#404fcf"/><stop offset="0.333" stop-color="#4240c3"/><stop offset="0.363" stop-color="#4338bd"/><stop offset="0.394" stop-color="#4337bc"/><stop offset="0.424" stop-color="#423fc3"/><stop offset="0.454" stop-color="#404ece"/><stop offset="0.484" stop-color="#415dd6"/><stop offset="0.515" stop-color="#436bde"/><stop offset="0.545" stop-color="#4477e4"/><stop offset="0.575" stop-color="#467ee6"/><stop offset="0.606" stop-color="#467ee6"/><stop offset="0.636" stop-color="#4478e4"/><stop offset="0.666" stop-color="#436cde"/><stop offset="0.696" stop-color="#415dd7"/><stop offset="0.727" stop-color="#404ece"/><stop offset="0.757" stop-color="#4240c3"/><stop offset="0.787" stop-color="#4338bc"/><stop offset="0.818" stop-color="#4338bd"/><stop offset="0.848" stop-color="#4240c3"/><stop offset="0.878" stop-color="#404fcf"/><stop offset="0.908" stop-color="#415ed7"/><stop offset="0.939" stop-color="#436cde"/><stop offset="0.969" stop-color="#4478e4"/><stop offset="0.999" stop-color="#467ee6"/><stop offset="0.999" stop-color="#467ee6"/></linearGradient><linearGradient id="fb28" gradientUnits="userSpaceOnUse" x1="375.5" y1="0" x2="507.6" y2="0" spreadMethod="reflect"><stop offset="0.000" stop-color="#5298ec"/><stop offset="0.030" stop-color="#539aed"/><stop offset="0.061" stop-color="#559cee"/><stop offset="0.091" stop-color="#589fef"/><stop offset="0.121" stop-color="#5ba2f0"/><stop offset="0.151" stop-color="#5da4f0"/><stop offset="0.182" stop-color="#5da4f0"/><stop offset="0.212" stop-color="#5aa2f0"/><stop offset="0.242" stop-color="#539cee"/><stop offset="0.273" stop-color="#4e90eb"/><stop offset="0.303" stop-color="#4982e6"/><stop offset="0.333" stop-color="#4577e3"/><stop offset="0.363" stop-color="#4473e1"/><stop offset="0.394" stop-color="#4679e3"/><stop offset="0.424" stop-color="#4b85e6"/><stop offset="0.454" stop-color="#5092eb"/><stop offset="0.484" stop-color="#569dee"/><stop offset="0.515" stop-color="#5da2ef"/><stop offset="0.545" stop-color="#60a5f1"/><stop offset="0.575" stop-color="#60a6f1"/><stop offset="0.606" stop-color="#5ca4f0"/><stop offset="0.636" stop-color="#559eef"/><stop offset="0.666" stop-color="#4f93ec"/><stop offset="0.696" stop-color="#4a85e8"/><stop offset="0.727" stop-color="#4579e4"/><stop offset="0.757" stop-color="#4474e2"/><stop offset="0.787" stop-color="#4678e2"/><stop offset="0.818" stop-color="#4a82e6"/><stop offset="0.848" stop-color="#4f90ea"/><stop offset="0.878" stop-color="#559bed"/><stop offset="0.908" stop-color="#5ca1ef"/><stop offset="0.939" stop-color="#60a5f0"/><stop offset="0.969" stop-color="#62a7f1"/><stop offset="0.999" stop-color="#63a8f1"/><stop offset="0.999" stop-color="#63a8f1"/></linearGradient><linearGradient id="fb29" gradientUnits="userSpaceOnUse" x1="375.5" y1="0" x2="507.6" y2="0" spreadMethod="reflect"><stop offset="0.000" stop-color="#54a0f0"/><stop offset="0.030" stop-color="#55a1f0"/><stop offset="0.061" stop-color="#57a2f0"/><stop offset="0.091" stop-color="#5aa4f1"/><stop offset="0.121" stop-color="#5ca5f1"/><stop offset="0.151" stop-color="#5da6f1"/><stop offset="0.182" stop-color="#5aa4f1"/><stop offset="0.212" stop-color="#559ff0"/><stop offset="0.242" stop-color="#4f94ec"/><stop offset="0.273" stop-color="#4a86e8"/><stop offset="0.303" stop-color="#467ce5"/><stop offset="0.333" stop-color="#4478e4"/><stop offset="0.363" stop-color="#467ee6"/><stop offset="0.394" stop-color="#4c8ae9"/><stop offset="0.424" stop-color="#5198ee"/><stop offset="0.454" stop-color="#58a2f0"/><stop offset="0.484" stop-color="#5fa7f1"/><stop offset="0.515" stop-color="#62aaf2"/><stop offset="0.545" stop-color="#63aaf2"/><stop offset="0.575" stop-color="#60a8f1"/><stop offset="0.606" stop-color="#5aa4f1"/><stop offset="0.636" stop-color="#529cef"/><stop offset="0.666" stop-color="#4d8eea"/><stop offset="0.696" stop-color="#4881e6"/><stop offset="0.727" stop-color="#4479e4"/><stop offset="0.757" stop-color="#457ae4"/><stop offset="0.787" stop-color="#4883e7"/><stop offset="0.818" stop-color="#4e91ec"/><stop offset="0.848" stop-color="#549ef0"/><stop offset="0.878" stop-color="#5ca5f1"/><stop offset="0.908" stop-color="#61a9f2"/><stop offset="0.939" stop-color="#64abf2"/><stop offset="0.969" stop-color="#65acf2"/><stop offset="0.999" stop-color="#66acf2"/><stop offset="0.999" stop-color="#66acf2"/></linearGradient><linearGradient id="fb30" gradientUnits="userSpaceOnUse" x1="375.5" y1="0" x2="507.6" y2="0" spreadMethod="reflect"><stop offset="0.000" stop-color="#8ac4f8"/><stop offset="0.030" stop-color="#8ac4f8"/><stop offset="0.061" stop-color="#8ac4f8"/><stop offset="0.091" stop-color="#8cc5f8"/><stop offset="0.121" stop-color="#8cc6f8"/><stop offset="0.151" stop-color="#8cc5f8"/><stop offset="0.182" stop-color="#8ac4f8"/><stop offset="0.212" stop-color="#8ac2f7"/><stop offset="0.242" stop-color="#88bff6"/><stop offset="0.273" stop-color="#87bcf5"/><stop offset="0.303" stop-color="#86baf4"/><stop offset="0.333" stop-color="#86baf4"/><stop offset="0.363" stop-color="#87bdf6"/><stop offset="0.394" stop-color="#88c0f6"/><stop offset="0.424" stop-color="#8ac4f8"/><stop offset="0.454" stop-color="#8cc6f8"/><stop offset="0.484" stop-color="#8ec6f8"/><stop offset="0.515" stop-color="#8ec6f8"/><stop offset="0.545" stop-color="#8ec6f8"/><stop offset="0.575" stop-color="#8cc6f8"/><stop offset="0.606" stop-color="#8bc4f8"/><stop offset="0.636" stop-color="#89c2f7"/><stop offset="0.666" stop-color="#88bef6"/><stop offset="0.696" stop-color="#86bcf5"/><stop offset="0.727" stop-color="#86baf4"/><stop offset="0.757" stop-color="#86bbf5"/><stop offset="0.787" stop-color="#88bef6"/><stop offset="0.818" stop-color="#89c2f7"/><stop offset="0.848" stop-color="#8ac4f8"/><stop offset="0.878" stop-color="#8cc6f8"/><stop offset="0.908" stop-color="#8ec6f8"/><stop offset="0.939" stop-color="#8ec7f8"/><stop offset="0.969" stop-color="#8ec7f8"/><stop offset="0.999" stop-color="#8ec7f8"/><stop offset="0.999" stop-color="#8ec7f8"/></linearGradient><linearGradient id="fb31" gradientUnits="userSpaceOnUse" x1="375.5" y1="0" x2="507.6" y2="0" spreadMethod="reflect"><stop offset="0.000" stop-color="#9acffa"/><stop offset="0.030" stop-color="#a9d8fc"/><stop offset="0.061" stop-color="#b2dffc"/><stop offset="0.091" stop-color="#b8e3fd"/><stop offset="0.121" stop-color="#bce6fd"/><stop offset="0.151" stop-color="#bee7fd"/><stop offset="0.182" stop-color="#bee8fd"/><stop offset="0.212" stop-color="#bee8fd"/><stop offset="0.242" stop-color="#bfe9fd"/><stop offset="0.273" stop-color="#bfe9fd"/><stop offset="0.303" stop-color="#bfe9fd"/><stop offset="0.333" stop-color="#c0e9fd"/><stop offset="0.363" stop-color="#c0e9fd"/><stop offset="0.394" stop-color="#c0e9fd"/><stop offset="0.424" stop-color="#c0e9fd"/><stop offset="0.454" stop-color="#c0e9fd"/><stop offset="0.484" stop-color="#c0e9fd"/><stop offset="0.515" stop-color="#c0e9fd"/><stop offset="0.545" stop-color="#c0e9fd"/><stop offset="0.575" stop-color="#c0e9fd"/><stop offset="0.606" stop-color="#c0e9fd"/><stop offset="0.636" stop-color="#c0e9fd"/><stop offset="0.666" stop-color="#c0e9fd"/><stop offset="0.696" stop-color="#c0e9fd"/><stop offset="0.727" stop-color="#c0e9fd"/><stop offset="0.757" stop-color="#c0e9fd"/><stop offset="0.787" stop-color="#c0e9fd"/><stop offset="0.818" stop-color="#c0e9fd"/><stop offset="0.848" stop-color="#c0e9fd"/><stop offset="0.878" stop-color="#c0e9fd"/><stop offset="0.908" stop-color="#c0e9fd"/><stop offset="0.939" stop-color="#c0e9fd"/><stop offset="0.969" stop-color="#c0e9fd"/><stop offset="0.999" stop-color="#c0e9fd"/><stop offset="0.999" stop-color="#c0e9fd"/></linearGradient><linearGradient id="fb32" gradientUnits="userSpaceOnUse" x1="375.5" y1="0" x2="507.6" y2="0" spreadMethod="reflect"><stop offset="0.000" stop-color="#a1d4fb"/><stop offset="0.030" stop-color="#aedbfc"/><stop offset="0.061" stop-color="#b6e2fc"/><stop offset="0.091" stop-color="#bbe5fd"/><stop offset="0.121" stop-color="#bee7fd"/><stop offset="0.151" stop-color="#bfe8fd"/><stop offset="0.182" stop-color="#c0e9fd"/><stop offset="0.212" stop-color="#c1e9fd"/><stop offset="0.242" stop-color="#c1eafd"/><stop offset="0.273" stop-color="#c1eafd"/><stop offset="0.303" stop-color="#c1eafd"/><stop offset="0.333" stop-color="#c1eafd"/><stop offset="0.363" stop-color="#c1eafd"/><stop offset="0.394" stop-color="#c1eafd"/><stop offset="0.424" stop-color="#c1eafd"/><stop offset="0.454" stop-color="#c1eafd"/><stop offset="0.484" stop-color="#c1eafd"/><stop offset="0.515" stop-color="#c1eafd"/><stop offset="0.545" stop-color="#c1eafd"/><stop offset="0.575" stop-color="#c1eafd"/><stop offset="0.606" stop-color="#c1eafd"/><stop offset="0.636" stop-color="#c1eafd"/><stop offset="0.666" stop-color="#c1eafd"/><stop offset="0.696" stop-color="#c1eafd"/><stop offset="0.727" stop-color="#c1eafd"/><stop offset="0.757" stop-color="#c1eafd"/><stop offset="0.787" stop-color="#c1eafd"/><stop offset="0.818" stop-color="#c1eafd"/><stop offset="0.848" stop-color="#c1eafd"/><stop offset="0.878" stop-color="#c1eafd"/><stop offset="0.908" stop-color="#c1eafd"/><stop offset="0.939" stop-color="#c1eafd"/><stop offset="0.969" stop-color="#c1eafd"/><stop offset="0.999" stop-color="#c1eafd"/><stop offset="0.999" stop-color="#c1eafd"/></linearGradient><linearGradient id="fb33" gradientUnits="userSpaceOnUse" x1="375.5" y1="0" x2="507.6" y2="0" spreadMethod="reflect"><stop offset="0.000" stop-color="#a8d8fc"/><stop offset="0.030" stop-color="#b3dffc"/><stop offset="0.061" stop-color="#b9e4fd"/><stop offset="0.091" stop-color="#bde6fd"/><stop offset="0.121" stop-color="#bfe8fd"/><stop offset="0.151" stop-color="#c0e9fd"/><stop offset="0.182" stop-color="#c0e9fd"/><stop offset="0.212" stop-color="#c1eafd"/><stop offset="0.242" stop-color="#c1eafd"/><stop offset="0.273" stop-color="#c1eafd"/><stop offset="0.303" stop-color="#c1eafd"/><stop offset="0.333" stop-color="#c1eafd"/><stop offset="0.363" stop-color="#c1eafd"/><stop offset="0.394" stop-color="#c1eafd"/><stop offset="0.424" stop-color="#c1eafd"/><stop offset="0.454" stop-color="#c1eafd"/><stop offset="0.484" stop-color="#c1eafd"/><stop offset="0.515" stop-color="#c1eafd"/><stop offset="0.545" stop-color="#c1eafd"/><stop offset="0.575" stop-color="#c1eafd"/><stop offset="0.606" stop-color="#c1eafd"/><stop offset="0.636" stop-color="#c1eafd"/><stop offset="0.666" stop-color="#c1eafd"/><stop offset="0.696" stop-color="#c1eafd"/><stop offset="0.727" stop-color="#c1eafd"/><stop offset="0.757" stop-color="#c1eafd"/><stop offset="0.787" stop-color="#c1eafd"/><stop offset="0.818" stop-color="#c1eafd"/><stop offset="0.848" stop-color="#c1eafd"/><stop offset="0.878" stop-color="#c1eafd"/><stop offset="0.908" stop-color="#c1eafd"/><stop offset="0.939" stop-color="#c1eafd"/><stop offset="0.969" stop-color="#c1eafd"/><stop offset="0.999" stop-color="#c1eafd"/><stop offset="0.999" stop-color="#c1eafd"/></linearGradient></defs><g><rect x="375.5" y="1" width="264.20" height="6" fill="url(#fb0)" shape-rendering="crispEdges"/><rect x="375.5" y="7" width="264.20" height="7" fill="url(#fb1)" shape-rendering="crispEdges"/><rect x="375.5" y="14" width="264.20" height="7" fill="url(#fb2)" shape-rendering="crispEdges"/><rect x="375.5" y="21" width="264.20" height="6" fill="url(#fb3)" shape-rendering="crispEdges"/><rect x="375.5" y="27" width="264.20" height="7" fill="url(#fb4)" shape-rendering="crispEdges"/><rect x="375.5" y="34" width="264.20" height="6" fill="url(#fb5)" shape-rendering="crispEdges"/><rect x="375.5" y="40" width="264.20" height="6" fill="url(#fb6)" shape-rendering="crispEdges"/><rect x="375.5" y="46" width="264.20" height="7" fill="url(#fb7)" shape-rendering="crispEdges"/><rect x="375.5" y="53" width="264.20" height="6" fill="url(#fb8)" shape-rendering="crispEdges"/><rect x="375.5" y="59" width="264.20" height="8" fill="url(#fb9)" shape-rendering="crispEdges"/><rect x="375.5" y="67" width="264.20" height="8" fill="url(#fb10)" shape-rendering="crispEdges"/><rect x="375.5" y="75" width="264.20" height="8" fill="url(#fb11)" shape-rendering="crispEdges"/><rect x="375.5" y="83" width="264.20" height="9" fill="url(#fb12)" shape-rendering="crispEdges"/><rect x="375.5" y="92" width="264.20" height="9" fill="url(#fb13)" shape-rendering="crispEdges"/><rect x="375.5" y="101" width="264.20" height="10" fill="url(#fb14)" shape-rendering="crispEdges"/><rect x="375.5" y="111" width="264.20" height="9" fill="url(#fb15)" shape-rendering="crispEdges"/><rect x="375.5" y="120" width="264.20" height="9" fill="url(#fb16)" shape-rendering="crispEdges"/><rect x="375.5" y="129" width="264.20" height="9" fill="url(#fb17)" shape-rendering="crispEdges"/><rect x="375.5" y="138" width="264.20" height="10" fill="url(#fb18)" shape-rendering="crispEdges"/><rect x="375.5" y="148" width="264.20" height="9" fill="url(#fb19)" shape-rendering="crispEdges"/><rect x="375.5" y="157" width="264.20" height="9" fill="url(#fb20)" shape-rendering="crispEdges"/><rect x="375.5" y="166" width="264.20" height="10" fill="url(#fb21)" shape-rendering="crispEdges"/><rect x="375.5" y="176" width="264.20" height="7" fill="url(#fb22)" shape-rendering="crispEdges"/><rect x="375.5" y="183" width="264.20" height="8" fill="url(#fb23)" shape-rendering="crispEdges"/><rect x="375.5" y="191" width="264.20" height="7" fill="url(#fb24)" shape-rendering="crispEdges"/><rect x="375.5" y="198" width="264.20" height="6" fill="url(#fb25)" shape-rendering="crispEdges"/><rect x="375.5" y="204" width="264.20" height="6" fill="url(#fb26)" shape-rendering="crispEdges"/><rect x="375.5" y="210" width="264.20" height="6" fill="url(#fb27)" shape-rendering="crispEdges"/><rect x="375.5" y="216" width="264.20" height="6" fill="url(#fb28)" shape-rendering="crispEdges"/><rect x="375.5" y="222" width="264.20" height="6" fill="url(#fb29)" shape-rendering="crispEdges"/><rect x="375.5" y="228" width="264.20" height="2" fill="url(#fb30)" shape-rendering="crispEdges"/><rect x="375.5" y="230" width="264.20" height="11" fill="url(#fb31)" shape-rendering="crispEdges"/><rect x="375.5" y="241" width="264.20" height="12" fill="url(#fb32)" shape-rendering="crispEdges"/><rect x="375.5" y="253" width="264.20" height="11" fill="url(#fb33)" shape-rendering="crispEdges"/></g><rect x="666.6" y="1.0" width="65.60" height="130.90" fill="#a9a9a9"/><rect x="666.6" y="131.9" width="65.60" height="131.30" fill="#d9d9d9"/><rect x="666.6" y="246.30" width="65.60" height="1.2" fill="#cc8888" /><rect x="666.6" y="228.40" width="65.60" height="1.2" fill="#cc8888" /><rect x="666.6" y="208.70" width="65.60" height="1.2" fill="#cc8888" /><rect x="666.6" y="184.90" width="65.60" height="1.2" fill="#cc8888" /><path d="M666.6,16.9 H732.2" stroke="#b87474" stroke-width="1.3" stroke-dasharray="3 3.5"/><path d="M666.6,34.3 H732.2" stroke="#b87474" stroke-width="1.3" stroke-dasharray="3 3.5"/><path d="M666.6,54.0 H732.2" stroke="#b87474" stroke-width="1.3" stroke-dasharray="3 3.5"/><path d="M666.6,77.9 H732.2" stroke="#b87474" stroke-width="1.3" stroke-dasharray="3 3.5"/><rect x="666.6" y="132.2" width="65.60" height="1.0" fill="#e2bcbc"/><path d="M666.6,131.6 H732.2" stroke="#a04452" stroke-width="1.3" stroke-dasharray="3.2 3.3"/><g clip-path="url(#clipD)"><path d="M666.90,263.20 L667.55,262.33 L668.20,261.45 L668.86,260.58 L669.51,259.70 L670.16,258.83 L670.81,257.95 L671.46,257.08 L672.11,256.21 L672.76,255.33 L673.41,254.46 L674.06,253.58 L674.71,252.71 L675.36,251.84 L676.00,250.96 L676.65,250.09 L677.29,249.21 L677.93,248.34 L678.57,247.46 L679.21,246.59 L679.85,245.72 L680.49,244.84 L681.13,243.97 L681.76,243.09 L682.39,242.22 L683.03,241.35 L683.66,240.47 L684.28,239.60 L684.91,238.72 L685.53,237.85 L686.15,236.97 L686.77,236.10 L687.39,235.23 L688.01,234.35 L688.62,233.48 L689.23,232.60 L689.84,231.73 L690.44,230.86 L691.05,229.98 L691.65,229.11 L692.25,228.23 L692.84,227.36 L693.43,226.48 L694.02,225.61 L694.61,224.74 L695.19,223.86 L695.77,222.99 L696.35,222.11 L696.92,221.24 L697.49,220.37 L698.06,219.49 L698.62,218.62 L699.18,217.74 L699.74,216.87 L700.29,215.99 L700.84,215.12 L701.39,214.25 L701.93,213.37 L702.47,212.50 L703.01,211.62 L703.54,210.75 L704.06,209.88 L704.58,209.00 L705.10,208.13 L705.62,207.25 L706.13,206.38 L706.63,205.50 L707.13,204.63 L707.63,203.76 L708.12,202.88 L708.61,202.01 L709.10,201.13 L709.58,200.26 L710.05,199.39 L710.52,198.51 L710.98,197.64 L711.44,196.76 L711.90,195.89 L712.35,195.01 L712.79,194.14 L713.24,193.27 L713.67,192.39 L714.10,191.52 L714.53,190.64 L714.95,189.77 L715.36,188.90 L715.77,188.02 L716.17,187.15 L716.57,186.27 L716.97,185.40 L717.35,184.52 L717.74,183.65 L718.11,182.78 L718.48,181.90 L718.85,181.03 L719.21,180.15 L719.56,179.28 L719.91,178.40 L720.25,177.53 L720.59,176.66 L720.92,175.78 L721.25,174.91 L721.57,174.03 L721.88,173.16 L722.19,172.29 L722.49,171.41 L722.78,170.54 L723.07,169.66 L723.36,168.79 L723.63,167.91 L723.90,167.04 L724.17,166.17 L724.43,165.29 L724.68,164.42 L724.92,163.54 L725.16,162.67 L725.40,161.80 L725.62,160.92 L725.84,160.05 L726.06,159.17 L726.26,158.30 L726.46,157.42 L726.66,156.55 L726.85,155.68 L727.03,154.80 L727.20,153.93 L727.37,153.05 L727.53,152.18 L727.69,151.31 L727.84,150.43 L727.98,149.56 L728.11,148.68 L728.24,147.81 L728.36,146.93 L728.48,146.06 L728.59,145.19 L728.69,144.31 L728.78,143.44 L728.87,142.56 L728.95,141.69 L729.03,140.82 L729.09,139.94 L729.16,139.07 L729.21,138.19 L729.26,137.32 L729.30,136.44 L729.33,135.57 L729.36,134.70 L729.38,133.82 L729.39,132.95 L729.40,132.07 L729.40,131.20 L729.39,130.33 L729.38,129.45 L729.36,128.58 L729.33,127.70 L729.30,126.83 L729.26,125.95 L729.21,125.08 L729.15,124.21 L729.09,123.33 L729.02,122.46 L728.95,121.58 L728.87,120.71 L728.78,119.84 L728.68,118.96 L728.58,118.09 L728.47,117.21 L728.36,116.34 L728.24,115.46 L728.11,114.59 L727.97,113.72 L727.83,112.84 L727.68,111.97 L727.53,111.09 L727.36,110.22 L727.19,109.35 L727.02,108.47 L726.84,107.60 L726.65,106.72 L726.46,105.85 L726.25,104.97 L726.05,104.10 L725.83,103.23 L725.61,102.35 L725.39,101.48 L725.15,100.60 L724.91,99.73 L724.67,98.85 L724.41,97.98 L724.16,97.11 L723.89,96.23 L723.62,95.36 L723.34,94.48 L723.06,93.61 L722.77,92.74 L722.48,91.86 L722.17,90.99 L721.87,90.11 L721.55,89.24 L721.23,88.36 L720.91,87.49 L720.58,86.62 L720.24,85.74 L719.90,84.87 L719.55,83.99 L719.19,83.12 L718.83,82.25 L718.47,81.37 L718.10,80.50 L717.72,79.62 L717.34,78.75 L716.95,77.87 L716.55,77.00 L716.16,76.13 L715.75,75.25 L715.34,74.38 L714.93,73.50 L714.51,72.63 L714.08,71.76 L713.65,70.88 L713.22,70.01 L712.78,69.13 L712.33,68.26 L711.88,67.38 L711.42,66.51 L710.96,65.64 L710.50,64.76 L710.03,63.89 L709.55,63.01 L709.07,62.14 L708.59,61.27 L708.10,60.39 L707.61,59.52 L707.11,58.64 L706.61,57.77 L706.10,56.89 L705.59,56.02 L705.08,55.15 L704.56,54.27 L704.04,53.40 L703.51,52.52 L702.98,51.65 L702.45,50.78 L701.91,49.90 L701.37,49.03 L700.82,48.15 L700.27,47.28 L699.72,46.40 L699.16,45.53 L698.60,44.66 L698.03,43.78 L697.47,42.91 L696.90,42.03 L696.32,41.16 L695.75,40.29 L695.17,39.41 L694.58,38.54 L694.00,37.66 L693.41,36.79 L692.81,35.91 L692.22,35.04 L691.62,34.17 L691.02,33.29 L690.42,32.42 L689.81,31.54 L689.20,30.67 L688.59,29.80 L687.98,28.92 L687.36,28.05 L686.75,27.17 L686.13,26.30 L685.50,25.42 L684.88,24.55 L684.26,23.68 L683.63,22.80 L683.00,21.93 L682.37,21.05 L681.73,20.18 L681.10,19.30 L680.46,18.43 L679.83,17.56 L679.19,16.68 L678.55,15.81 L677.90,14.93 L677.26,14.06 L676.62,13.19 L675.97,12.31 L675.33,11.44 L674.68,10.56 L674.03,9.69 L673.38,8.81 L672.73,7.94 L672.08,7.07 L671.43,6.19 L670.78,5.32 L670.13,4.44 L669.48,3.57 L668.83,2.70 L668.18,1.82 L667.52,0.95" fill="none" stroke="#ae0c0c" stroke-width="2.0"/></g><defs><clipPath id="clipD"><rect x="666.6" y="1.0" width="65.60" height="262.20"/></clipPath></defs><text x="669.6" y="127.8" font-family="Liberation Serif" font-size="11.6" fill="#000" stroke="#000" stroke-width="0.12">Backward</text><text x="669.6" y="143.7" font-family="Liberation Serif" font-size="11.6" fill="#000" stroke="#000" stroke-width="0.12">Forward</text><rect x="666.6" y="1.0" width="65.60" height="262.20" fill="none" stroke="#000" stroke-width="1.2"/><path d="M666.6,263.20h3M732.2,263.20h-3M666.6,252.76h1.6M732.2,252.76h-1.6M666.6,242.32h1.6M732.2,242.32h-1.6M666.6,231.88h1.6M732.2,231.88h-1.6M666.6,221.44h3M732.2,221.44h-3M666.6,211.00h1.6M732.2,211.00h-1.6M666.6,200.56h1.6M732.2,200.56h-1.6M666.6,190.12h1.6M732.2,190.12h-1.6M666.6,179.68h3M732.2,179.68h-3M666.6,169.24h1.6M732.2,169.24h-1.6M666.6,158.80h1.6M732.2,158.80h-1.6M666.6,148.36h1.6M732.2,148.36h-1.6M666.6,137.92h3M732.2,137.92h-3M666.6,127.48h1.6M732.2,127.48h-1.6M666.6,117.04h1.6M732.2,117.04h-1.6M666.6,106.60h1.6M732.2,106.60h-1.6M666.6,96.16h3M732.2,96.16h-3M666.6,85.72h1.6M732.2,85.72h-1.6M666.6,75.28h1.6M732.2,75.28h-1.6M666.6,64.84h1.6M732.2,64.84h-1.6M666.6,54.40h3M732.2,54.40h-3M666.6,43.96h1.6M732.2,43.96h-1.6M666.6,33.52h1.6M732.2,33.52h-1.6M666.6,23.08h1.6M732.2,23.08h-1.6M666.6,12.64h3M732.2,12.64h-3M666.6,2.20h1.6M732.2,2.20h-1.6M666.90,263.2v-3M666.90,1.0v3M673.15,263.2v-1.6M673.15,1.0v1.6M679.40,263.2v-3M679.40,1.0v3M685.65,263.2v-1.6M685.65,1.0v1.6M691.90,263.2v-3M691.90,1.0v3M698.15,263.2v-1.6M698.15,1.0v1.6M704.40,263.2v-3M704.40,1.0v3M710.65,263.2v-1.6M710.65,1.0v1.6M716.90,263.2v-3M716.90,1.0v3M723.15,263.2v-1.6M723.15,1.0v1.6M729.40,263.2v-3M729.40,1.0v3" stroke="#000" stroke-width="0.9"/><g font-family="Liberation Serif" font-size="12" fill="#000" stroke="#000" stroke-width="0.12"><text x="666.90" y="275.6" text-anchor="middle">0</text><text x="679.40" y="275.6" text-anchor="middle">1</text><text x="691.90" y="275.6" text-anchor="middle">2</text><text x="704.40" y="275.6" text-anchor="middle">3</text><text x="716.90" y="275.6" text-anchor="middle">4</text><text x="729.40" y="275.6" text-anchor="middle">5</text><text x="734.4" y="266.90">0</text><text x="734.4" y="225.14">2</text><text x="734.4" y="183.38">4</text><text x="734.4" y="141.62">6</text><text x="734.4" y="99.86">8</text><text x="734.4" y="58.10">10</text><text x="734.4" y="16.34">12</text></g><text y="297.1" font-family="Liberation Serif" font-size="18" fill="#000" stroke="#000" stroke-width="0.2"><tspan x="684.3" font-style="italic">H</tspan><tspan>(</tspan><tspan font-style="italic">t</tspan><tspan>)</tspan></text><g font-family="Liberation Serif" font-size="17.5" fill="#000" stroke="#000" stroke-width="0.2"><text transform="translate(756.8,151.2) rotate(-90)" font-style="italic">t</text><text transform="translate(756.8,139.1) rotate(-90)">(ns)</text></g></svg>
<canvas id="cv" width="266" height="265"></canvas>
<svg id="over" width="760" height="302"><path d="M375.5,17.3 H639.7" stroke="#962848" stroke-opacity="0.55" stroke-width="1.3" stroke-dasharray="5.4 5.1" stroke-dashoffset="-0.5"/><path d="M375.5,34.9 H639.7" stroke="#962846" stroke-opacity="0.55" stroke-width="1.3" stroke-dasharray="5.4 5.1" stroke-dashoffset="-0.5"/><path d="M375.5,54.5 H639.7" stroke="#962846" stroke-opacity="0.5" stroke-width="1.3" stroke-dasharray="5.4 5.1" stroke-dashoffset="-0.5"/><path d="M375.5,78.3 H639.7" stroke="#962846" stroke-opacity="0.45" stroke-width="1.3" stroke-dasharray="5.4 5.1" stroke-dashoffset="-0.5"/><rect x="375.5" y="131.8" width="264.20" height="1.3" fill="#781428"/><rect x="375.5" y="186.3" width="264.20" height="1.0" fill="#6c1458"/><rect x="375.5" y="210.1" width="264.20" height="1.0" fill="#6c2070"/><rect x="375.5" y="228.9" width="264.20" height="1.2" fill="#9496ba" /><rect x="375.5" y="246.8" width="264.20" height="1.1" fill="#989cc0" /><rect x="375.5" y="0.7" width="264.20" height="263.70" fill="none" stroke="#000" stroke-width="1.5"/><path d="M375.50,264.4v-3M375.50,0.7v3M388.71,264.4v-1.6M388.71,0.7v1.6M401.92,264.4v-1.6M401.92,0.7v1.6M415.13,264.4v-1.6M415.13,0.7v1.6M428.34,264.4v-3M428.34,0.7v3M441.55,264.4v-1.6M441.55,0.7v1.6M454.76,264.4v-1.6M454.76,0.7v1.6M467.97,264.4v-1.6M467.97,0.7v1.6M481.18,264.4v-3M481.18,0.7v3M494.39,264.4v-1.6M494.39,0.7v1.6M507.60,264.4v-1.6M507.60,0.7v1.6M520.81,264.4v-1.6M520.81,0.7v1.6M534.02,264.4v-3M534.02,0.7v3M547.23,264.4v-1.6M547.23,0.7v1.6M560.44,264.4v-1.6M560.44,0.7v1.6M573.65,264.4v-1.6M573.65,0.7v1.6M586.86,264.4v-3M586.86,0.7v3M600.07,264.4v-1.6M600.07,0.7v1.6M613.28,264.4v-1.6M613.28,0.7v1.6M626.49,264.4v-1.6M626.49,0.7v1.6M639.70,264.4v-3M639.70,0.7v3M375.5,264.40h3M639.7,264.40h-3M375.5,253.90h1.6M639.7,253.90h-1.6M375.5,243.40h1.6M639.7,243.40h-1.6M375.5,232.90h1.6M639.7,232.90h-1.6M375.5,222.40h3M639.7,222.40h-3M375.5,211.90h1.6M639.7,211.90h-1.6M375.5,201.40h1.6M639.7,201.40h-1.6M375.5,190.90h1.6M639.7,190.90h-1.6M375.5,180.40h3M639.7,180.40h-3M375.5,169.90h1.6M639.7,169.90h-1.6M375.5,159.40h1.6M639.7,159.40h-1.6M375.5,148.90h1.6M639.7,148.90h-1.6M375.5,138.40h3M639.7,138.40h-3M375.5,127.90h1.6M639.7,127.90h-1.6M375.5,117.40h1.6M639.7,117.40h-1.6M375.5,106.90h1.6M639.7,106.90h-1.6M375.5,96.40h3M639.7,96.40h-3M375.5,85.90h1.6M639.7,85.90h-1.6M375.5,75.40h1.6M639.7,75.40h-1.6M375.5,64.90h1.6M639.7,64.90h-1.6M375.5,54.40h3M639.7,54.40h-3M375.5,43.90h1.6M639.7,43.90h-1.6M375.5,33.40h1.6M639.7,33.40h-1.6M375.5,22.90h1.6M639.7,22.90h-1.6M375.5,12.40h3M639.7,12.40h-3M375.5,1.90h1.6M639.7,1.90h-1.6" stroke="#000" stroke-width="0.9"/><g font-family="Liberation Serif" font-size="12" fill="#000" stroke="#000" stroke-width="0.12"><text x="428.34" y="276.6" text-anchor="middle">20</text><text x="481.18" y="276.6" text-anchor="middle">40</text><text x="534.02" y="276.6" text-anchor="middle">60</text><text x="586.86" y="276.6" text-anchor="middle">80</text><text x="639.70" y="276.6" text-anchor="middle">100</text><text x="373.8" y="268.10" text-anchor="end">0</text><text x="373.8" y="226.10" text-anchor="end">2</text><text x="373.8" y="184.10" text-anchor="end">4</text><text x="373.8" y="142.10" text-anchor="end">6</text><text x="373.8" y="100.10" text-anchor="end">8</text><text x="373.8" y="58.10" text-anchor="end">10</text><text x="373.8" y="16.10" text-anchor="end">12</text></g><text y="298.4" font-family="Liberation Serif" font-size="18" fill="#000" stroke="#000" stroke-width="0.2"><tspan x="481.6" font-style="italic">x</tspan><tspan x="498.6">(</tspan><tspan font-style="italic">μ</tspan><tspan>m)</tspan></text><g font-family="Liberation Serif" font-size="17.5" fill="#000" stroke="#000" stroke-width="0.2"><text transform="translate(355,152.6) rotate(-90)" font-style="italic">t</text><text transform="translate(355,140.1) rotate(-90)">(ns)</text></g></svg>
</div>
<script>
(function(){
var cv=document.getElementById('cv');if(!cv||!cv.getContext)return;
var ctx=cv.getContext('2d');var W=266,H=265;
var img=ctx.createImageData(W,H),D=img.data;
var CM=[[0,196,236,253],[0.5,172,218,252],[1,152,206,250],[1.5,120,184,244],[2,84,160,240],[2.5,68,120,228],[3,64,80,208],[3.5,70,30,168],[4,62,12,122],[4.5,44,4,90],[5,12,0,16]];
var PI2=2*Math.PI;
function G(x,s){return Math.exp(-x*x/(2*s*s));}
function L(a,b,f){return a+(b-a)*f;}
function sm(a,b,x){var t=(x-a)/(b-a);t=t<0?0:t>1?1:t;return t*t*(3-2*t);}
var X0=375.5,X1=639.7;
function lat(u,P){return Math.cos(PI2*(u-50)/P);} /* 1 at center */
function val(u,y){
  var d=Math.min(u,100-u),f,v,s,sc,a;
  if(y<20.6){f=y/20.6;return 0.85+1.55*G(d-L(31,26,f),4.8)+0.25*G(d,3);}
  if(y<40){f=(y-20.6)/19.4;return 1.5+1.3*G(d-L(12.4,17,f),3.3)+1.25*G(d-L(36.3,38.9,f),3.5)+0.45*G(d,4);}
  if(y<59.4){f=(y-40)/19.4;return L(2.5,2.95,f)+0.55*(G(d-6.8,2.6)+G(d-21,2.8)+G(d-38.2,3))-0.35*G(d,1.8);}
  if(y<82.6){f=(y-59.4)/23.2;return L(3.5,3.85,f)+0.25*(-lat(u,12.3));}
  if(y<175.7){s=(y-132.5)/46;sc=1+0.04*s*s;a=0.52*(1-0.62*s*s);
    return 4.6-0.28*s*s+a*(-lat(u,9.44*sc))-0.35*G(d,1.6);}
  if(y<198.4){f=(y-175.7)/22.7;return L(3.68,3.6,f)+L(0.3,0.18,f)*(-lat(u,9.77));}
  if(y<215.5){f=(y-198.4)/17.1;return L(3.0,2.8,f)-0.42*Math.cos(PI2*(u-51+2*(1-f))/21.1);}
  if(y<227.5){f=(y-215.5)/12;return 1.75+0.75*G(d-L(18.6,15.6,f),3.8)+0.75*G(d-L(38.2,36.4,f),3.8)+0.25*G(d,5);}
  if(y<229.5){return 0.9;}
  f=(y-229.5)/35;return 0.06+L(1.0,0.45,f)*Math.exp(-d/2.6);
}
for(var j=0;j<H;j++){for(var i=0;i<W;i++){
  var r=0,g=0,b=0;
  for(var sj=0;sj<2;sj++)for(var si=0;si<2;si++){
    var px=375+i+0.25+0.5*si, py=j+0.25+0.5*sj;
    var u=(px-X0)/(X1-X0)*100; if(u<0)u=0; if(u>100)u=100;
    var v=val(u,py); if(v<0)v=0; if(v>5)v=5;
    var m=0; while(m<CM.length-2 && v>CM[m+1][0]) m++;
    var A=CM[m],B=CM[m+1],ff=(v-A[0])/(B[0]-A[0]);
    r+=A[1]+(B[1]-A[1])*ff; g+=A[2]+(B[2]-A[2])*ff; b+=A[3]+(B[3]-A[3])*ff;
  }
  var o=(j*W+i)*4; D[o]=r/4;D[o+1]=g/4;D[o+2]=b/4;D[o+3]=255;
}}
ctx.putImageData(img,0,0);
})();

</script>
</body></html>
